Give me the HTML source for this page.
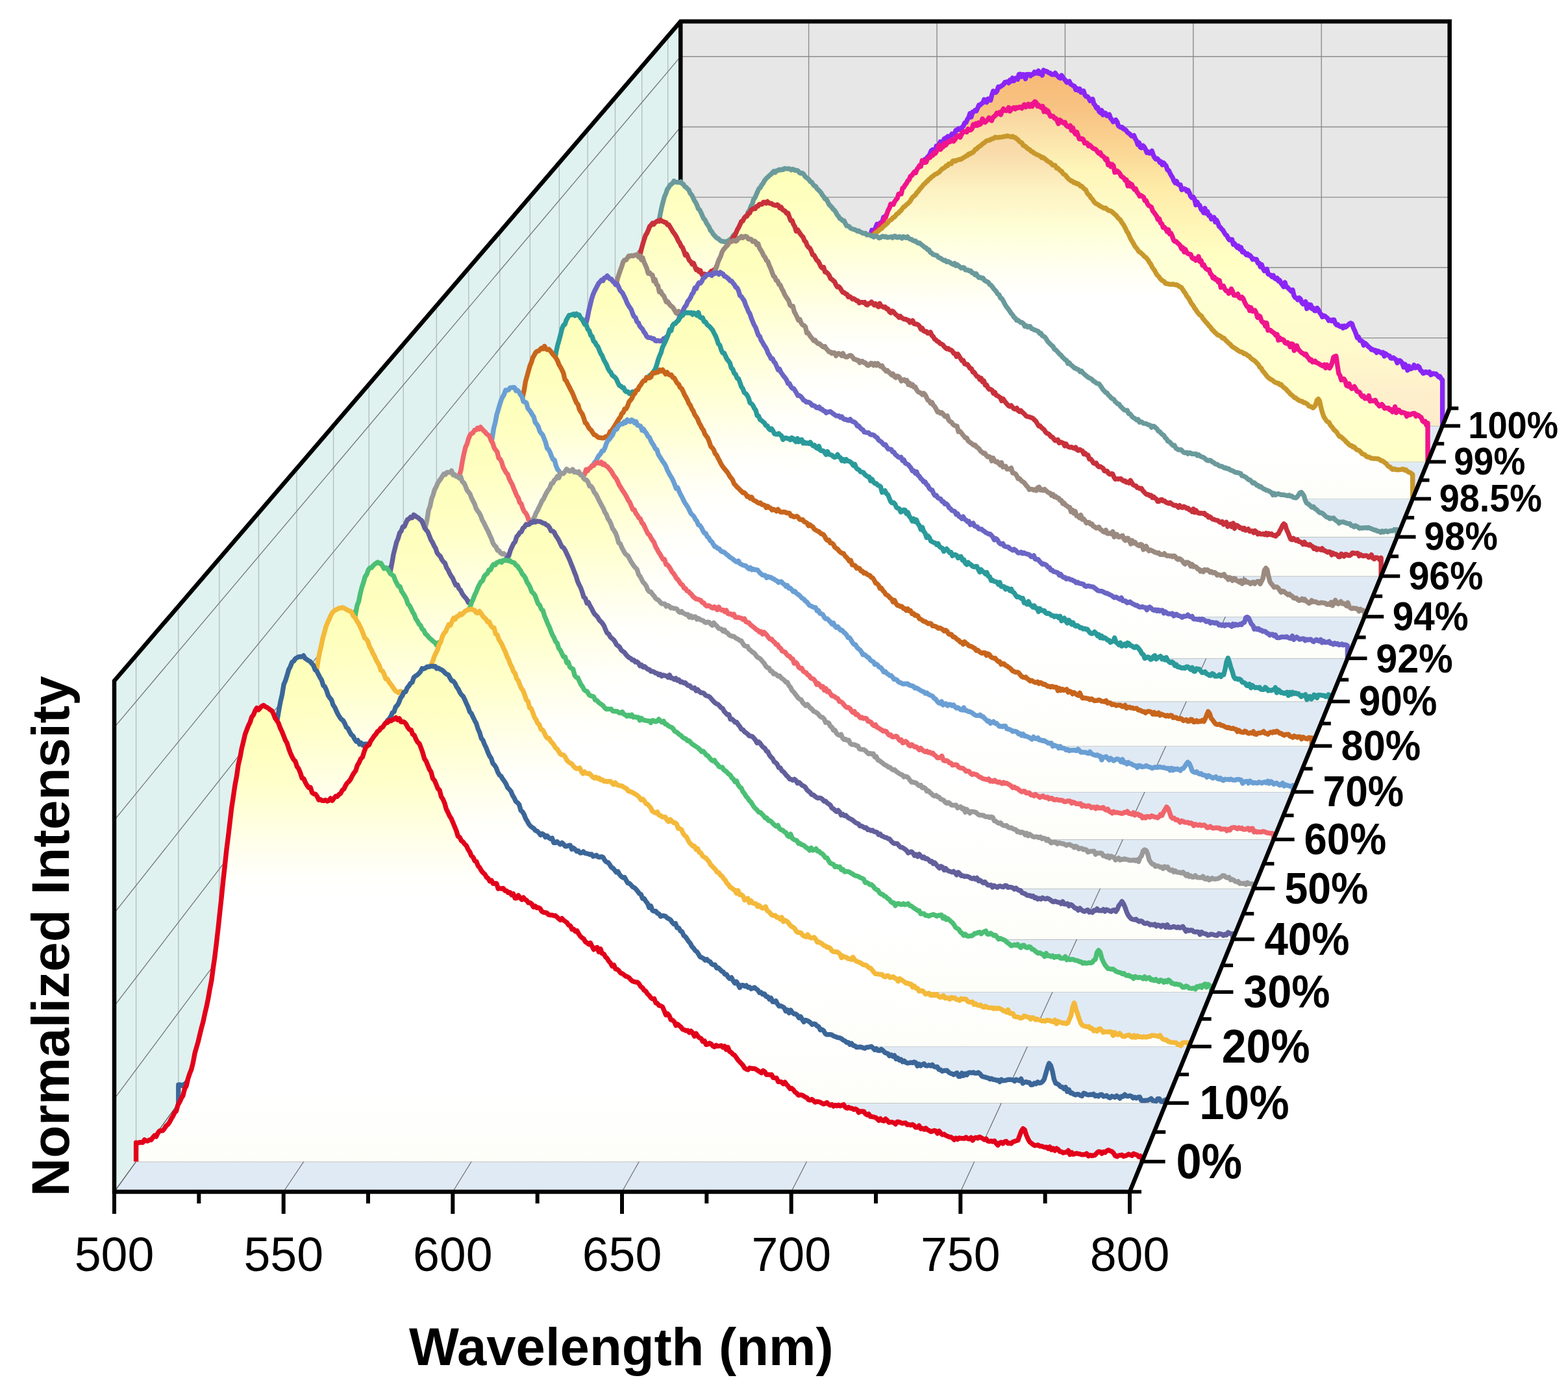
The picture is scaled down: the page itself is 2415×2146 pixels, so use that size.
<!DOCTYPE html>
<html><head><meta charset="utf-8"><title>Normalized Intensity vs Wavelength</title><style>html,body{margin:0;padding:0;background:#fff;}svg{display:block;}</style></head><body>
<svg xmlns="http://www.w3.org/2000/svg" width="2415" height="2146" viewBox="0 0 2415 2146">
<defs><linearGradient id="g0" x1="0" y1="0" x2="0" y2="1"><stop offset="0" stop-color="#fcfdb4"/><stop offset="0.03" stop-color="#fdffbb"/><stop offset="0.1" stop-color="#feffc0"/><stop offset="0.17" stop-color="#ffffcb"/><stop offset="0.24" stop-color="#ffffdb"/><stop offset="0.3" stop-color="#fffeea"/><stop offset="0.37" stop-color="#fffffa"/><stop offset="0.42" stop-color="#ffffff"/><stop offset="0.85" stop-color="#ffffff"/><stop offset="1" stop-color="#fdfef8"/></linearGradient><linearGradient id="g1" x1="0" y1="0" x2="0" y2="1"><stop offset="0" stop-color="#fcfdb4"/><stop offset="0.03" stop-color="#fdffbb"/><stop offset="0.1" stop-color="#feffc0"/><stop offset="0.17" stop-color="#ffffcb"/><stop offset="0.24" stop-color="#ffffdb"/><stop offset="0.3" stop-color="#fffeea"/><stop offset="0.37" stop-color="#fffffa"/><stop offset="0.42" stop-color="#ffffff"/><stop offset="0.85" stop-color="#ffffff"/><stop offset="1" stop-color="#fdfef8"/></linearGradient><linearGradient id="g2" x1="0" y1="0" x2="0" y2="1"><stop offset="0" stop-color="#fcfdb4"/><stop offset="0.03" stop-color="#fdffbb"/><stop offset="0.1" stop-color="#feffc0"/><stop offset="0.17" stop-color="#ffffcb"/><stop offset="0.24" stop-color="#ffffdb"/><stop offset="0.3" stop-color="#fffeea"/><stop offset="0.37" stop-color="#fffffa"/><stop offset="0.42" stop-color="#ffffff"/><stop offset="0.85" stop-color="#ffffff"/><stop offset="1" stop-color="#fdfef8"/></linearGradient><linearGradient id="g3" x1="0" y1="0" x2="0" y2="1"><stop offset="0" stop-color="#fcfdb4"/><stop offset="0.03" stop-color="#fdffbb"/><stop offset="0.1" stop-color="#feffc0"/><stop offset="0.17" stop-color="#ffffcb"/><stop offset="0.24" stop-color="#ffffdb"/><stop offset="0.3" stop-color="#fffeea"/><stop offset="0.37" stop-color="#fffffa"/><stop offset="0.42" stop-color="#ffffff"/><stop offset="0.85" stop-color="#ffffff"/><stop offset="1" stop-color="#fdfef8"/></linearGradient><linearGradient id="g4" x1="0" y1="0" x2="0" y2="1"><stop offset="0" stop-color="#fcfdb4"/><stop offset="0.03" stop-color="#fdffbb"/><stop offset="0.1" stop-color="#feffc0"/><stop offset="0.17" stop-color="#ffffcb"/><stop offset="0.24" stop-color="#ffffdb"/><stop offset="0.3" stop-color="#fffeea"/><stop offset="0.37" stop-color="#fffffa"/><stop offset="0.42" stop-color="#ffffff"/><stop offset="0.85" stop-color="#ffffff"/><stop offset="1" stop-color="#fdfef8"/></linearGradient><linearGradient id="g5" x1="0" y1="0" x2="0" y2="1"><stop offset="0" stop-color="#fcfdb4"/><stop offset="0.03" stop-color="#fdffbb"/><stop offset="0.1" stop-color="#feffc0"/><stop offset="0.17" stop-color="#ffffcb"/><stop offset="0.24" stop-color="#ffffdb"/><stop offset="0.3" stop-color="#fffeea"/><stop offset="0.37" stop-color="#fffffa"/><stop offset="0.42" stop-color="#ffffff"/><stop offset="0.85" stop-color="#ffffff"/><stop offset="1" stop-color="#fdfef8"/></linearGradient><linearGradient id="g6" x1="0" y1="0" x2="0" y2="1"><stop offset="0" stop-color="#fcfdb4"/><stop offset="0.03" stop-color="#fdffbb"/><stop offset="0.1" stop-color="#feffc0"/><stop offset="0.17" stop-color="#ffffcb"/><stop offset="0.24" stop-color="#ffffdb"/><stop offset="0.3" stop-color="#fffeea"/><stop offset="0.37" stop-color="#fffffa"/><stop offset="0.42" stop-color="#ffffff"/><stop offset="0.85" stop-color="#ffffff"/><stop offset="1" stop-color="#fdfef8"/></linearGradient><linearGradient id="g7" x1="0" y1="0" x2="0" y2="1"><stop offset="0" stop-color="#fcfdb4"/><stop offset="0.03" stop-color="#fdffbb"/><stop offset="0.1" stop-color="#feffc0"/><stop offset="0.17" stop-color="#ffffcb"/><stop offset="0.24" stop-color="#ffffdb"/><stop offset="0.3" stop-color="#fffeea"/><stop offset="0.37" stop-color="#fffffa"/><stop offset="0.42" stop-color="#ffffff"/><stop offset="0.85" stop-color="#ffffff"/><stop offset="1" stop-color="#fdfef8"/></linearGradient><linearGradient id="g8" x1="0" y1="0" x2="0" y2="1"><stop offset="0" stop-color="#fcfdb4"/><stop offset="0.03" stop-color="#fdffbb"/><stop offset="0.1" stop-color="#feffc0"/><stop offset="0.17" stop-color="#ffffcb"/><stop offset="0.24" stop-color="#ffffdb"/><stop offset="0.3" stop-color="#fffeea"/><stop offset="0.37" stop-color="#fffffa"/><stop offset="0.42" stop-color="#ffffff"/><stop offset="0.85" stop-color="#ffffff"/><stop offset="1" stop-color="#fdfef8"/></linearGradient><linearGradient id="g9" x1="0" y1="0" x2="0" y2="1"><stop offset="0" stop-color="#fcfdb4"/><stop offset="0.03" stop-color="#fdffbb"/><stop offset="0.1" stop-color="#feffc0"/><stop offset="0.17" stop-color="#ffffcb"/><stop offset="0.24" stop-color="#ffffdb"/><stop offset="0.3" stop-color="#fffeea"/><stop offset="0.37" stop-color="#fffffa"/><stop offset="0.42" stop-color="#ffffff"/><stop offset="0.85" stop-color="#ffffff"/><stop offset="1" stop-color="#fdfef8"/></linearGradient><linearGradient id="g10" x1="0" y1="0" x2="0" y2="1"><stop offset="0" stop-color="#fcfdb4"/><stop offset="0.03" stop-color="#fdffbb"/><stop offset="0.1" stop-color="#feffc0"/><stop offset="0.17" stop-color="#ffffcb"/><stop offset="0.24" stop-color="#ffffdb"/><stop offset="0.3" stop-color="#fffeea"/><stop offset="0.37" stop-color="#fffffa"/><stop offset="0.42" stop-color="#ffffff"/><stop offset="0.85" stop-color="#ffffff"/><stop offset="1" stop-color="#fdfef8"/></linearGradient><linearGradient id="g11" x1="0" y1="0" x2="0" y2="1"><stop offset="0" stop-color="#fcfdb4"/><stop offset="0.03" stop-color="#fdffbb"/><stop offset="0.1" stop-color="#feffc0"/><stop offset="0.17" stop-color="#ffffcb"/><stop offset="0.24" stop-color="#ffffdb"/><stop offset="0.3" stop-color="#fffeea"/><stop offset="0.37" stop-color="#fffffa"/><stop offset="0.42" stop-color="#ffffff"/><stop offset="0.85" stop-color="#ffffff"/><stop offset="1" stop-color="#fdfef8"/></linearGradient><linearGradient id="g12" x1="0" y1="0" x2="0" y2="1"><stop offset="0" stop-color="#fcfdb4"/><stop offset="0.03" stop-color="#fdffbb"/><stop offset="0.1" stop-color="#feffc0"/><stop offset="0.17" stop-color="#ffffcb"/><stop offset="0.24" stop-color="#ffffdb"/><stop offset="0.3" stop-color="#fffeea"/><stop offset="0.37" stop-color="#fffffa"/><stop offset="0.42" stop-color="#ffffff"/><stop offset="0.85" stop-color="#ffffff"/><stop offset="1" stop-color="#fdfef8"/></linearGradient><linearGradient id="g13" x1="0" y1="0" x2="0" y2="1"><stop offset="0" stop-color="#fcfdb4"/><stop offset="0.03" stop-color="#fdffbb"/><stop offset="0.1" stop-color="#feffc0"/><stop offset="0.17" stop-color="#ffffcb"/><stop offset="0.24" stop-color="#ffffdb"/><stop offset="0.3" stop-color="#fffeea"/><stop offset="0.37" stop-color="#fffffa"/><stop offset="0.42" stop-color="#ffffff"/><stop offset="0.85" stop-color="#ffffff"/><stop offset="1" stop-color="#fdfef8"/></linearGradient><linearGradient id="g14" x1="0" y1="0" x2="0" y2="1"><stop offset="0" stop-color="#f8d7a5"/><stop offset="0.05" stop-color="#f9dcab"/><stop offset="0.15" stop-color="#fdf2c2"/><stop offset="0.26" stop-color="#feffd7"/><stop offset="0.36" stop-color="#fffff0"/><stop offset="0.44" stop-color="#ffffff"/><stop offset="0.85" stop-color="#ffffff"/><stop offset="1" stop-color="#fdfef8"/></linearGradient><linearGradient id="g15" x1="0" y1="0" x2="0" y2="1"><stop offset="0" stop-color="#f8d096"/><stop offset="0.05" stop-color="#f9d9a3"/><stop offset="0.19" stop-color="#fef6b9"/><stop offset="0.4" stop-color="#fdffd6"/><stop offset="0.7" stop-color="#ffffcd"/><stop offset="1" stop-color="#ffffc8"/></linearGradient><linearGradient id="g16" x1="0" y1="0" x2="0" y2="1"><stop offset="0" stop-color="#f7b974"/><stop offset="0.1" stop-color="#f8c282"/><stop offset="0.19" stop-color="#fad08e"/><stop offset="0.33" stop-color="#feeba8"/><stop offset="0.53" stop-color="#ffffc4"/><stop offset="0.64" stop-color="#ffffcb"/><stop offset="0.78" stop-color="#fffacb"/><stop offset="0.9" stop-color="#fef0cc"/><stop offset="1" stop-color="#feebca"/></linearGradient></defs>
<rect width="2415" height="2146" fill="#ffffff"/>
<polygon points="1048.20,629.02 1048.20,33.01 2232.65,33.01 2232.65,629.02" fill="#e6e7e6"/>
<line x1="1245.61" y1="629.02" x2="1245.61" y2="33.01" stroke="#8c8c8c" stroke-width="1.4"/>
<line x1="1443.02" y1="629.02" x2="1443.02" y2="33.01" stroke="#8c8c8c" stroke-width="1.4"/>
<line x1="1640.42" y1="629.02" x2="1640.42" y2="33.01" stroke="#8c8c8c" stroke-width="1.4"/>
<line x1="1837.83" y1="629.02" x2="1837.83" y2="33.01" stroke="#8c8c8c" stroke-width="1.4"/>
<line x1="2035.24" y1="629.02" x2="2035.24" y2="33.01" stroke="#8c8c8c" stroke-width="1.4"/>
<line x1="1048.20" y1="520.65" x2="2232.65" y2="520.65" stroke="#8c8c8c" stroke-width="1.4"/>
<line x1="1048.20" y1="412.29" x2="2232.65" y2="412.29" stroke="#8c8c8c" stroke-width="1.4"/>
<line x1="1048.20" y1="303.92" x2="2232.65" y2="303.92" stroke="#8c8c8c" stroke-width="1.4"/>
<line x1="1048.20" y1="195.56" x2="2232.65" y2="195.56" stroke="#8c8c8c" stroke-width="1.4"/>
<line x1="1048.20" y1="87.19" x2="2232.65" y2="87.19" stroke="#8c8c8c" stroke-width="1.4"/>
<polygon points="176.00,1836.00 176.00,1049.00 1048.20,33.01 1048.20,629.02" fill="#dff2f0"/>
<line x1="209.56" y1="1789.56" x2="209.56" y2="1009.91" stroke="#b4bcbc" stroke-width="1.3"/>
<line x1="274.83" y1="1699.24" x2="274.83" y2="933.88" stroke="#b4bcbc" stroke-width="1.3"/>
<line x1="337.75" y1="1612.17" x2="337.75" y2="860.59" stroke="#b4bcbc" stroke-width="1.3"/>
<line x1="398.44" y1="1528.18" x2="398.44" y2="789.89" stroke="#b4bcbc" stroke-width="1.3"/>
<line x1="457.02" y1="1447.11" x2="457.02" y2="721.65" stroke="#b4bcbc" stroke-width="1.3"/>
<line x1="513.61" y1="1368.81" x2="513.61" y2="655.74" stroke="#b4bcbc" stroke-width="1.3"/>
<line x1="568.29" y1="1293.14" x2="568.29" y2="592.04" stroke="#b4bcbc" stroke-width="1.3"/>
<line x1="621.17" y1="1219.96" x2="621.17" y2="530.44" stroke="#b4bcbc" stroke-width="1.3"/>
<line x1="672.32" y1="1149.17" x2="672.32" y2="470.85" stroke="#b4bcbc" stroke-width="1.3"/>
<line x1="721.85" y1="1080.64" x2="721.85" y2="413.16" stroke="#b4bcbc" stroke-width="1.3"/>
<line x1="769.81" y1="1014.26" x2="769.81" y2="357.29" stroke="#b4bcbc" stroke-width="1.3"/>
<line x1="816.29" y1="949.94" x2="816.29" y2="303.15" stroke="#b4bcbc" stroke-width="1.3"/>
<line x1="861.35" y1="887.59" x2="861.35" y2="250.66" stroke="#b4bcbc" stroke-width="1.3"/>
<line x1="905.06" y1="827.11" x2="905.06" y2="199.75" stroke="#b4bcbc" stroke-width="1.3"/>
<line x1="947.47" y1="768.42" x2="947.47" y2="150.35" stroke="#b4bcbc" stroke-width="1.3"/>
<line x1="988.64" y1="711.44" x2="988.64" y2="102.39" stroke="#b4bcbc" stroke-width="1.3"/>
<line x1="1028.63" y1="656.10" x2="1028.63" y2="55.80" stroke="#b4bcbc" stroke-width="1.3"/>
<line x1="176.00" y1="1692.91" x2="1048.20" y2="520.65" stroke="#6e6e6e" stroke-width="1.2"/>
<line x1="176.00" y1="1549.82" x2="1048.20" y2="412.29" stroke="#6e6e6e" stroke-width="1.2"/>
<line x1="176.00" y1="1406.73" x2="1048.20" y2="303.92" stroke="#6e6e6e" stroke-width="1.2"/>
<line x1="176.00" y1="1263.64" x2="1048.20" y2="195.56" stroke="#6e6e6e" stroke-width="1.2"/>
<line x1="176.00" y1="1120.55" x2="1048.20" y2="87.19" stroke="#6e6e6e" stroke-width="1.2"/>
<polygon points="176.00,1836.00 1740.00,1836.00 2232.65,629.02 1048.20,629.02" fill="#e0eaf4"/>
<line x1="209.56" y1="1789.56" x2="1758.95" y2="1789.56" stroke="#b0b0b0" stroke-width="1.3"/>
<line x1="274.83" y1="1699.24" x2="1795.82" y2="1699.24" stroke="#b0b0b0" stroke-width="1.3"/>
<line x1="337.75" y1="1612.17" x2="1831.36" y2="1612.17" stroke="#b0b0b0" stroke-width="1.3"/>
<line x1="398.44" y1="1528.18" x2="1865.64" y2="1528.18" stroke="#b0b0b0" stroke-width="1.3"/>
<line x1="457.02" y1="1447.11" x2="1898.73" y2="1447.11" stroke="#b0b0b0" stroke-width="1.3"/>
<line x1="513.61" y1="1368.81" x2="1930.69" y2="1368.81" stroke="#b0b0b0" stroke-width="1.3"/>
<line x1="568.29" y1="1293.14" x2="1961.58" y2="1293.14" stroke="#b0b0b0" stroke-width="1.3"/>
<line x1="621.17" y1="1219.96" x2="1991.44" y2="1219.96" stroke="#b0b0b0" stroke-width="1.3"/>
<line x1="672.32" y1="1149.17" x2="2020.34" y2="1149.17" stroke="#b0b0b0" stroke-width="1.3"/>
<line x1="721.85" y1="1080.64" x2="2048.31" y2="1080.64" stroke="#b0b0b0" stroke-width="1.3"/>
<line x1="769.81" y1="1014.26" x2="2075.40" y2="1014.26" stroke="#b0b0b0" stroke-width="1.3"/>
<line x1="816.29" y1="949.94" x2="2101.66" y2="949.94" stroke="#b0b0b0" stroke-width="1.3"/>
<line x1="861.35" y1="887.59" x2="2127.11" y2="887.59" stroke="#b0b0b0" stroke-width="1.3"/>
<line x1="905.06" y1="827.11" x2="2151.79" y2="827.11" stroke="#b0b0b0" stroke-width="1.3"/>
<line x1="947.47" y1="768.42" x2="2175.75" y2="768.42" stroke="#b0b0b0" stroke-width="1.3"/>
<line x1="988.64" y1="711.44" x2="2199.01" y2="711.44" stroke="#b0b0b0" stroke-width="1.3"/>
<line x1="1028.63" y1="656.10" x2="2221.59" y2="656.10" stroke="#b0b0b0" stroke-width="1.3"/>
<line x1="436.67" y1="1836.00" x2="1245.61" y2="629.02" stroke="#6e6e6e" stroke-width="1.2"/>
<line x1="697.33" y1="1836.00" x2="1443.02" y2="629.02" stroke="#6e6e6e" stroke-width="1.2"/>
<line x1="958.00" y1="1836.00" x2="1640.42" y2="629.02" stroke="#6e6e6e" stroke-width="1.2"/>
<line x1="1218.67" y1="1836.00" x2="1837.83" y2="629.02" stroke="#6e6e6e" stroke-width="1.2"/>
<line x1="1479.33" y1="1836.00" x2="2035.24" y2="629.02" stroke="#6e6e6e" stroke-width="1.2"/>
<line x1="176.00" y1="1836.00" x2="1048.20" y2="629.02" stroke="#5a5a5a" stroke-width="1.3"/>
<line x1="1048.20" y1="629.02" x2="1048.20" y2="33.01" stroke="#000" stroke-width="6.5"/>
<path d="M2221.6,656.1L1028.6,656.1L1028.6,606.8 1030.6,606.0 1032.6,607.1 1034.6,608.3 1036.6,606.9 1038.6,607.7 1040.6,604.8 1042.6,601.3 1044.5,604.9 1046.5,604.6 1048.5,601.4 1050.5,601.0 1052.5,600.9 1054.5,602.6 1056.5,599.8 1058.5,597.4 1060.4,601.3 1062.4,598.5 1064.4,601.0 1066.4,598.9 1068.4,599.3 1070.4,594.8 1072.4,596.4 1074.4,592.0 1076.4,591.5 1078.3,591.4 1080.3,595.9 1082.3,590.5 1084.3,588.5 1086.3,587.2 1088.3,590.0 1090.3,586.7 1092.3,586.9 1094.2,585.6 1096.2,580.3 1098.2,583.6 1100.2,580.9 1102.2,577.8 1104.2,580.1 1106.2,578.0 1108.2,576.5 1110.2,575.5 1112.1,577.4 1114.1,573.3 1116.1,569.3 1118.1,574.8 1120.1,568.2 1122.1,568.8 1124.1,569.4 1126.1,562.1 1128.0,563.8 1130.0,567.1 1132.0,563.0 1134.0,560.6 1136.0,561.1 1138.0,557.9 1140.0,558.3 1142.0,555.4 1144.0,552.3 1145.9,555.9 1147.9,552.5 1149.9,552.7 1151.9,550.0 1153.9,551.7 1155.9,548.9 1157.9,546.6 1159.9,542.7 1161.8,540.7 1163.8,544.9 1165.8,542.3 1167.8,537.5 1169.8,542.0 1171.8,537.0 1173.8,534.7 1175.8,530.0 1177.8,529.8 1179.7,530.6 1181.7,529.1 1183.7,527.2 1185.7,521.5 1187.7,524.4 1189.7,522.5 1191.7,519.3 1193.7,518.7 1195.6,517.2 1197.6,517.6 1199.6,513.4 1201.6,512.6 1203.6,507.2 1205.6,506.6 1207.6,506.4 1209.6,503.0 1211.6,503.5 1213.5,498.5 1215.5,499.1 1217.5,495.9 1219.5,498.3 1221.5,492.7 1223.5,495.5 1225.5,494.3 1227.5,488.4 1229.4,487.9 1231.4,483.5 1233.4,476.7 1235.4,481.8 1237.4,479.3 1239.4,475.4 1241.4,472.7 1243.4,472.2 1245.4,470.2 1247.3,466.1 1249.3,464.4 1251.3,465.9 1253.3,461.6 1255.3,459.2 1257.3,459.5 1259.3,454.4 1261.3,454.8 1263.2,448.4 1265.2,448.0 1267.2,446.0 1269.2,445.4 1271.2,442.1 1273.2,444.1 1275.2,439.9 1277.2,434.2 1279.2,437.7 1281.1,428.6 1283.1,432.3 1285.1,424.3 1287.1,425.8 1289.1,419.8 1291.1,419.0 1293.1,420.6 1295.1,411.9 1297.0,409.2 1299.0,410.4 1301.0,408.6 1303.0,406.0 1305.0,405.6 1307.0,398.6 1309.0,400.0 1311.0,396.6 1313.0,395.9 1314.9,393.2 1316.9,392.4 1318.9,384.2 1320.9,385.1 1322.9,380.1 1324.9,379.9 1326.9,379.2 1328.9,376.0 1330.8,374.1 1332.8,370.4 1334.8,368.9 1336.8,366.3 1338.8,366.4 1340.8,362.6 1342.8,354.6 1344.8,357.5 1346.8,355.9 1348.7,350.3 1350.7,345.4 1352.7,349.6 1354.7,344.3 1356.7,342.8 1358.7,342.9 1360.7,334.8 1362.7,334.0 1364.7,331.4 1366.6,330.8 1368.6,325.6 1370.6,325.4 1372.6,322.0 1374.6,321.7 1376.6,319.4 1378.6,311.0 1380.6,312.6 1382.5,308.1 1384.5,306.2 1386.5,304.3 1388.5,301.6 1390.5,296.0 1392.5,295.1 1394.5,291.6 1396.5,288.1 1398.5,282.3 1400.4,280.3 1402.4,277.9 1404.4,277.0 1406.4,275.9 1408.4,267.7 1410.4,264.9 1412.4,264.7 1414.4,260.4 1416.3,257.3 1418.3,254.6 1420.3,251.9 1422.3,252.5 1424.3,245.5 1426.3,249.4 1428.3,242.1 1430.3,240.4 1432.3,237.1 1434.2,232.3 1436.2,230.7 1438.2,234.3 1440.2,233.1 1442.2,225.0 1444.2,226.8 1446.2,222.3 1448.2,218.3 1450.1,222.0 1452.1,221.2 1454.1,214.0 1456.1,212.8 1458.1,212.0 1460.1,209.9 1462.1,210.6 1464.1,210.7 1466.1,206.3 1468.0,206.9 1470.0,207.1 1472.0,200.8 1474.0,200.7 1476.0,198.1 1478.0,199.7 1480.0,197.2 1482.0,196.1 1483.9,193.8 1485.9,189.1 1487.9,188.9 1489.9,183.9 1491.9,181.4 1493.9,174.9 1495.9,180.2 1497.9,172.5 1499.9,172.3 1501.8,169.8 1503.8,170.8 1505.8,166.5 1507.8,161.7 1509.8,161.7 1511.8,159.5 1513.8,158.5 1515.8,153.4 1517.7,154.3 1519.7,157.5 1521.7,152.2 1523.7,153.3 1525.7,154.4 1527.7,146.4 1529.7,140.3 1531.7,141.4 1533.7,142.5 1535.6,140.2 1537.6,133.7 1539.6,134.3 1541.6,132.9 1543.6,131.7 1545.6,130.0 1547.6,126.9 1549.6,126.3 1551.5,126.0 1553.5,127.8 1555.5,123.3 1557.5,125.1 1559.5,120.1 1561.5,124.6 1563.5,121.2 1565.5,120.0 1567.5,122.2 1569.4,114.4 1571.4,114.3 1573.4,118.1 1575.4,114.7 1577.4,115.1 1579.4,121.5 1581.4,114.6 1583.4,115.0 1585.3,114.4 1587.3,116.8 1589.3,114.7 1591.3,114.3 1593.3,110.9 1595.3,112.5 1597.3,113.0 1599.3,109.1 1601.3,113.6 1603.2,112.9 1605.2,116.0 1607.2,108.1 1609.2,109.4 1611.2,109.7 1613.2,110.5 1615.2,112.2 1617.2,112.5 1619.1,114.3 1621.1,114.8 1623.1,115.0 1625.1,112.4 1627.1,115.3 1629.1,117.4 1631.1,119.4 1633.1,120.4 1635.1,116.1 1637.0,119.6 1639.0,121.8 1641.0,123.9 1643.0,127.0 1645.0,126.0 1647.0,125.3 1649.0,129.7 1651.0,130.7 1652.9,132.2 1654.9,132.8 1656.9,138.2 1658.9,136.5 1660.9,139.3 1662.9,136.8 1664.9,142.2 1666.9,140.7 1668.9,140.1 1670.8,146.1 1672.8,148.6 1674.8,148.6 1676.8,151.0 1678.8,155.3 1680.8,154.0 1682.8,152.6 1684.8,160.0 1686.7,162.2 1688.7,166.5 1690.7,165.7 1692.7,171.6 1694.7,173.5 1696.7,170.0 1698.7,176.9 1700.7,173.9 1702.7,174.2 1704.6,178.3 1706.6,178.6 1708.6,176.4 1710.6,182.4 1712.6,184.5 1714.6,187.7 1716.6,186.2 1718.6,184.7 1720.6,187.7 1722.5,193.9 1724.5,195.4 1726.5,196.2 1728.5,196.0 1730.5,198.7 1732.5,199.4 1734.5,200.9 1736.5,204.0 1738.4,205.3 1740.4,206.7 1742.4,209.3 1744.4,209.9 1746.4,208.7 1748.4,213.6 1750.4,216.8 1752.4,222.7 1754.4,219.8 1756.3,227.0 1758.3,227.7 1760.3,224.3 1762.3,226.4 1764.3,230.0 1766.3,235.2 1768.3,233.8 1770.3,236.1 1772.2,234.7 1774.2,232.5 1776.2,238.8 1778.2,242.7 1780.2,245.2 1782.2,244.3 1784.2,246.2 1786.2,250.2 1788.2,249.1 1790.1,254.0 1792.1,250.9 1794.1,253.3 1796.1,255.7 1798.1,261.9 1800.1,262.5 1802.1,266.9 1804.1,270.6 1806.0,273.5 1808.0,278.6 1810.0,281.7 1812.0,279.1 1814.0,283.6 1816.0,284.7 1818.0,284.6 1820.0,292.4 1822.0,291.5 1823.9,290.6 1825.9,291.4 1827.9,294.6 1829.9,293.2 1831.9,297.1 1833.9,302.7 1835.9,304.7 1837.9,303.6 1839.8,307.3 1841.8,315.7 1843.8,311.1 1845.8,315.5 1847.8,316.3 1849.8,322.4 1851.8,324.2 1853.8,327.8 1855.8,320.9 1857.7,328.5 1859.7,325.8 1861.7,332.2 1863.7,331.7 1865.7,337.4 1867.7,336.1 1869.7,334.8 1871.7,341.9 1873.6,338.8 1875.6,343.0 1877.6,348.7 1879.6,350.2 1881.6,352.9 1883.6,354.7 1885.6,358.4 1887.6,361.6 1889.6,362.9 1891.5,366.9 1893.5,369.7 1895.5,369.0 1897.5,369.0 1899.5,376.6 1901.5,375.1 1903.5,378.6 1905.5,381.3 1907.4,379.0 1909.4,384.0 1911.4,381.2 1913.4,388.1 1915.4,387.0 1917.4,390.0 1919.4,392.6 1921.4,390.9 1923.4,393.8 1925.3,393.3 1927.3,396.1 1929.3,399.7 1931.3,398.8 1933.3,399.9 1935.3,399.4 1937.3,405.4 1939.3,405.2 1941.2,411.0 1943.2,407.6 1945.2,413.6 1947.2,417.3 1949.2,415.3 1951.2,414.5 1953.2,422.3 1955.2,423.0 1957.2,423.9 1959.1,426.4 1961.1,424.4 1963.1,428.6 1965.1,429.9 1967.1,428.4 1969.1,433.0 1971.1,431.8 1973.1,436.6 1975.0,438.7 1977.0,441.9 1979.0,435.1 1981.0,442.0 1983.0,442.5 1985.0,445.1 1987.0,446.7 1989.0,448.9 1991.0,446.7 1992.9,455.5 1994.9,458.6 1996.9,459.3 1998.9,461.9 2000.9,458.9 2002.9,460.4 2004.9,466.0 2006.9,468.5 2008.8,467.5 2010.8,464.7 2012.8,475.5 2014.8,468.9 2016.8,473.6 2018.8,469.7 2020.8,475.6 2022.8,474.8 2024.8,478.8 2026.7,478.8 2028.7,474.7 2030.7,477.5 2032.7,481.7 2034.7,484.3 2036.7,488.2 2038.7,486.3 2040.7,487.0 2042.6,488.7 2044.6,490.2 2046.6,494.0 2048.6,493.1 2050.6,494.4 2052.6,492.7 2054.6,492.6 2056.6,498.3 2058.6,500.8 2060.5,500.1 2062.5,502.2 2064.5,503.2 2066.5,502.4 2068.5,505.3 2070.5,502.2 2072.5,504.0 2074.5,502.2 2076.4,500.6 2078.4,498.6 2080.4,497.8 2082.4,498.8 2084.4,505.1 2086.4,509.2 2088.4,514.2 2090.4,520.3 2092.4,519.2 2094.3,524.5 2096.3,524.8 2098.3,525.9 2100.3,531.9 2102.3,528.7 2104.3,530.3 2106.3,532.6 2108.3,534.7 2110.3,536.0 2112.2,538.7 2114.2,538.3 2116.2,540.0 2118.2,539.5 2120.2,543.3 2122.2,540.7 2124.2,541.6 2126.2,542.9 2128.1,544.3 2130.1,542.8 2132.1,548.8 2134.1,544.9 2136.1,546.5 2138.1,547.5 2140.1,548.4 2142.1,551.9 2144.1,552.1 2146.0,551.1 2148.0,552.5 2150.0,554.1 2152.0,559.1 2154.0,555.5 2156.0,555.4 2158.0,557.1 2160.0,560.3 2161.9,565.7 2163.9,561.2 2165.9,564.5 2167.9,570.5 2169.9,564.0 2171.9,568.4 2173.9,567.9 2175.9,566.5 2177.9,562.4 2179.8,566.8 2181.8,566.2 2183.8,563.9 2185.8,565.4 2187.8,570.5 2189.8,571.9 2191.8,575.2 2193.8,574.7 2195.7,572.8 2197.7,573.4 2199.7,574.6 2201.7,573.0 2203.7,577.5 2205.7,576.4 2207.7,575.2 2209.7,576.2 2211.7,575.9 2213.6,578.2 2215.6,580.7 2217.6,579.8 2219.6,583.5 2221.6,585.3Z" fill="url(#g16)" stroke="#8a25f5" stroke-width="7.4" stroke-linejoin="round" stroke-dasharray="0 1192.96 100000"/>
<path d="M2199.0,711.4L988.6,711.4L988.6,660.6 990.7,661.9 992.7,660.8 994.7,665.2 996.7,661.6 998.7,661.7 1000.7,661.7 1002.8,664.4 1004.8,659.3 1006.8,655.7 1008.8,656.3 1010.8,657.8 1012.9,655.8 1014.9,653.3 1016.9,660.7 1018.9,653.8 1020.9,651.5 1022.9,650.4 1025.0,647.3 1027.0,647.8 1029.0,648.9 1031.0,648.1 1033.0,646.1 1035.0,648.4 1037.1,646.4 1039.1,643.3 1041.1,640.0 1043.1,644.0 1045.1,642.9 1047.1,641.4 1049.2,637.8 1051.2,640.0 1053.2,635.6 1055.2,640.3 1057.2,637.5 1059.2,636.6 1061.3,633.3 1063.3,631.6 1065.3,636.6 1067.3,634.1 1069.3,630.2 1071.4,631.4 1073.4,632.3 1075.4,625.3 1077.4,625.4 1079.4,624.3 1081.4,625.4 1083.5,620.8 1085.5,622.6 1087.5,618.3 1089.5,621.8 1091.5,620.4 1093.5,616.7 1095.6,617.6 1097.6,613.1 1099.6,612.8 1101.6,614.3 1103.6,610.7 1105.6,610.4 1107.7,606.1 1109.7,608.4 1111.7,606.6 1113.7,601.4 1115.7,597.6 1117.7,596.7 1119.8,599.8 1121.8,598.0 1123.8,593.5 1125.8,595.9 1127.8,596.4 1129.9,592.4 1131.9,590.1 1133.9,591.6 1135.9,591.9 1137.9,589.9 1139.9,583.4 1142.0,585.1 1144.0,582.1 1146.0,579.7 1148.0,577.1 1150.0,577.7 1152.0,574.1 1154.1,575.6 1156.1,572.7 1158.1,572.5 1160.1,565.8 1162.1,566.7 1164.1,566.6 1166.2,564.0 1168.2,561.9 1170.2,557.9 1172.2,561.5 1174.2,558.3 1176.2,554.9 1178.3,546.3 1180.3,548.1 1182.3,548.7 1184.3,544.9 1186.3,539.8 1188.4,543.2 1190.4,541.5 1192.4,535.9 1194.4,535.6 1196.4,533.2 1198.4,533.9 1200.5,526.2 1202.5,524.7 1204.5,525.3 1206.5,522.9 1208.5,527.2 1210.5,518.9 1212.6,518.7 1214.6,515.1 1216.6,512.4 1218.6,512.6 1220.6,513.6 1222.6,506.6 1224.7,507.0 1226.7,503.8 1228.7,502.2 1230.7,499.4 1232.7,501.7 1234.8,491.2 1236.8,491.2 1238.8,486.9 1240.8,482.6 1242.8,484.9 1244.8,486.8 1246.9,482.4 1248.9,480.9 1250.9,476.9 1252.9,473.3 1254.9,475.9 1256.9,468.1 1259.0,470.2 1261.0,463.7 1263.0,462.3 1265.0,460.5 1267.0,457.6 1269.0,456.3 1271.1,454.2 1273.1,454.3 1275.1,448.1 1277.1,441.4 1279.1,438.7 1281.1,437.8 1283.2,436.9 1285.2,437.7 1287.2,430.4 1289.2,431.4 1291.2,429.1 1293.3,427.2 1295.3,423.8 1297.3,422.6 1299.3,419.4 1301.3,419.3 1303.3,415.2 1305.4,406.6 1307.4,409.6 1309.4,407.5 1311.4,403.2 1313.4,400.4 1315.4,402.1 1317.5,397.5 1319.5,392.4 1321.5,391.5 1323.5,389.3 1325.5,383.5 1327.5,386.2 1329.6,382.0 1331.6,380.9 1333.6,373.7 1335.6,379.2 1337.6,373.7 1339.6,370.9 1341.7,365.6 1343.7,363.1 1345.7,358.5 1347.7,362.6 1349.7,354.3 1351.8,353.6 1353.8,351.2 1355.8,345.0 1357.8,344.9 1359.8,344.0 1361.8,336.4 1363.9,335.3 1365.9,329.7 1367.9,323.8 1369.9,320.5 1371.9,314.2 1373.9,315.1 1376.0,315.0 1378.0,310.2 1380.0,307.7 1382.0,305.5 1384.0,298.8 1386.0,298.5 1388.1,298.8 1390.1,289.8 1392.1,288.8 1394.1,284.9 1396.1,282.7 1398.1,278.6 1400.2,277.1 1402.2,271.5 1404.2,270.5 1406.2,267.7 1408.2,264.8 1410.3,266.3 1412.3,260.7 1414.3,258.3 1416.3,254.9 1418.3,256.3 1420.3,247.3 1422.4,249.0 1424.4,250.3 1426.4,249.8 1428.4,244.9 1430.4,242.8 1432.4,242.7 1434.5,239.3 1436.5,239.4 1438.5,235.0 1440.5,236.4 1442.5,233.1 1444.5,229.1 1446.6,223.6 1448.6,230.2 1450.6,227.2 1452.6,226.3 1454.6,220.8 1456.6,223.6 1458.7,220.4 1460.7,217.8 1462.7,218.6 1464.7,217.3 1466.7,215.0 1468.8,217.6 1470.8,215.0 1472.8,211.6 1474.8,209.2 1476.8,208.9 1478.8,211.5 1480.9,207.3 1482.9,203.2 1484.9,202.6 1486.9,202.8 1488.9,203.5 1490.9,198.7 1493.0,200.3 1495.0,200.4 1497.0,198.3 1499.0,191.9 1501.0,193.7 1503.0,190.5 1505.1,193.3 1507.1,189.2 1509.1,191.9 1511.1,190.1 1513.1,183.1 1515.2,186.3 1517.2,188.4 1519.2,186.5 1521.2,184.5 1523.2,181.3 1525.2,184.1 1527.3,185.8 1529.3,181.2 1531.3,179.3 1533.3,177.9 1535.3,174.0 1537.3,175.3 1539.4,173.2 1541.4,176.7 1543.4,171.3 1545.4,167.7 1547.4,170.0 1549.4,170.5 1551.5,170.1 1553.5,165.6 1555.5,171.3 1557.5,168.8 1559.5,166.9 1561.5,165.7 1563.6,167.8 1565.6,165.6 1567.6,166.4 1569.6,164.9 1571.6,165.0 1573.7,166.8 1575.7,163.7 1577.7,161.1 1579.7,164.9 1581.7,162.8 1583.7,160.3 1585.8,164.1 1587.8,161.0 1589.8,163.9 1591.8,159.0 1593.8,156.6 1595.8,157.7 1597.9,163.6 1599.9,162.2 1601.9,164.6 1603.9,165.8 1605.9,163.7 1607.9,171.9 1610.0,168.0 1612.0,172.3 1614.0,170.7 1616.0,175.4 1618.0,179.2 1620.0,178.7 1622.1,179.2 1624.1,182.3 1626.1,182.5 1628.1,185.9 1630.1,190.7 1632.2,184.7 1634.2,186.1 1636.2,188.4 1638.2,189.7 1640.2,188.5 1642.2,193.2 1644.3,195.0 1646.3,195.2 1648.3,193.5 1650.3,201.1 1652.3,196.9 1654.3,203.2 1656.4,206.5 1658.4,203.3 1660.4,208.9 1662.4,214.1 1664.4,214.2 1666.4,213.5 1668.5,214.8 1670.5,220.4 1672.5,219.9 1674.5,220.5 1676.5,224.8 1678.5,223.6 1680.6,225.6 1682.6,227.9 1684.6,229.2 1686.6,229.4 1688.6,231.3 1690.7,234.6 1692.7,236.4 1694.7,235.2 1696.7,239.7 1698.7,240.6 1700.7,242.3 1702.8,246.2 1704.8,244.6 1706.8,254.0 1708.8,252.2 1710.8,256.6 1712.8,253.2 1714.9,255.3 1716.9,265.5 1718.9,265.1 1720.9,263.4 1722.9,265.3 1724.9,267.6 1727.0,271.7 1729.0,272.7 1731.0,274.2 1733.0,277.9 1735.0,277.1 1737.1,286.5 1739.1,281.4 1741.1,287.0 1743.1,284.1 1745.1,288.6 1747.1,291.9 1749.2,290.9 1751.2,296.0 1753.2,298.2 1755.2,302.1 1757.2,301.0 1759.2,302.3 1761.3,303.8 1763.3,309.1 1765.3,309.0 1767.3,314.0 1769.3,316.8 1771.3,317.8 1773.4,319.1 1775.4,325.0 1777.4,327.4 1779.4,330.2 1781.4,332.7 1783.4,338.3 1785.5,337.1 1787.5,343.7 1789.5,344.7 1791.5,350.5 1793.5,350.3 1795.6,352.7 1797.6,357.0 1799.6,353.9 1801.6,360.3 1803.6,359.6 1805.6,364.2 1807.7,370.4 1809.7,372.0 1811.7,372.0 1813.7,374.5 1815.7,376.0 1817.7,378.3 1819.8,383.4 1821.8,381.5 1823.8,388.1 1825.8,384.2 1827.8,388.9 1829.8,390.9 1831.9,391.5 1833.9,391.9 1835.9,397.1 1837.9,398.8 1839.9,398.1 1841.9,401.2 1844.0,399.7 1846.0,395.1 1848.0,403.1 1850.0,401.4 1852.0,408.8 1854.1,407.8 1856.1,412.2 1858.1,414.4 1860.1,415.6 1862.1,415.3 1864.1,421.2 1866.2,423.6 1868.2,428.3 1870.2,426.8 1872.2,430.7 1874.2,430.2 1876.2,434.3 1878.3,432.1 1880.3,442.8 1882.3,441.0 1884.3,440.4 1886.3,445.2 1888.3,448.0 1890.4,448.3 1892.4,452.1 1894.4,449.6 1896.4,445.0 1898.4,448.8 1900.4,454.8 1902.5,455.1 1904.5,455.0 1906.5,452.9 1908.5,458.4 1910.5,459.6 1912.6,457.7 1914.6,459.7 1916.6,464.7 1918.6,468.7 1920.6,472.1 1922.6,472.5 1924.7,478.5 1926.7,473.9 1928.7,479.5 1930.7,479.1 1932.7,478.0 1934.7,481.7 1936.8,489.1 1938.8,486.4 1940.8,487.7 1942.8,494.1 1944.8,496.6 1946.8,496.8 1948.9,502.4 1950.9,497.6 1952.9,508.9 1954.9,508.3 1956.9,508.7 1959.0,510.9 1961.0,512.1 1963.0,513.8 1965.0,516.7 1967.0,515.1 1969.0,524.1 1971.1,520.4 1973.1,523.3 1975.1,522.6 1977.1,523.8 1979.1,528.0 1981.1,529.1 1983.2,527.6 1985.2,530.4 1987.2,534.5 1989.2,529.6 1991.2,530.2 1993.2,540.1 1995.3,536.9 1997.3,532.7 1999.3,537.7 2001.3,540.0 2003.3,542.0 2005.3,544.0 2007.4,544.5 2009.4,546.7 2011.4,545.3 2013.4,549.6 2015.4,551.5 2017.5,555.0 2019.5,554.1 2021.5,557.8 2023.5,557.6 2025.5,556.1 2027.5,558.8 2029.6,559.4 2031.6,560.5 2033.6,561.9 2035.6,562.9 2037.6,563.9 2039.6,562.0 2041.7,566.9 2043.7,562.0 2045.7,565.5 2047.7,567.1 2049.7,564.1 2051.7,559.1 2053.8,550.4 2055.8,549.1 2057.8,548.6 2059.8,562.2 2061.8,575.2 2063.8,578.4 2065.9,585.4 2067.9,583.7 2069.9,583.6 2071.9,587.0 2073.9,594.0 2076.0,595.0 2078.0,591.2 2080.0,596.5 2082.0,598.8 2084.0,597.6 2086.0,595.5 2088.1,599.2 2090.1,602.9 2092.1,603.5 2094.1,604.2 2096.1,608.5 2098.1,611.0 2100.2,610.0 2102.2,613.9 2104.2,613.2 2106.2,614.0 2108.2,609.7 2110.2,617.9 2112.3,617.0 2114.3,617.8 2116.3,617.1 2118.3,616.5 2120.3,621.0 2122.3,622.7 2124.4,625.6 2126.4,625.1 2128.4,622.9 2130.4,625.3 2132.4,629.0 2134.5,628.7 2136.5,628.8 2138.5,628.5 2140.5,631.6 2142.5,630.9 2144.5,634.6 2146.6,633.0 2148.6,626.6 2150.6,635.8 2152.6,632.0 2154.6,631.6 2156.6,634.0 2158.7,636.0 2160.7,635.3 2162.7,636.0 2164.7,636.8 2166.7,641.4 2168.7,637.6 2170.8,639.4 2172.8,638.8 2174.8,637.3 2176.8,636.8 2178.8,636.9 2180.8,641.1 2182.9,639.1 2184.9,640.0 2186.9,641.8 2188.9,643.0 2190.9,648.3 2193.0,650.0 2195.0,649.0 2197.0,655.0 2199.0,651.9Z" fill="url(#g15)" stroke="#f0148c" stroke-width="7.4" stroke-linejoin="round" stroke-dasharray="0 1210.36 100000"/>
<path d="M2175.7,768.4L947.5,768.4L947.5,719.1 949.5,718.8 951.6,719.3 953.6,718.4 955.7,717.4 957.7,716.3 959.8,715.6 961.8,715.5 963.8,714.9 965.9,714.6 967.9,713.2 970.0,712.8 972.0,711.6 974.1,710.2 976.1,710.5 978.2,710.5 980.2,709.4 982.3,709.0 984.3,708.0 986.4,705.8 988.4,705.6 990.5,705.8 992.5,703.7 994.6,702.5 996.6,702.6 998.6,701.9 1000.7,700.8 1002.7,699.5 1004.8,698.4 1006.8,697.2 1008.9,696.2 1010.9,695.3 1013.0,694.2 1015.0,693.6 1017.1,693.9 1019.1,692.1 1021.2,690.8 1023.2,690.2 1025.3,688.4 1027.3,688.1 1029.4,687.3 1031.4,684.9 1033.4,684.2 1035.5,683.4 1037.5,681.9 1039.6,680.6 1041.6,679.9 1043.7,680.3 1045.7,678.1 1047.8,676.8 1049.8,675.9 1051.9,674.0 1053.9,672.2 1056.0,671.9 1058.0,671.0 1060.1,667.9 1062.1,668.0 1064.2,667.1 1066.2,665.0 1068.2,663.5 1070.3,662.8 1072.3,660.6 1074.4,659.9 1076.4,658.7 1078.5,656.7 1080.5,654.9 1082.6,654.3 1084.6,652.3 1086.7,651.0 1088.7,647.9 1090.8,648.4 1092.8,645.6 1094.9,644.9 1096.9,643.4 1099.0,641.3 1101.0,639.6 1103.1,637.8 1105.1,636.7 1107.1,635.6 1109.2,633.9 1111.2,631.7 1113.3,629.9 1115.3,627.8 1117.4,626.6 1119.4,624.5 1121.5,622.5 1123.5,621.5 1125.6,620.6 1127.6,618.7 1129.7,617.0 1131.7,613.5 1133.8,613.0 1135.8,610.0 1137.9,608.5 1139.9,605.9 1141.9,604.4 1144.0,603.1 1146.0,601.2 1148.1,599.1 1150.1,597.1 1152.2,595.5 1154.2,593.2 1156.3,590.3 1158.3,590.1 1160.4,587.0 1162.4,585.6 1164.5,582.9 1166.5,580.4 1168.6,578.8 1170.6,576.3 1172.7,575.4 1174.7,571.8 1176.7,570.6 1178.8,567.7 1180.8,565.8 1182.9,565.1 1184.9,561.9 1187.0,559.1 1189.0,556.1 1191.1,554.6 1193.1,552.3 1195.2,551.0 1197.2,547.1 1199.3,544.5 1201.3,543.2 1203.4,541.0 1205.4,539.5 1207.5,535.7 1209.5,532.3 1211.5,531.0 1213.6,528.3 1215.6,526.3 1217.7,524.8 1219.7,521.0 1221.8,520.0 1223.8,517.0 1225.9,514.3 1227.9,511.5 1230.0,509.3 1232.0,506.8 1234.1,504.9 1236.1,502.7 1238.2,499.4 1240.2,497.3 1242.3,495.1 1244.3,492.6 1246.3,489.6 1248.4,487.8 1250.4,485.0 1252.5,482.6 1254.5,479.0 1256.6,476.3 1258.6,472.8 1260.7,472.2 1262.7,469.1 1264.8,465.6 1266.8,463.6 1268.9,461.1 1270.9,457.3 1273.0,455.9 1275.0,453.7 1277.1,451.2 1279.1,447.6 1281.2,445.0 1283.2,443.3 1285.2,440.4 1287.3,436.9 1289.3,434.3 1291.4,432.3 1293.4,428.9 1295.5,426.3 1297.5,425.0 1299.6,421.5 1301.6,418.5 1303.7,416.4 1305.7,414.6 1307.8,410.9 1309.8,407.7 1311.9,404.6 1313.9,404.0 1316.0,398.7 1318.0,398.2 1320.0,394.3 1322.1,391.6 1324.1,389.1 1326.2,386.9 1328.2,385.0 1330.3,381.4 1332.3,379.6 1334.4,378.0 1336.4,372.4 1338.5,371.0 1340.5,367.8 1342.6,366.8 1344.6,363.1 1346.7,360.7 1348.7,358.5 1350.8,357.3 1352.8,356.0 1354.8,353.5 1356.9,352.9 1358.9,350.9 1361.0,348.2 1363.0,347.2 1365.1,345.1 1367.1,343.4 1369.2,340.5 1371.2,339.1 1373.3,338.0 1375.3,335.3 1377.4,334.5 1379.4,332.2 1381.5,329.4 1383.5,328.6 1385.6,326.0 1387.6,324.5 1389.6,321.7 1391.7,318.8 1393.7,318.1 1395.8,315.5 1397.8,314.1 1399.9,312.1 1401.9,309.9 1404.0,306.1 1406.0,303.3 1408.1,301.9 1410.1,300.1 1412.2,296.8 1414.2,294.9 1416.3,291.7 1418.3,289.5 1420.4,287.1 1422.4,284.4 1424.5,282.8 1426.5,280.4 1428.5,279.0 1430.6,276.3 1432.6,275.1 1434.7,272.7 1436.7,271.6 1438.8,269.6 1440.8,268.1 1442.9,267.8 1444.9,266.1 1447.0,264.8 1449.0,262.3 1451.1,260.2 1453.1,259.1 1455.2,258.1 1457.2,255.5 1459.3,255.6 1461.3,252.4 1463.3,252.2 1465.4,252.2 1467.4,248.0 1469.5,247.7 1471.5,248.3 1473.6,246.9 1475.6,246.4 1477.7,245.5 1479.7,245.6 1481.8,244.3 1483.8,242.8 1485.9,241.9 1487.9,240.2 1490.0,239.7 1492.0,237.1 1494.1,237.4 1496.1,235.4 1498.1,235.1 1500.2,233.1 1502.2,230.0 1504.3,229.6 1506.3,227.0 1508.4,225.6 1510.4,224.4 1512.5,222.4 1514.5,220.9 1516.6,219.5 1518.6,217.5 1520.7,216.5 1522.7,216.2 1524.8,215.6 1526.8,214.2 1528.9,213.9 1530.9,212.7 1532.9,211.3 1535.0,211.9 1537.0,211.9 1539.1,211.5 1541.1,211.4 1543.2,211.1 1545.2,210.7 1547.3,210.1 1549.3,210.0 1551.4,209.2 1553.4,209.9 1555.5,210.1 1557.5,211.0 1559.6,210.0 1561.6,211.5 1563.7,211.9 1565.7,213.8 1567.7,215.0 1569.8,217.8 1571.8,219.2 1573.9,220.1 1575.9,224.2 1578.0,224.7 1580.0,226.1 1582.1,228.4 1584.1,229.7 1586.2,230.8 1588.2,233.2 1590.3,233.8 1592.3,235.7 1594.4,236.8 1596.4,237.9 1598.5,238.8 1600.5,239.8 1602.6,240.8 1604.6,243.1 1606.6,242.4 1608.7,244.2 1610.7,245.7 1612.8,247.7 1614.8,249.0 1616.9,250.0 1618.9,251.5 1621.0,254.2 1623.0,254.4 1625.1,254.7 1627.1,259.0 1629.2,259.0 1631.2,261.1 1633.3,263.1 1635.3,264.1 1637.4,267.6 1639.4,268.8 1641.4,270.2 1643.5,273.3 1645.5,275.4 1647.6,276.9 1649.6,278.8 1651.7,279.0 1653.7,281.4 1655.8,281.2 1657.8,283.2 1659.9,282.8 1661.9,284.1 1664.0,286.7 1666.0,286.7 1668.1,289.1 1670.1,291.0 1672.2,292.4 1674.2,296.8 1676.2,299.8 1678.3,301.3 1680.3,305.0 1682.4,306.8 1684.4,309.9 1686.5,312.6 1688.5,314.0 1690.6,314.7 1692.6,316.2 1694.7,317.8 1696.7,318.8 1698.8,319.8 1700.8,320.9 1702.9,320.4 1704.9,322.4 1707.0,324.0 1709.0,324.7 1711.0,325.2 1713.1,326.6 1715.1,328.4 1717.2,330.4 1719.2,331.8 1721.3,334.8 1723.3,337.0 1725.4,338.4 1727.4,342.2 1729.5,345.0 1731.5,348.1 1733.6,352.2 1735.6,356.6 1737.7,359.4 1739.7,364.2 1741.8,368.7 1743.8,371.8 1745.9,375.4 1747.9,379.3 1749.9,381.7 1752.0,384.3 1754.0,387.6 1756.1,388.6 1758.1,390.5 1760.2,392.3 1762.2,394.8 1764.3,396.1 1766.3,398.2 1768.4,400.8 1770.4,404.6 1772.5,406.9 1774.5,411.5 1776.6,414.5 1778.6,417.1 1780.7,421.4 1782.7,424.3 1784.7,426.0 1786.8,429.2 1788.8,431.2 1790.9,432.7 1792.9,433.6 1795.0,436.7 1797.0,436.8 1799.1,437.5 1801.1,437.9 1803.2,438.0 1805.2,438.2 1807.3,437.7 1809.3,438.7 1811.4,438.6 1813.4,439.1 1815.5,440.9 1817.5,441.9 1819.5,442.9 1821.6,446.0 1823.6,449.3 1825.7,452.0 1827.7,455.7 1829.8,458.4 1831.8,461.4 1833.9,465.7 1835.9,468.7 1838.0,471.1 1840.0,475.0 1842.1,477.5 1844.1,480.9 1846.2,483.3 1848.2,485.6 1850.3,486.4 1852.3,490.2 1854.3,492.6 1856.4,495.1 1858.4,497.4 1860.5,499.6 1862.5,502.5 1864.6,504.1 1866.6,507.6 1868.7,509.2 1870.7,511.8 1872.8,513.3 1874.8,515.8 1876.9,516.3 1878.9,517.4 1881.0,518.6 1883.0,521.1 1885.1,520.9 1887.1,523.4 1889.1,525.4 1891.2,527.3 1893.2,529.3 1895.3,530.9 1897.3,533.6 1899.4,535.1 1901.4,535.9 1903.5,537.4 1905.5,539.0 1907.6,540.3 1909.6,541.6 1911.7,542.2 1913.7,542.6 1915.8,545.0 1917.8,544.7 1919.9,546.2 1921.9,548.2 1924.0,548.7 1926.0,551.3 1928.0,553.0 1930.1,554.3 1932.1,555.6 1934.2,557.5 1936.2,559.9 1938.3,561.9 1940.3,565.8 1942.4,567.0 1944.4,570.9 1946.5,573.2 1948.5,575.7 1950.6,578.6 1952.6,581.0 1954.7,582.8 1956.7,584.1 1958.8,585.2 1960.8,586.5 1962.8,588.5 1964.9,589.3 1966.9,590.2 1969.0,590.3 1971.0,592.8 1973.1,592.3 1975.1,594.9 1977.2,596.9 1979.2,598.3 1981.3,600.1 1983.3,602.7 1985.4,604.5 1987.4,607.1 1989.5,608.5 1991.5,610.2 1993.6,612.6 1995.6,613.0 1997.6,614.9 1999.7,616.0 2001.7,617.5 2003.8,618.0 2005.8,618.3 2007.9,620.4 2009.9,620.3 2012.0,621.6 2014.0,622.9 2016.1,625.7 2018.1,626.0 2020.2,627.0 2022.2,628.4 2024.3,626.5 2026.3,623.7 2028.4,616.5 2030.4,614.7 2032.4,617.6 2034.5,627.6 2036.5,634.9 2038.6,641.4 2040.6,644.5 2042.7,647.9 2044.7,649.8 2046.8,650.5 2048.8,654.6 2050.9,657.1 2052.9,659.5 2055.0,662.6 2057.0,664.0 2059.1,666.2 2061.1,669.8 2063.2,672.5 2065.2,672.8 2067.3,674.7 2069.3,676.6 2071.3,678.1 2073.4,681.0 2075.4,682.3 2077.5,684.7 2079.5,686.3 2081.6,686.5 2083.6,688.8 2085.7,688.5 2087.7,691.1 2089.8,692.9 2091.8,693.5 2093.9,694.4 2095.9,696.6 2098.0,699.1 2100.0,699.7 2102.1,700.6 2104.1,702.9 2106.1,704.0 2108.2,703.9 2110.2,705.0 2112.3,706.1 2114.3,706.1 2116.4,706.6 2118.4,706.4 2120.5,706.8 2122.5,706.8 2124.6,707.7 2126.6,709.8 2128.7,709.8 2130.7,710.9 2132.8,712.7 2134.8,714.1 2136.9,716.8 2138.9,718.8 2140.9,719.3 2143.0,721.7 2145.0,723.3 2147.1,722.2 2149.1,723.5 2151.2,723.3 2153.2,723.8 2155.3,723.6 2157.3,723.4 2159.4,722.9 2161.4,722.6 2163.5,724.6 2165.5,723.8 2167.6,726.1 2169.6,727.4 2171.7,727.9 2173.7,729.5 2175.7,731.0Z" fill="url(#g14)" stroke="#c8982c" stroke-width="7.4" stroke-linejoin="round" stroke-dasharray="0 1228.28 100000"/>
<path d="M2151.8,827.1L905.1,827.1L905.1,793.2 907.1,795.1 909.2,793.4 911.3,792.1 913.4,789.4 915.4,788.9 917.5,785.2 919.6,783.8 921.7,779.0 923.8,777.1 925.8,773.0 927.9,767.0 930.0,764.0 932.1,759.6 934.1,752.9 936.2,749.4 938.3,745.1 940.4,738.1 942.5,733.9 944.5,725.8 946.6,719.3 948.7,714.2 950.8,707.3 952.8,699.3 954.9,691.9 957.0,684.9 959.1,675.5 961.2,669.2 963.2,659.0 965.3,649.8 967.4,640.2 969.5,629.8 971.5,620.9 973.6,608.8 975.7,598.5 977.8,587.5 979.9,576.4 981.9,564.1 984.0,550.3 986.1,538.6 988.2,524.5 990.3,510.1 992.3,496.2 994.4,481.6 996.5,468.7 998.6,454.6 1000.6,437.9 1002.7,423.4 1004.8,407.6 1006.9,393.5 1009.0,377.9 1011.0,364.0 1013.1,350.9 1015.2,338.8 1017.3,328.0 1019.3,318.5 1021.4,310.3 1023.5,302.7 1025.6,298.2 1027.7,291.6 1029.7,289.3 1031.8,285.3 1033.9,283.9 1036.0,282.2 1038.0,279.0 1040.1,280.3 1042.2,280.9 1044.3,280.7 1046.4,281.0 1048.4,279.9 1050.5,282.9 1052.6,283.9 1054.7,287.5 1056.7,288.5 1058.8,290.8 1060.9,292.6 1063.0,297.8 1065.1,300.0 1067.1,303.8 1069.2,308.6 1071.3,311.6 1073.4,315.7 1075.4,321.5 1077.5,323.1 1079.6,327.3 1081.7,332.2 1083.8,337.0 1085.8,338.5 1087.9,343.4 1090.0,346.5 1092.1,349.7 1094.1,354.7 1096.2,356.7 1098.3,360.5 1100.4,362.9 1102.5,365.1 1104.5,367.0 1106.6,367.8 1108.7,370.0 1110.8,371.3 1112.8,372.1 1114.9,371.9 1117.0,372.9 1119.1,372.1 1121.2,370.9 1123.2,370.1 1125.3,368.2 1127.4,366.8 1129.5,362.6 1131.5,361.0 1133.6,359.4 1135.7,357.4 1137.8,352.8 1139.9,351.4 1141.9,348.6 1144.0,344.8 1146.1,341.0 1148.2,335.9 1150.2,332.8 1152.3,326.4 1154.4,324.1 1156.5,317.9 1158.6,314.6 1160.6,307.4 1162.7,304.6 1164.8,300.0 1166.9,295.0 1168.9,290.7 1171.0,289.0 1173.1,285.0 1175.2,282.7 1177.3,278.5 1179.3,276.0 1181.4,273.8 1183.5,272.0 1185.6,269.8 1187.7,268.4 1189.7,265.9 1191.8,263.8 1193.9,265.7 1196.0,263.2 1198.0,262.7 1200.1,261.3 1202.2,262.0 1204.3,260.9 1206.4,261.3 1208.4,259.5 1210.5,259.9 1212.6,260.1 1214.7,259.7 1216.7,260.5 1218.8,261.9 1220.9,260.6 1223.0,261.5 1225.1,262.6 1227.1,262.4 1229.2,263.2 1231.3,266.2 1233.4,267.1 1235.4,266.4 1237.5,267.9 1239.6,271.3 1241.7,273.4 1243.8,274.8 1245.8,276.6 1247.9,279.7 1250.0,280.5 1252.1,283.9 1254.1,286.2 1256.2,286.8 1258.3,290.6 1260.4,292.5 1262.5,294.5 1264.5,296.9 1266.6,300.6 1268.7,303.0 1270.8,306.5 1272.8,307.1 1274.9,310.9 1277.0,315.3 1279.1,317.2 1281.2,319.4 1283.2,322.4 1285.3,324.0 1287.4,327.0 1289.5,331.2 1291.5,333.3 1293.6,336.8 1295.7,337.7 1297.8,340.0 1299.9,339.9 1301.9,344.1 1304.0,347.8 1306.1,348.3 1308.2,349.2 1310.2,351.7 1312.3,352.6 1314.4,353.3 1316.5,353.6 1318.6,354.9 1320.6,356.2 1322.7,355.5 1324.8,357.3 1326.9,358.0 1328.9,359.4 1331.0,359.7 1333.1,359.2 1335.2,362.0 1337.3,361.5 1339.3,361.6 1341.4,363.3 1343.5,363.4 1345.6,365.1 1347.6,363.4 1349.7,363.9 1351.8,364.9 1353.9,366.7 1356.0,366.2 1358.0,364.5 1360.1,363.9 1362.2,365.1 1364.3,364.3 1366.3,365.9 1368.4,365.5 1370.5,365.2 1372.6,364.8 1374.7,366.4 1376.7,364.1 1378.8,363.7 1380.9,365.7 1383.0,365.9 1385.1,364.4 1387.1,365.4 1389.2,367.0 1391.3,364.5 1393.4,365.4 1395.4,366.4 1397.5,364.7 1399.6,367.0 1401.7,368.5 1403.8,368.6 1405.8,370.4 1407.9,371.2 1410.0,371.3 1412.1,373.3 1414.1,374.5 1416.2,374.1 1418.3,376.2 1420.4,377.7 1422.5,379.5 1424.5,381.2 1426.6,382.0 1428.7,384.8 1430.8,384.8 1432.8,388.8 1434.9,389.7 1437.0,392.1 1439.1,392.6 1441.2,393.2 1443.2,393.7 1445.3,396.6 1447.4,397.2 1449.5,398.5 1451.5,399.9 1453.6,401.2 1455.7,401.0 1457.8,403.4 1459.9,402.7 1461.9,403.6 1464.0,405.1 1466.1,406.3 1468.2,407.5 1470.2,405.7 1472.3,409.4 1474.4,407.8 1476.5,409.6 1478.6,411.4 1480.6,413.0 1482.7,412.0 1484.8,412.4 1486.9,415.6 1488.9,416.1 1491.0,415.9 1493.1,417.6 1495.2,417.2 1497.3,420.4 1499.3,420.6 1501.4,423.3 1503.5,421.6 1505.6,425.2 1507.6,427.7 1509.7,427.2 1511.8,428.5 1513.9,428.2 1516.0,431.6 1518.0,432.9 1520.1,434.0 1522.2,434.9 1524.3,438.2 1526.3,439.3 1528.4,441.9 1530.5,444.9 1532.6,447.0 1534.7,449.6 1536.7,453.0 1538.8,454.0 1540.9,459.1 1543.0,460.0 1545.0,463.3 1547.1,467.4 1549.2,471.3 1551.3,474.1 1553.4,476.7 1555.4,479.6 1557.5,482.9 1559.6,485.0 1561.7,488.7 1563.7,490.1 1565.8,493.5 1567.9,493.1 1570.0,495.1 1572.1,496.9 1574.1,496.8 1576.2,498.5 1578.3,502.7 1580.4,501.5 1582.5,503.9 1584.5,502.9 1586.6,502.8 1588.7,506.4 1590.8,506.9 1592.8,508.2 1594.9,508.7 1597.0,509.6 1599.1,510.4 1601.2,513.7 1603.2,513.2 1605.3,517.2 1607.4,518.2 1609.5,519.6 1611.5,522.2 1613.6,526.0 1615.7,528.1 1617.8,530.3 1619.9,532.3 1621.9,533.7 1624.0,538.1 1626.1,539.0 1628.2,541.2 1630.2,543.6 1632.3,545.9 1634.4,547.3 1636.5,550.3 1638.6,552.1 1640.6,554.3 1642.7,555.1 1644.8,560.0 1646.9,558.9 1648.9,561.7 1651.0,563.2 1653.1,565.2 1655.2,567.3 1657.3,567.4 1659.3,569.0 1661.4,569.5 1663.5,572.6 1665.6,571.6 1667.6,574.1 1669.7,576.1 1671.8,578.0 1673.9,579.6 1676.0,581.4 1678.0,582.4 1680.1,583.3 1682.2,584.9 1684.3,587.5 1686.3,588.0 1688.4,590.1 1690.5,590.9 1692.6,591.2 1694.7,594.2 1696.7,597.0 1698.8,600.3 1700.9,602.4 1703.0,604.9 1705.0,605.2 1707.1,608.7 1709.2,610.2 1711.3,612.9 1713.4,614.3 1715.4,615.1 1717.5,618.7 1719.6,620.2 1721.7,622.4 1723.7,622.7 1725.8,626.1 1727.9,628.0 1730.0,630.1 1732.1,631.9 1734.1,632.2 1736.2,632.3 1738.3,637.3 1740.4,637.5 1742.4,640.0 1744.5,642.9 1746.6,643.8 1748.7,645.3 1750.8,647.1 1752.8,646.1 1754.9,650.5 1757.0,649.6 1759.1,650.5 1761.1,652.2 1763.2,652.4 1765.3,652.6 1767.4,654.0 1769.5,654.6 1771.5,655.2 1773.6,658.4 1775.7,656.4 1777.8,656.8 1779.9,659.1 1781.9,660.5 1784.0,664.2 1786.1,664.8 1788.2,667.4 1790.2,669.4 1792.3,670.3 1794.4,674.1 1796.5,675.8 1798.6,679.6 1800.6,680.2 1802.7,682.1 1804.8,684.7 1806.9,686.6 1808.9,686.1 1811.0,690.4 1813.1,691.8 1815.2,693.0 1817.3,692.6 1819.3,692.9 1821.4,695.4 1823.5,697.1 1825.6,697.6 1827.6,696.9 1829.7,699.1 1831.8,697.5 1833.9,697.9 1836.0,699.4 1838.0,699.2 1840.1,699.5 1842.2,699.2 1844.3,701.9 1846.3,700.6 1848.4,702.6 1850.5,703.8 1852.6,704.1 1854.7,705.4 1856.7,707.3 1858.8,709.1 1860.9,709.8 1863.0,708.9 1865.0,709.6 1867.1,711.8 1869.2,712.3 1871.3,714.6 1873.4,715.1 1875.4,715.6 1877.5,717.6 1879.6,718.4 1881.7,718.3 1883.7,719.5 1885.8,721.0 1887.9,720.7 1890.0,722.1 1892.1,721.9 1894.1,723.6 1896.2,724.7 1898.3,725.2 1900.4,726.3 1902.4,727.5 1904.5,728.1 1906.6,728.0 1908.7,729.0 1910.8,729.4 1912.8,733.0 1914.9,733.1 1917.0,734.4 1919.1,735.3 1921.1,737.3 1923.2,739.0 1925.3,739.4 1927.4,741.5 1929.5,744.2 1931.5,743.5 1933.6,745.1 1935.7,747.7 1937.8,747.7 1939.8,750.1 1941.9,749.6 1944.0,751.8 1946.1,753.3 1948.2,753.9 1950.2,755.3 1952.3,755.5 1954.4,756.5 1956.5,757.7 1958.5,759.1 1960.6,762.6 1962.7,760.1 1964.8,762.4 1966.9,761.0 1968.9,760.5 1971.0,761.5 1973.1,762.2 1975.2,762.1 1977.3,762.3 1979.3,762.8 1981.4,763.2 1983.5,763.9 1985.6,762.7 1987.6,764.4 1989.7,764.3 1991.8,766.1 1993.9,766.6 1996.0,767.0 1998.0,765.4 2000.1,762.3 2002.2,759.2 2004.3,758.3 2006.3,760.7 2008.4,764.1 2010.5,771.3 2012.6,775.2 2014.7,776.1 2016.7,777.9 2018.8,779.7 2020.9,781.7 2023.0,780.6 2025.0,783.5 2027.1,784.6 2029.2,786.5 2031.3,788.8 2033.4,790.1 2035.4,790.0 2037.5,791.4 2039.6,793.3 2041.7,795.4 2043.7,796.9 2045.8,797.1 2047.9,799.1 2050.0,798.1 2052.1,798.8 2054.1,798.1 2056.2,800.5 2058.3,802.4 2060.4,803.3 2062.4,806.1 2064.5,804.2 2066.6,804.4 2068.7,804.0 2070.8,804.9 2072.8,805.5 2074.9,806.4 2077.0,806.7 2079.1,806.8 2081.1,809.7 2083.2,810.0 2085.3,811.6 2087.4,809.8 2089.5,810.9 2091.5,811.9 2093.6,814.0 2095.7,813.1 2097.8,813.6 2099.8,813.2 2101.9,813.3 2104.0,812.7 2106.1,813.5 2108.2,812.7 2110.2,813.7 2112.3,814.8 2114.4,815.4 2116.5,816.6 2118.5,816.4 2120.6,818.0 2122.7,818.1 2124.8,819.0 2126.9,820.2 2128.9,818.2 2131.0,819.7 2133.1,818.1 2135.2,818.0 2137.2,819.5 2139.3,818.5 2141.4,817.8 2143.5,817.7 2145.6,817.7 2147.6,815.7 2149.7,816.3 2151.8,815.7Z" fill="url(#g13)" stroke="#6a9a9b" stroke-width="7.4" stroke-linejoin="round" stroke-dasharray="0 1246.74 100000"/>
<path d="M2127.1,887.6L861.4,887.6L861.4,856.9 863.5,855.7 865.6,856.8 867.7,855.2 869.8,853.6 871.9,853.3 874.0,852.8 876.1,852.3 878.2,848.7 880.3,846.4 882.4,845.0 884.6,843.1 886.7,838.4 888.8,832.5 890.9,833.2 893.0,828.6 895.1,824.7 897.2,824.9 899.3,816.6 901.4,813.2 903.5,805.3 905.7,802.5 907.8,797.8 909.9,791.3 912.0,784.7 914.1,779.4 916.2,772.0 918.3,766.9 920.4,757.9 922.5,748.8 924.6,739.0 926.7,732.4 928.9,724.3 931.0,713.8 933.1,704.5 935.2,693.6 937.3,684.2 939.4,675.2 941.5,663.5 943.6,652.1 945.7,640.0 947.8,627.9 950.0,616.7 952.1,605.6 954.2,590.3 956.3,578.7 958.4,561.9 960.5,548.0 962.6,536.3 964.7,518.7 966.8,504.2 968.9,491.1 971.0,474.7 973.2,460.5 975.3,451.4 977.4,435.1 979.5,423.4 981.6,411.6 983.7,399.9 985.8,392.4 987.9,383.4 990.0,375.9 992.1,369.1 994.3,362.3 996.4,359.3 998.5,354.6 1000.6,348.8 1002.7,346.9 1004.8,344.0 1006.9,345.6 1009.0,342.7 1011.1,341.5 1013.2,340.2 1015.4,340.9 1017.5,338.9 1019.6,340.8 1021.7,341.4 1023.8,342.5 1025.9,342.9 1028.0,346.4 1030.1,346.3 1032.2,349.9 1034.3,353.4 1036.4,356.9 1038.6,359.8 1040.7,362.8 1042.8,366.7 1044.9,371.4 1047.0,374.4 1049.1,379.3 1051.2,381.3 1053.3,386.7 1055.4,393.1 1057.5,391.5 1059.7,396.5 1061.8,401.4 1063.9,403.0 1066.0,406.9 1068.1,405.3 1070.2,410.3 1072.3,415.7 1074.4,414.9 1076.5,418.3 1078.6,416.6 1080.7,422.3 1082.9,424.9 1085.0,422.1 1087.1,422.9 1089.2,422.9 1091.3,425.0 1093.4,420.5 1095.5,417.7 1097.6,421.5 1099.7,415.4 1101.8,416.0 1104.0,409.5 1106.1,409.6 1108.2,407.7 1110.3,402.6 1112.4,399.9 1114.5,397.7 1116.6,391.8 1118.7,389.2 1120.8,386.6 1122.9,376.4 1125.0,375.2 1127.2,371.0 1129.3,365.1 1131.4,363.5 1133.5,359.1 1135.6,353.9 1137.7,350.3 1139.8,345.9 1141.9,341.1 1144.0,340.4 1146.1,336.1 1148.3,333.3 1150.4,333.2 1152.5,328.9 1154.6,328.4 1156.7,323.5 1158.8,322.4 1160.9,321.3 1163.0,321.6 1165.1,318.0 1167.2,317.9 1169.4,314.6 1171.5,314.7 1173.6,314.8 1175.7,311.5 1177.8,311.4 1179.9,313.0 1182.0,310.5 1184.1,312.8 1186.2,313.3 1188.3,313.4 1190.4,315.4 1192.6,315.9 1194.7,316.6 1196.8,315.3 1198.9,316.5 1201.0,320.4 1203.1,319.1 1205.2,323.0 1207.3,324.2 1209.4,325.5 1211.5,328.7 1213.7,328.3 1215.8,334.5 1217.9,339.8 1220.0,339.7 1222.1,345.7 1224.2,349.0 1226.3,356.3 1228.4,353.8 1230.5,357.2 1232.6,360.3 1234.7,363.1 1236.9,365.2 1239.0,370.9 1241.1,372.6 1243.2,378.3 1245.3,381.1 1247.4,382.3 1249.5,386.6 1251.6,392.4 1253.7,393.1 1255.8,397.0 1258.0,401.0 1260.1,402.2 1262.2,406.3 1264.3,410.9 1266.4,413.0 1268.5,411.6 1270.6,419.0 1272.7,419.2 1274.8,421.2 1276.9,423.8 1279.1,429.0 1281.2,430.3 1283.3,432.3 1285.4,434.0 1287.5,438.7 1289.6,442.0 1291.7,441.4 1293.8,443.6 1295.9,446.9 1298.0,450.3 1300.1,450.6 1302.3,452.7 1304.4,453.1 1306.5,457.4 1308.6,456.7 1310.7,458.2 1312.8,460.8 1314.9,460.0 1317.0,461.4 1319.1,463.2 1321.2,463.1 1323.4,466.7 1325.5,465.6 1327.6,465.6 1329.7,466.3 1331.8,465.6 1333.9,469.2 1336.0,469.9 1338.1,467.5 1340.2,467.3 1342.3,465.1 1344.4,467.5 1346.6,470.0 1348.7,468.0 1350.8,470.9 1352.9,472.6 1355.0,467.5 1357.1,471.8 1359.2,472.2 1361.3,473.5 1363.4,472.8 1365.5,476.0 1367.7,475.8 1369.8,480.1 1371.9,481.8 1374.0,479.0 1376.1,480.2 1378.2,483.0 1380.3,484.9 1382.4,486.4 1384.5,489.0 1386.6,487.1 1388.7,489.5 1390.9,490.8 1393.0,491.8 1395.1,491.6 1397.2,493.1 1399.3,493.5 1401.4,496.9 1403.5,495.3 1405.6,493.8 1407.7,498.7 1409.8,499.3 1412.0,499.1 1414.1,500.4 1416.2,502.4 1418.3,507.1 1420.4,505.6 1422.5,509.7 1424.6,510.8 1426.7,510.5 1428.8,513.4 1430.9,513.4 1433.1,511.7 1435.2,516.8 1437.3,518.5 1439.4,522.4 1441.5,523.7 1443.6,525.8 1445.7,526.7 1447.8,529.1 1449.9,530.0 1452.0,531.0 1454.1,533.8 1456.3,536.0 1458.4,537.6 1460.5,536.7 1462.6,538.9 1464.7,539.2 1466.8,540.9 1468.9,544.5 1471.0,544.7 1473.1,549.3 1475.2,545.5 1477.4,548.8 1479.5,552.5 1481.6,555.7 1483.7,555.3 1485.8,560.6 1487.9,561.2 1490.0,561.2 1492.1,564.5 1494.2,567.7 1496.3,568.0 1498.4,573.3 1500.6,573.7 1502.7,577.2 1504.8,579.9 1506.9,580.3 1509.0,584.6 1511.1,582.6 1513.2,588.3 1515.3,586.7 1517.4,593.3 1519.5,592.9 1521.7,597.6 1523.8,599.9 1525.9,599.8 1528.0,601.1 1530.1,605.9 1532.2,604.3 1534.3,609.1 1536.4,609.6 1538.5,611.1 1540.6,612.5 1542.7,617.6 1544.9,614.3 1547.0,617.4 1549.1,620.3 1551.2,622.7 1553.3,625.1 1555.4,626.1 1557.5,624.7 1559.6,627.4 1561.7,629.9 1563.8,630.3 1566.0,628.6 1568.1,632.5 1570.2,634.1 1572.3,632.4 1574.4,634.9 1576.5,636.6 1578.6,638.7 1580.7,641.2 1582.8,641.8 1584.9,642.1 1587.1,643.0 1589.2,643.6 1591.3,644.9 1593.4,647.1 1595.5,648.9 1597.6,652.5 1599.7,656.2 1601.8,655.9 1603.9,658.6 1606.0,660.3 1608.1,661.9 1610.3,665.5 1612.4,667.5 1614.5,668.2 1616.6,669.9 1618.7,673.0 1620.8,673.2 1622.9,676.0 1625.0,678.8 1627.1,678.7 1629.2,677.4 1631.4,682.4 1633.5,681.0 1635.6,681.8 1637.7,682.7 1639.8,687.0 1641.9,683.8 1644.0,687.3 1646.1,688.6 1648.2,689.2 1650.3,688.6 1652.4,689.9 1654.6,690.8 1656.7,689.2 1658.8,692.8 1660.9,694.1 1663.0,692.5 1665.1,693.8 1667.2,694.7 1669.3,699.5 1671.4,698.1 1673.5,700.9 1675.7,701.0 1677.8,707.3 1679.9,707.1 1682.0,709.7 1684.1,713.5 1686.2,714.1 1688.3,713.2 1690.4,717.3 1692.5,719.3 1694.6,718.6 1696.7,720.0 1698.9,721.4 1701.0,725.5 1703.1,725.8 1705.2,725.6 1707.3,729.3 1709.4,730.8 1711.5,729.7 1713.6,729.9 1715.7,735.0 1717.8,738.2 1720.0,737.6 1722.1,738.0 1724.2,737.7 1726.3,737.5 1728.4,739.5 1730.5,741.1 1732.6,740.7 1734.7,743.1 1736.8,742.5 1738.9,744.1 1741.1,740.1 1743.2,743.6 1745.3,746.9 1747.4,748.1 1749.5,748.4 1751.6,751.4 1753.7,751.4 1755.8,752.9 1757.9,752.2 1760.0,755.7 1762.1,757.9 1764.3,760.4 1766.4,761.8 1768.5,761.8 1770.6,763.5 1772.7,762.9 1774.8,766.7 1776.9,765.4 1779.0,767.6 1781.1,768.9 1783.2,772.6 1785.4,772.3 1787.5,770.0 1789.6,769.6 1791.7,771.9 1793.8,771.7 1795.9,774.0 1798.0,774.6 1800.1,775.7 1802.2,774.2 1804.3,776.0 1806.4,777.7 1808.6,778.8 1810.7,778.3 1812.8,779.5 1814.9,781.8 1817.0,778.7 1819.1,781.3 1821.2,782.1 1823.3,780.3 1825.4,781.3 1827.5,783.2 1829.7,782.7 1831.8,785.5 1833.9,785.4 1836.0,788.4 1838.1,784.1 1840.2,789.4 1842.3,786.5 1844.4,789.5 1846.5,790.7 1848.6,790.5 1850.7,790.7 1852.9,791.2 1855.0,790.5 1857.1,793.6 1859.2,793.8 1861.3,797.0 1863.4,796.1 1865.5,797.9 1867.6,799.8 1869.7,800.2 1871.8,801.0 1874.0,801.5 1876.1,802.0 1878.2,804.1 1880.3,805.1 1882.4,803.6 1884.5,807.8 1886.6,806.8 1888.7,804.3 1890.8,811.1 1892.9,808.8 1895.1,807.4 1897.2,811.5 1899.3,806.0 1901.4,814.2 1903.5,809.1 1905.6,809.6 1907.7,811.1 1909.8,813.4 1911.9,813.2 1914.0,815.5 1916.1,813.6 1918.3,816.9 1920.4,816.2 1922.5,814.9 1924.6,818.5 1926.7,818.1 1928.8,817.9 1930.9,820.7 1933.0,817.7 1935.1,819.5 1937.2,822.8 1939.4,821.2 1941.5,822.7 1943.6,822.9 1945.7,822.2 1947.8,823.7 1949.9,821.5 1952.0,824.1 1954.1,821.9 1956.2,823.6 1958.3,822.4 1960.4,824.7 1962.6,824.8 1964.7,826.0 1966.8,823.5 1968.9,822.3 1971.0,818.1 1973.1,814.3 1975.2,809.7 1977.3,806.9 1979.4,808.4 1981.5,815.7 1983.7,820.4 1985.8,825.7 1987.9,830.6 1990.0,831.5 1992.1,829.3 1994.2,831.5 1996.3,832.9 1998.4,831.5 2000.5,834.4 2002.6,834.8 2004.8,835.7 2006.9,838.5 2009.0,835.1 2011.1,838.8 2013.2,838.7 2015.3,839.9 2017.4,838.7 2019.5,840.9 2021.6,841.8 2023.7,845.3 2025.8,843.9 2028.0,846.9 2030.1,845.2 2032.2,845.9 2034.3,847.2 2036.4,844.9 2038.5,847.8 2040.6,848.3 2042.7,849.7 2044.8,850.9 2046.9,849.9 2049.1,850.5 2051.2,854.8 2053.3,852.2 2055.4,853.8 2057.5,853.8 2059.6,855.0 2061.7,857.8 2063.8,857.8 2065.9,853.3 2068.0,855.1 2070.1,857.0 2072.3,853.8 2074.4,854.1 2076.5,855.7 2078.6,855.8 2080.7,854.5 2082.8,851.7 2084.9,852.2 2087.0,852.7 2089.1,852.3 2091.2,852.2 2093.4,856.5 2095.5,854.4 2097.6,855.6 2099.7,856.6 2101.8,856.0 2103.9,855.9 2106.0,856.5 2108.1,858.7 2110.2,857.8 2112.3,854.7 2114.4,859.7 2116.6,861.2 2118.7,859.0 2120.8,859.1 2122.9,859.7 2125.0,862.4 2127.1,859.5Z" fill="url(#g12)" stroke="#c8313b" stroke-width="7.4" stroke-linejoin="round" stroke-dasharray="0 1265.76 100000"/>
<path d="M2101.7,949.9L816.3,949.9L816.3,920.4 818.4,920.9 820.6,919.6 822.7,918.1 824.9,915.9 827.0,915.1 829.1,915.1 831.3,912.1 833.4,912.1 835.6,908.9 837.7,911.0 839.9,909.1 842.0,902.6 844.1,903.9 846.3,899.2 848.4,895.8 850.6,893.2 852.7,889.6 854.9,882.6 857.0,885.5 859.1,875.1 861.3,868.1 863.4,867.2 865.6,862.1 867.7,855.3 869.8,847.5 872.0,846.7 874.1,838.0 876.3,831.7 878.4,823.2 880.6,816.4 882.7,807.6 884.8,801.3 887.0,791.8 889.1,784.0 891.3,774.5 893.4,763.8 895.6,753.5 897.7,744.6 899.8,728.6 902.0,720.1 904.1,710.4 906.3,693.7 908.4,684.3 910.6,669.0 912.7,656.6 914.8,642.6 917.0,628.9 919.1,616.2 921.3,601.0 923.4,583.3 925.5,576.7 927.7,558.6 929.8,544.1 932.0,533.1 934.1,520.4 936.3,501.3 938.4,493.4 940.5,477.1 942.7,468.5 944.8,458.6 947.0,447.9 949.1,438.2 951.3,428.7 953.4,422.4 955.5,416.1 957.7,410.3 959.8,403.4 962.0,400.4 964.1,400.6 966.2,397.6 968.4,394.2 970.5,394.7 972.7,393.6 974.8,394.4 977.0,393.3 979.1,392.7 981.2,392.6 983.4,395.8 985.5,394.0 987.7,400.1 989.8,397.1 992.0,404.1 994.1,408.3 996.2,413.5 998.4,421.2 1000.5,420.1 1002.7,423.0 1004.8,423.5 1007.0,432.9 1009.1,430.7 1011.2,438.2 1013.4,440.2 1015.5,449.8 1017.7,448.8 1019.8,453.4 1021.9,455.2 1024.1,459.7 1026.2,465.2 1028.4,464.6 1030.5,467.9 1032.7,470.7 1034.8,472.3 1036.9,474.3 1039.1,478.1 1041.2,482.1 1043.4,483.4 1045.5,479.6 1047.7,481.5 1049.8,483.1 1051.9,484.2 1054.1,483.3 1056.2,483.0 1058.4,483.0 1060.5,482.7 1062.7,476.3 1064.8,478.1 1066.9,477.7 1069.1,476.6 1071.2,473.0 1073.4,467.6 1075.5,464.4 1077.6,462.7 1079.8,458.6 1081.9,455.4 1084.1,452.9 1086.2,444.5 1088.4,441.9 1090.5,433.9 1092.6,435.2 1094.8,429.6 1096.9,423.2 1099.1,420.5 1101.2,417.6 1103.4,411.8 1105.5,404.9 1107.6,399.4 1109.8,395.3 1111.9,388.8 1114.1,384.7 1116.2,382.3 1118.4,379.8 1120.5,377.8 1122.6,374.4 1124.8,372.1 1126.9,372.2 1129.1,370.4 1131.2,370.7 1133.3,371.8 1135.5,370.3 1137.6,366.5 1139.8,366.5 1141.9,364.1 1144.1,366.4 1146.2,364.8 1148.3,364.0 1150.5,364.9 1152.6,368.2 1154.8,368.2 1156.9,368.7 1159.1,372.1 1161.2,371.1 1163.3,372.1 1165.5,377.0 1167.6,375.3 1169.8,382.3 1171.9,385.4 1174.1,389.2 1176.2,394.0 1178.3,396.2 1180.5,401.3 1182.6,402.8 1184.8,409.0 1186.9,413.4 1189.0,418.9 1191.2,425.1 1193.3,426.7 1195.5,432.0 1197.6,432.7 1199.8,438.3 1201.9,439.2 1204.0,444.7 1206.2,448.3 1208.3,453.3 1210.5,457.1 1212.6,460.2 1214.8,463.5 1216.9,470.1 1219.0,471.7 1221.2,471.6 1223.3,480.1 1225.5,484.0 1227.6,488.3 1229.7,493.2 1231.9,492.1 1234.0,497.6 1236.2,500.7 1238.3,501.4 1240.5,503.6 1242.6,512.9 1244.7,512.7 1246.9,516.4 1249.0,519.5 1251.2,521.8 1253.3,524.9 1255.5,524.0 1257.6,527.4 1259.7,529.4 1261.9,529.3 1264.0,531.2 1266.2,533.3 1268.3,534.8 1270.5,533.6 1272.6,537.1 1274.7,539.4 1276.9,542.0 1279.0,542.1 1281.2,544.4 1283.3,543.1 1285.4,543.6 1287.6,548.2 1289.7,545.1 1291.9,544.4 1294.0,545.7 1296.2,548.0 1298.3,544.5 1300.4,548.4 1302.6,549.8 1304.7,550.0 1306.9,548.6 1309.0,547.5 1311.2,547.8 1313.3,550.3 1315.4,553.6 1317.6,553.6 1319.7,555.1 1321.9,554.9 1324.0,558.8 1326.2,556.5 1328.3,556.5 1330.4,558.8 1332.6,558.6 1334.7,561.7 1336.9,563.2 1339.0,562.2 1341.1,559.4 1343.3,559.9 1345.4,562.8 1347.6,560.0 1349.7,562.9 1351.9,560.0 1354.0,562.2 1356.1,564.5 1358.3,563.3 1360.4,567.3 1362.6,569.1 1364.7,571.9 1366.9,570.8 1369.0,573.3 1371.1,575.3 1373.3,577.6 1375.4,575.8 1377.6,580.3 1379.7,581.9 1381.9,579.3 1384.0,579.8 1386.1,582.5 1388.3,587.0 1390.4,586.0 1392.6,584.9 1394.7,587.2 1396.8,585.8 1399.0,592.5 1401.1,590.4 1403.3,594.2 1405.4,592.4 1407.6,596.4 1409.7,596.0 1411.8,600.6 1414.0,603.5 1416.1,604.6 1418.3,605.4 1420.4,607.9 1422.6,605.9 1424.7,607.7 1426.8,611.8 1429.0,616.5 1431.1,617.4 1433.3,621.1 1435.4,619.9 1437.6,624.4 1439.7,626.4 1441.8,630.1 1444.0,634.8 1446.1,634.3 1448.3,636.6 1450.4,635.5 1452.5,637.6 1454.7,641.0 1456.8,642.1 1459.0,640.7 1461.1,647.2 1463.3,649.3 1465.4,650.3 1467.5,653.5 1469.7,655.3 1471.8,656.0 1474.0,656.3 1476.1,664.9 1478.3,664.2 1480.4,666.6 1482.5,669.3 1484.7,672.0 1486.8,674.6 1489.0,674.6 1491.1,679.3 1493.2,680.8 1495.4,682.4 1497.5,683.9 1499.7,685.9 1501.8,685.4 1504.0,688.6 1506.1,689.8 1508.2,691.8 1510.4,695.1 1512.5,696.5 1514.7,698.6 1516.8,698.1 1519.0,701.5 1521.1,703.8 1523.2,703.2 1525.4,704.4 1527.5,710.1 1529.7,705.6 1531.8,710.0 1534.0,711.7 1536.1,711.0 1538.2,714.0 1540.4,716.4 1542.5,712.6 1544.7,719.5 1546.8,718.8 1548.9,718.3 1551.1,722.8 1553.2,722.4 1555.4,723.0 1557.5,721.0 1559.7,728.6 1561.8,729.0 1563.9,729.9 1566.1,733.1 1568.2,737.6 1570.4,737.2 1572.5,740.1 1574.7,741.9 1576.8,743.0 1578.9,745.5 1581.1,748.6 1583.2,750.5 1585.4,754.3 1587.5,753.6 1589.7,753.6 1591.8,755.0 1593.9,754.1 1596.1,755.7 1598.2,751.4 1600.4,750.3 1602.5,755.0 1604.6,753.9 1606.8,755.6 1608.9,753.7 1611.1,756.0 1613.2,757.7 1615.4,759.3 1617.5,759.9 1619.6,763.2 1621.8,761.6 1623.9,765.5 1626.1,764.8 1628.2,767.1 1630.4,767.1 1632.5,770.7 1634.6,770.6 1636.8,775.8 1638.9,774.9 1641.1,778.2 1643.2,779.2 1645.4,781.2 1647.5,781.4 1649.6,788.4 1651.8,785.9 1653.9,790.8 1656.1,787.7 1658.2,794.9 1660.3,794.8 1662.5,797.6 1664.6,793.4 1666.8,800.1 1668.9,799.3 1671.1,802.0 1673.2,805.8 1675.3,804.8 1677.5,804.6 1679.6,807.6 1681.8,807.1 1683.9,810.8 1686.1,811.6 1688.2,813.6 1690.3,813.5 1692.5,811.8 1694.6,815.5 1696.8,816.7 1698.9,818.9 1701.0,819.8 1703.2,816.6 1705.3,821.8 1707.5,822.1 1709.6,821.2 1711.8,822.5 1713.9,818.9 1716.0,827.2 1718.2,823.1 1720.3,823.2 1722.5,827.2 1724.6,827.2 1726.8,826.1 1728.9,825.0 1731.0,830.4 1733.2,832.6 1735.3,829.2 1737.5,829.3 1739.6,833.6 1741.8,838.0 1743.9,832.6 1746.0,836.6 1748.2,835.3 1750.3,838.3 1752.5,839.9 1754.6,840.9 1756.7,838.5 1758.9,839.4 1761.0,846.6 1763.2,845.3 1765.3,841.4 1767.5,846.1 1769.6,848.7 1771.7,847.2 1773.9,848.2 1776.0,849.1 1778.2,850.6 1780.3,851.1 1782.5,852.1 1784.6,851.5 1786.7,854.3 1788.9,854.1 1791.0,854.6 1793.2,852.7 1795.3,855.0 1797.5,856.5 1799.6,855.9 1801.7,856.8 1803.9,856.2 1806.0,857.8 1808.2,856.2 1810.3,857.6 1812.4,860.8 1814.6,862.1 1816.7,860.6 1818.9,862.1 1821.0,864.0 1823.2,867.4 1825.3,869.0 1827.4,866.2 1829.6,866.5 1831.7,867.5 1833.9,872.3 1836.0,869.3 1838.2,873.1 1840.3,872.5 1842.4,873.5 1844.6,876.5 1846.7,876.9 1848.9,880.2 1851.0,878.8 1853.2,880.9 1855.3,877.5 1857.4,878.7 1859.6,877.7 1861.7,879.3 1863.9,881.7 1866.0,880.6 1868.1,882.7 1870.3,881.7 1872.4,883.0 1874.6,886.1 1876.7,885.2 1878.9,885.8 1881.0,887.1 1883.1,885.6 1885.3,884.7 1887.4,888.8 1889.6,889.2 1891.7,892.9 1893.9,889.7 1896.0,890.8 1898.1,894.5 1900.3,891.0 1902.4,891.4 1904.6,894.8 1906.7,895.1 1908.9,897.0 1911.0,894.7 1913.1,899.2 1915.3,897.5 1917.4,893.7 1919.6,897.1 1921.7,896.5 1923.8,897.6 1926.0,899.4 1928.1,897.5 1930.3,896.7 1932.4,899.3 1934.6,897.0 1936.7,895.6 1938.8,895.8 1941.0,899.5 1943.1,895.4 1945.3,890.6 1947.4,878.5 1949.6,875.2 1951.7,877.6 1953.8,888.0 1956.0,896.3 1958.1,899.3 1960.3,901.8 1962.4,904.8 1964.5,904.1 1966.7,904.2 1968.8,906.0 1971.0,909.4 1973.1,912.5 1975.3,910.5 1977.4,911.1 1979.5,913.1 1981.7,914.7 1983.8,916.4 1986.0,915.1 1988.1,917.6 1990.3,918.4 1992.4,921.3 1994.5,921.7 1996.7,921.2 1998.8,924.1 2001.0,925.3 2003.1,924.4 2005.3,922.4 2007.4,924.8 2009.5,923.2 2011.7,926.4 2013.8,927.2 2016.0,929.4 2018.1,928.3 2020.2,925.0 2022.4,927.2 2024.5,926.8 2026.7,927.1 2028.8,928.6 2031.0,929.2 2033.1,928.9 2035.2,928.2 2037.4,928.8 2039.5,928.9 2041.7,929.6 2043.8,931.3 2046.0,930.3 2048.1,931.4 2050.2,927.8 2052.4,933.0 2054.5,929.3 2056.7,924.5 2058.8,929.1 2061.0,930.4 2063.1,928.6 2065.2,926.7 2067.4,930.0 2069.5,929.5 2071.7,931.4 2073.8,933.4 2075.9,928.3 2078.1,934.8 2080.2,936.9 2082.4,937.6 2084.5,936.8 2086.7,937.3 2088.8,937.1 2090.9,938.6 2093.1,941.7 2095.2,938.5 2097.4,940.2 2099.5,940.3 2101.7,942.5Z" fill="url(#g11)" stroke="#9a8a80" stroke-width="7.4" stroke-linejoin="round" stroke-dasharray="0 1285.37 100000"/>
<path d="M2075.4,1014.3L769.8,1014.3L769.8,984.4 772.0,984.4 774.2,983.2 776.3,984.3 778.5,981.8 780.7,980.8 782.9,981.1 785.0,979.2 787.2,977.9 789.4,974.0 791.6,976.1 793.7,971.4 795.9,970.5 798.1,966.4 800.3,962.1 802.5,960.7 804.6,956.5 806.8,954.0 809.0,946.8 811.2,943.9 813.3,939.2 815.5,937.4 817.7,932.1 819.9,924.2 822.0,920.1 824.2,914.2 826.4,907.3 828.6,902.6 830.7,893.2 832.9,886.8 835.1,878.6 837.3,871.9 839.4,862.1 841.6,854.7 843.8,843.5 846.0,833.6 848.1,823.8 850.3,813.7 852.5,802.7 854.7,795.2 856.9,779.2 859.0,768.3 861.2,755.1 863.4,742.5 865.6,730.4 867.7,715.6 869.9,700.0 872.1,684.8 874.3,672.6 876.4,658.2 878.6,640.6 880.8,628.6 883.0,610.4 885.1,598.2 887.3,585.1 889.5,568.9 891.7,554.6 893.8,545.4 896.0,529.4 898.2,519.9 900.4,506.7 902.5,498.5 904.7,490.1 906.9,478.5 909.1,469.5 911.3,460.4 913.4,453.8 915.6,448.8 917.8,444.5 920.0,440.3 922.1,436.3 924.3,434.0 926.5,431.2 928.7,432.3 930.8,428.1 933.0,427.9 935.2,424.9 937.4,427.5 939.5,429.9 941.7,429.9 943.9,433.7 946.1,434.9 948.2,438.7 950.4,437.4 952.6,441.5 954.8,446.9 956.9,449.2 959.1,451.9 961.3,456.5 963.5,460.8 965.7,466.4 967.8,470.3 970.0,473.7 972.2,476.8 974.4,483.1 976.5,487.6 978.7,489.0 980.9,495.5 983.1,497.1 985.2,501.9 987.4,504.8 989.6,507.1 991.8,511.4 993.9,513.9 996.1,518.3 998.3,520.0 1000.5,520.1 1002.6,520.5 1004.8,521.8 1007.0,521.7 1009.2,524.8 1011.3,525.3 1013.5,524.5 1015.7,525.5 1017.9,525.0 1020.1,525.3 1022.2,521.6 1024.4,522.5 1026.6,518.6 1028.8,518.7 1030.9,513.0 1033.1,512.7 1035.3,507.3 1037.5,506.8 1039.6,501.8 1041.8,496.1 1044.0,494.6 1046.2,489.5 1048.3,486.0 1050.5,484.0 1052.7,476.8 1054.9,472.5 1057.0,470.2 1059.2,464.2 1061.4,461.9 1063.6,458.3 1065.7,453.4 1067.9,450.6 1070.1,443.6 1072.3,444.8 1074.5,438.9 1076.6,435.5 1078.8,436.2 1081.0,433.3 1083.2,428.2 1085.3,427.4 1087.5,424.7 1089.7,422.4 1091.9,423.1 1094.0,423.1 1096.2,424.5 1098.4,420.6 1100.6,421.7 1102.7,420.2 1104.9,420.4 1107.1,422.6 1109.3,419.4 1111.4,420.9 1113.6,422.1 1115.8,425.7 1118.0,426.2 1120.1,428.0 1122.3,429.7 1124.5,432.6 1126.7,433.0 1128.8,435.8 1131.0,438.4 1133.2,442.4 1135.4,443.5 1137.6,448.3 1139.7,455.5 1141.9,456.9 1144.1,460.4 1146.3,463.5 1148.4,469.7 1150.6,474.5 1152.8,480.0 1155.0,483.5 1157.1,490.0 1159.3,495.4 1161.5,500.6 1163.7,504.1 1165.8,510.3 1168.0,516.4 1170.2,518.3 1172.4,524.4 1174.5,527.5 1176.7,531.7 1178.9,534.8 1181.1,538.9 1183.2,544.6 1185.4,547.8 1187.6,552.6 1189.8,552.5 1192.0,557.3 1194.1,559.4 1196.3,564.7 1198.5,569.9 1200.7,568.7 1202.8,573.6 1205.0,576.6 1207.2,579.8 1209.4,582.2 1211.5,585.4 1213.7,591.0 1215.9,590.8 1218.1,595.6 1220.2,598.3 1222.4,598.4 1224.6,601.8 1226.8,605.6 1228.9,609.6 1231.1,609.2 1233.3,610.7 1235.5,613.3 1237.6,616.4 1239.8,617.5 1242.0,619.6 1244.2,619.4 1246.4,620.1 1248.5,621.2 1250.7,624.6 1252.9,624.7 1255.1,625.5 1257.2,627.9 1259.4,628.5 1261.6,626.9 1263.8,630.2 1265.9,630.3 1268.1,632.8 1270.3,633.1 1272.5,636.1 1274.6,634.9 1276.8,634.3 1279.0,634.0 1281.2,635.9 1283.3,637.3 1285.5,638.9 1287.7,640.5 1289.9,640.8 1292.0,640.7 1294.2,643.1 1296.4,641.8 1298.6,644.7 1300.8,646.3 1302.9,646.0 1305.1,647.4 1307.3,647.9 1309.5,645.8 1311.6,648.6 1313.8,649.6 1316.0,650.3 1318.2,652.1 1320.3,656.2 1322.5,656.0 1324.7,659.0 1326.9,661.2 1329.0,662.1 1331.2,665.7 1333.4,666.1 1335.6,666.4 1337.7,666.6 1339.9,669.0 1342.1,669.9 1344.3,669.8 1346.4,670.7 1348.6,673.0 1350.8,674.0 1353.0,677.7 1355.2,679.4 1357.3,680.6 1359.5,683.2 1361.7,685.5 1363.9,684.9 1366.0,689.0 1368.2,691.9 1370.4,692.0 1372.6,692.3 1374.7,696.2 1376.9,696.6 1379.1,700.3 1381.3,702.0 1383.4,703.9 1385.6,705.0 1387.8,704.3 1390.0,709.7 1392.1,708.3 1394.3,713.5 1396.5,714.7 1398.7,715.6 1400.8,718.2 1403.0,720.9 1405.2,725.5 1407.4,725.2 1409.6,729.0 1411.7,726.8 1413.9,732.2 1416.1,733.8 1418.3,737.5 1420.4,739.0 1422.6,742.4 1424.8,742.2 1427.0,746.3 1429.1,748.0 1431.3,752.2 1433.5,754.6 1435.7,755.0 1437.8,760.2 1440.0,763.5 1442.2,763.0 1444.4,766.9 1446.5,768.1 1448.7,768.5 1450.9,772.6 1453.1,772.6 1455.2,776.4 1457.4,775.9 1459.6,778.1 1461.8,782.2 1464.0,783.8 1466.1,786.4 1468.3,787.0 1470.5,787.7 1472.7,792.4 1474.8,791.3 1477.0,795.5 1479.2,796.6 1481.4,799.2 1483.5,796.0 1485.7,800.0 1487.9,801.2 1490.1,803.7 1492.2,803.1 1494.4,808.3 1496.6,807.1 1498.8,805.9 1500.9,810.3 1503.1,811.2 1505.3,811.7 1507.5,814.8 1509.6,815.0 1511.8,815.2 1514.0,817.4 1516.2,818.5 1518.4,820.6 1520.5,821.2 1522.7,822.8 1524.9,822.6 1527.1,824.9 1529.2,827.5 1531.4,831.7 1533.6,829.5 1535.8,831.0 1537.9,834.7 1540.1,837.6 1542.3,838.2 1544.5,837.3 1546.6,841.2 1548.8,842.0 1551.0,842.5 1553.2,842.6 1555.3,845.2 1557.5,846.3 1559.7,847.8 1561.9,846.1 1564.0,847.5 1566.2,849.6 1568.4,851.8 1570.6,851.7 1572.8,850.6 1574.9,852.8 1577.1,851.5 1579.3,852.8 1581.5,853.5 1583.6,853.9 1585.8,854.9 1588.0,857.5 1590.2,857.9 1592.3,855.9 1594.5,861.4 1596.7,861.9 1598.9,861.6 1601.0,864.6 1603.2,866.9 1605.4,869.2 1607.6,868.6 1609.7,869.6 1611.9,870.8 1614.1,874.0 1616.3,874.3 1618.4,878.3 1620.6,878.3 1622.8,880.7 1625.0,881.0 1627.2,881.6 1629.3,882.5 1631.5,886.1 1633.7,884.6 1635.9,887.8 1638.0,889.5 1640.2,889.5 1642.4,892.0 1644.6,891.1 1646.7,891.7 1648.9,893.1 1651.1,893.1 1653.3,894.9 1655.4,895.3 1657.6,897.9 1659.8,896.9 1662.0,898.7 1664.1,899.0 1666.3,899.4 1668.5,899.8 1670.7,902.8 1672.8,903.5 1675.0,902.8 1677.2,902.7 1679.4,903.6 1681.5,903.8 1683.7,904.1 1685.9,905.9 1688.1,907.4 1690.3,909.5 1692.4,910.2 1694.6,910.6 1696.8,910.6 1699.0,911.6 1701.1,912.9 1703.3,914.0 1705.5,914.0 1707.7,915.5 1709.8,916.4 1712.0,917.3 1714.2,919.2 1716.4,920.7 1718.5,919.7 1720.7,920.7 1722.9,922.3 1725.1,923.4 1727.2,921.0 1729.4,925.5 1731.6,925.7 1733.8,926.0 1735.9,928.7 1738.1,928.1 1740.3,927.0 1742.5,929.0 1744.7,930.3 1746.8,931.2 1749.0,932.6 1751.2,932.4 1753.4,934.4 1755.5,935.3 1757.7,935.2 1759.9,934.7 1762.1,935.8 1764.2,935.9 1766.4,939.5 1768.6,936.1 1770.8,935.1 1772.9,936.7 1775.1,939.1 1777.3,940.2 1779.5,939.2 1781.6,941.2 1783.8,939.5 1786.0,941.5 1788.2,940.1 1790.3,940.1 1792.5,944.6 1794.7,942.4 1796.9,944.2 1799.1,945.7 1801.2,945.5 1803.4,945.8 1805.6,945.1 1807.8,948.9 1809.9,946.6 1812.1,946.1 1814.3,948.3 1816.5,948.7 1818.6,949.7 1820.8,951.2 1823.0,949.3 1825.2,949.5 1827.3,949.2 1829.5,947.2 1831.7,949.6 1833.9,950.3 1836.0,949.4 1838.2,953.5 1840.4,953.8 1842.6,953.6 1844.7,954.6 1846.9,953.6 1849.1,955.5 1851.3,953.6 1853.5,954.4 1855.6,955.8 1857.8,957.7 1860.0,957.0 1862.2,957.2 1864.3,960.0 1866.5,958.8 1868.7,959.0 1870.9,960.1 1873.0,959.1 1875.2,960.1 1877.4,963.0 1879.6,962.3 1881.7,963.8 1883.9,962.3 1886.1,964.2 1888.3,962.2 1890.4,962.9 1892.6,962.2 1894.8,963.5 1897.0,965.1 1899.1,961.3 1901.3,963.6 1903.5,961.8 1905.7,963.0 1907.9,962.7 1910.0,961.3 1912.2,962.5 1914.4,959.3 1916.6,959.0 1918.7,951.6 1920.9,950.4 1923.1,952.0 1925.3,956.8 1927.4,961.5 1929.6,963.3 1931.8,969.3 1934.0,968.0 1936.1,969.7 1938.3,968.3 1940.5,971.0 1942.7,970.8 1944.8,972.8 1947.0,972.4 1949.2,973.0 1951.4,975.6 1953.5,975.9 1955.7,978.5 1957.9,977.2 1960.1,977.3 1962.3,979.6 1964.4,978.1 1966.6,982.4 1968.8,982.6 1971.0,982.3 1973.1,981.5 1975.3,981.1 1977.5,981.4 1979.7,981.5 1981.8,980.7 1984.0,982.2 1986.2,983.3 1988.4,983.5 1990.5,979.7 1992.7,985.3 1994.9,983.0 1997.1,981.4 1999.2,983.0 2001.4,985.1 2003.6,984.5 2005.8,983.9 2007.9,983.9 2010.1,986.8 2012.3,985.1 2014.5,985.9 2016.7,985.1 2018.8,984.9 2021.0,987.2 2023.2,988.7 2025.4,986.7 2027.5,985.3 2029.7,986.9 2031.9,987.7 2034.1,985.4 2036.2,989.8 2038.4,987.7 2040.6,989.7 2042.8,989.3 2044.9,989.5 2047.1,988.1 2049.3,991.3 2051.5,991.2 2053.6,992.8 2055.8,990.7 2058.0,992.2 2060.2,991.5 2062.3,993.7 2064.5,993.2 2066.7,992.0 2068.9,993.8 2071.1,993.1 2073.2,993.5 2075.4,994.7Z" fill="url(#g10)" stroke="#6b65c5" stroke-width="7.4" stroke-linejoin="round" stroke-dasharray="0 1305.59 100000"/>
<path d="M2048.3,1080.6L721.8,1080.6L721.8,1053.3 724.1,1048.5 726.3,1049.6 728.5,1047.6 730.7,1052.3 732.9,1050.7 735.1,1050.4 737.3,1046.8 739.5,1041.7 741.7,1040.8 744.0,1039.8 746.2,1037.3 748.4,1033.6 750.6,1032.7 752.8,1028.4 755.0,1025.6 757.2,1026.2 759.4,1019.1 761.6,1011.7 763.9,1010.5 766.1,1005.3 768.3,1001.2 770.5,995.7 772.7,987.2 774.9,983.8 777.1,978.9 779.3,976.2 781.5,964.7 783.7,960.0 786.0,952.1 788.2,939.4 790.4,931.2 792.6,927.3 794.8,913.1 797.0,904.3 799.2,896.5 801.4,883.3 803.6,876.8 805.9,864.7 808.1,853.3 810.3,840.4 812.5,824.1 814.7,814.9 816.9,801.0 819.1,786.6 821.3,770.1 823.5,756.3 825.8,739.1 828.0,726.6 830.2,712.2 832.4,695.1 834.6,678.5 836.8,664.6 839.0,647.0 841.2,629.0 843.4,618.5 845.7,603.0 847.9,586.9 850.1,577.5 852.3,565.6 854.5,554.6 856.7,541.4 858.9,531.5 861.1,524.0 863.3,515.8 865.5,506.5 867.8,501.1 870.0,500.0 872.2,493.1 874.4,489.4 876.6,485.6 878.8,485.3 881.0,484.8 883.2,483.8 885.4,486.1 887.7,483.4 889.9,485.5 892.1,485.2 894.3,490.1 896.5,491.8 898.7,496.2 900.9,500.1 903.1,500.9 905.3,507.2 907.6,509.6 909.8,516.6 912.0,518.3 914.2,525.5 916.4,527.3 918.6,531.5 920.8,533.9 923.0,539.3 925.2,544.7 927.4,547.7 929.7,553.7 931.9,557.7 934.1,561.6 936.3,567.2 938.5,571.3 940.7,573.6 942.9,578.1 945.1,579.7 947.3,581.4 949.6,584.7 951.8,589.8 954.0,594.2 956.2,594.6 958.4,597.2 960.6,597.3 962.8,602.1 965.0,603.6 967.2,603.4 969.5,606.6 971.7,606.7 973.9,603.5 976.1,603.6 978.3,604.5 980.5,604.0 982.7,604.6 984.9,599.9 987.1,598.5 989.4,595.7 991.6,594.3 993.8,590.4 996.0,587.7 998.2,583.7 1000.4,578.5 1002.6,577.1 1004.8,577.2 1007.0,572.0 1009.2,568.7 1011.5,562.3 1013.7,554.2 1015.9,548.2 1018.1,543.4 1020.3,535.2 1022.5,530.8 1024.7,526.1 1026.9,521.0 1029.1,515.6 1031.4,507.7 1033.6,509.4 1035.8,501.7 1038.0,498.7 1040.2,498.6 1042.4,495.6 1044.6,494.0 1046.8,490.4 1049.0,486.8 1051.3,486.0 1053.5,482.7 1055.7,481.2 1057.9,482.0 1060.1,481.6 1062.3,482.2 1064.5,481.5 1066.7,484.5 1068.9,482.1 1071.1,483.1 1073.4,485.9 1075.6,481.4 1077.8,488.4 1080.0,489.7 1082.2,489.4 1084.4,495.5 1086.6,495.8 1088.8,499.8 1091.0,501.7 1093.3,503.5 1095.5,506.2 1097.7,508.7 1099.9,513.5 1102.1,517.3 1104.3,523.1 1106.5,529.8 1108.7,531.7 1110.9,539.3 1113.2,543.8 1115.4,543.9 1117.6,549.0 1119.8,553.5 1122.0,556.0 1124.2,559.3 1126.4,567.1 1128.6,568.7 1130.8,574.9 1133.1,576.9 1135.3,582.7 1137.5,583.5 1139.7,589.4 1141.9,596.0 1144.1,598.7 1146.3,604.7 1148.5,606.2 1150.7,608.9 1152.9,613.1 1155.2,620.8 1157.4,621.9 1159.6,624.4 1161.8,629.1 1164.0,631.8 1166.2,640.4 1168.4,640.9 1170.6,646.5 1172.8,647.8 1175.1,649.8 1177.3,651.4 1179.5,655.5 1181.7,655.8 1183.9,660.0 1186.1,662.2 1188.3,660.5 1190.5,663.5 1192.7,668.3 1195.0,668.8 1197.2,669.0 1199.4,667.7 1201.6,670.0 1203.8,671.6 1206.0,677.3 1208.2,675.0 1210.4,674.6 1212.6,675.4 1214.9,675.9 1217.1,677.5 1219.3,674.4 1221.5,675.3 1223.7,678.6 1225.9,680.6 1228.1,675.5 1230.3,680.7 1232.5,678.0 1234.7,677.2 1237.0,682.9 1239.2,681.3 1241.4,683.1 1243.6,682.2 1245.8,683.4 1248.0,681.3 1250.2,684.7 1252.4,686.9 1254.6,685.9 1256.9,689.6 1259.1,690.9 1261.3,687.3 1263.5,693.9 1265.7,694.4 1267.9,694.4 1270.1,697.4 1272.3,700.3 1274.5,695.5 1276.8,699.9 1279.0,700.5 1281.2,701.3 1283.4,703.4 1285.6,704.6 1287.8,703.3 1290.0,700.2 1292.2,704.1 1294.4,705.0 1296.6,709.8 1298.9,707.8 1301.1,710.6 1303.3,707.7 1305.5,710.2 1307.7,710.5 1309.9,711.7 1312.1,713.9 1314.3,717.1 1316.5,715.2 1318.8,720.9 1321.0,722.9 1323.2,723.8 1325.4,726.9 1327.6,727.3 1329.8,727.9 1332.0,731.0 1334.2,732.7 1336.4,734.5 1338.7,734.4 1340.9,740.8 1343.1,738.3 1345.3,742.4 1347.5,744.8 1349.7,744.6 1351.9,747.6 1354.1,748.2 1356.3,749.8 1358.6,758.5 1360.8,756.9 1363.0,755.8 1365.2,760.4 1367.4,762.0 1369.6,767.1 1371.8,772.7 1374.0,774.9 1376.2,774.3 1378.4,776.4 1380.7,781.8 1382.9,783.0 1385.1,783.8 1387.3,788.9 1389.5,787.7 1391.7,785.4 1393.9,785.7 1396.1,791.4 1398.3,789.5 1400.6,795.6 1402.8,798.1 1405.0,802.8 1407.2,799.1 1409.4,803.7 1411.6,801.0 1413.8,806.9 1416.0,809.6 1418.2,815.7 1420.5,812.4 1422.7,818.7 1424.9,821.4 1427.1,828.2 1429.3,825.6 1431.5,828.3 1433.7,833.7 1435.9,834.6 1438.1,835.9 1440.3,836.3 1442.6,839.2 1444.8,837.4 1447.0,842.0 1449.2,843.7 1451.4,844.6 1453.6,849.5 1455.8,847.5 1458.0,845.5 1460.2,848.2 1462.5,851.5 1464.7,850.7 1466.9,856.4 1469.1,854.6 1471.3,854.5 1473.5,855.6 1475.7,859.6 1477.9,857.9 1480.1,857.5 1482.4,863.1 1484.6,862.3 1486.8,867.8 1489.0,869.8 1491.2,866.4 1493.4,868.8 1495.6,869.8 1497.8,872.5 1500.0,873.3 1502.3,872.7 1504.5,872.4 1506.7,877.3 1508.9,881.3 1511.1,877.5 1513.3,880.2 1515.5,881.6 1517.7,884.2 1519.9,881.9 1522.1,887.7 1524.4,888.5 1526.6,894.5 1528.8,893.8 1531.0,895.6 1533.2,896.0 1535.4,896.8 1537.6,900.3 1539.8,897.1 1542.0,903.6 1544.3,903.7 1546.5,903.8 1548.7,907.8 1550.9,905.7 1553.1,906.9 1555.3,909.9 1557.5,907.3 1559.7,912.0 1561.9,913.1 1564.2,916.8 1566.4,919.7 1568.6,919.3 1570.8,920.3 1573.0,922.1 1575.2,921.5 1577.4,928.8 1579.6,928.1 1581.8,930.9 1584.0,926.6 1586.3,931.6 1588.5,932.9 1590.7,935.4 1592.9,933.2 1595.1,936.9 1597.3,937.0 1599.5,942.4 1601.7,937.7 1603.9,940.3 1606.2,941.0 1608.4,940.8 1610.6,944.4 1612.8,945.3 1615.0,944.6 1617.2,946.0 1619.4,948.1 1621.6,948.4 1623.8,950.2 1626.1,948.9 1628.3,949.3 1630.5,951.8 1632.7,949.3 1634.9,956.4 1637.1,954.8 1639.3,952.2 1641.5,956.9 1643.7,959.9 1646.0,955.3 1648.2,957.7 1650.4,961.8 1652.6,959.1 1654.8,963.2 1657.0,964.7 1659.2,963.5 1661.4,965.1 1663.6,967.2 1665.8,966.9 1668.1,969.1 1670.3,968.2 1672.5,969.5 1674.7,969.2 1676.9,972.5 1679.1,975.2 1681.3,976.3 1683.5,975.5 1685.7,973.4 1688.0,975.7 1690.2,979.5 1692.4,977.7 1694.6,982.6 1696.8,979.7 1699.0,983.3 1701.2,982.3 1703.4,983.6 1705.6,986.2 1707.9,986.1 1710.1,989.6 1712.3,988.6 1714.5,987.3 1716.7,982.6 1718.9,989.4 1721.1,991.0 1723.3,993.5 1725.5,990.1 1727.7,995.4 1730.0,994.0 1732.2,992.1 1734.4,995.1 1736.6,990.3 1738.8,991.3 1741.0,994.6 1743.2,994.9 1745.4,996.8 1747.6,997.8 1749.9,995.7 1752.1,997.1 1754.3,999.9 1756.5,1002.7 1758.7,1007.1 1760.9,1008.2 1763.1,1014.1 1765.3,1013.4 1767.5,1011.9 1769.8,1012.7 1772.0,1015.9 1774.2,1015.2 1776.4,1011.3 1778.6,1009.9 1780.8,1015.4 1783.0,1013.2 1785.2,1012.2 1787.4,1010.9 1789.7,1015.4 1791.9,1013.7 1794.1,1016.5 1796.3,1012.8 1798.5,1017.5 1800.7,1019.6 1802.9,1021.1 1805.1,1019.6 1807.3,1021.3 1809.5,1025.4 1811.8,1023.9 1814.0,1027.5 1816.2,1027.1 1818.4,1028.7 1820.6,1029.3 1822.8,1028.6 1825.0,1029.5 1827.2,1027.2 1829.4,1027.1 1831.7,1029.4 1833.9,1031.4 1836.1,1028.3 1838.3,1034.0 1840.5,1034.3 1842.7,1030.0 1844.9,1030.8 1847.1,1030.8 1849.3,1033.7 1851.6,1036.4 1853.8,1035.9 1856.0,1034.8 1858.2,1038.0 1860.4,1038.7 1862.6,1040.6 1864.8,1040.7 1867.0,1037.5 1869.2,1038.6 1871.4,1041.8 1873.7,1041.9 1875.9,1041.2 1878.1,1039.4 1880.3,1042.4 1882.5,1039.5 1884.7,1039.6 1886.9,1031.1 1889.1,1019.5 1891.3,1013.8 1893.6,1020.4 1895.8,1028.5 1898.0,1034.6 1900.2,1042.6 1902.4,1045.7 1904.6,1045.2 1906.8,1046.7 1909.0,1046.0 1911.2,1047.6 1913.5,1051.2 1915.7,1051.5 1917.9,1052.5 1920.1,1056.1 1922.3,1056.5 1924.5,1054.0 1926.7,1059.7 1928.9,1055.9 1931.1,1058.1 1933.4,1059.6 1935.6,1059.0 1937.8,1059.7 1940.0,1058.8 1942.2,1062.1 1944.4,1062.2 1946.6,1062.4 1948.8,1058.8 1951.0,1060.6 1953.2,1064.1 1955.5,1063.2 1957.7,1063.9 1959.9,1062.8 1962.1,1062.7 1964.3,1059.2 1966.5,1067.2 1968.7,1062.6 1970.9,1064.4 1973.1,1067.2 1975.4,1067.0 1977.6,1068.3 1979.8,1067.8 1982.0,1066.5 1984.2,1071.5 1986.4,1066.5 1988.6,1069.8 1990.8,1066.5 1993.0,1068.7 1995.3,1067.4 1997.5,1069.0 1999.7,1068.5 2001.9,1070.9 2004.1,1073.3 2006.3,1071.2 2008.5,1071.9 2010.7,1070.0 2012.9,1077.9 2015.1,1074.9 2017.4,1072.8 2019.6,1077.0 2021.8,1074.9 2024.0,1070.4 2026.2,1071.3 2028.4,1075.2 2030.6,1070.6 2032.8,1070.7 2035.0,1071.1 2037.3,1071.5 2039.5,1071.5 2041.7,1073.3 2043.9,1072.5 2046.1,1070.0 2048.3,1071.0Z" fill="url(#g9)" stroke="#2a9a9a" stroke-width="7.4" stroke-linejoin="round" stroke-dasharray="0 1326.46 100000"/>
<path d="M2020.3,1149.2L672.3,1149.2L672.3,1117.0 674.6,1119.5 676.8,1121.7 679.1,1118.7 681.3,1117.2 683.6,1116.2 685.8,1115.4 688.1,1115.2 690.3,1110.8 692.5,1111.6 694.8,1107.8 697.0,1106.7 699.3,1105.2 701.5,1099.0 703.8,1100.6 706.0,1095.1 708.3,1089.7 710.5,1086.6 712.8,1080.9 715.0,1077.3 717.3,1072.8 719.5,1064.4 721.8,1061.9 724.0,1056.0 726.2,1051.0 728.5,1044.2 730.7,1035.7 733.0,1028.7 735.2,1022.0 737.5,1015.1 739.7,1005.2 742.0,999.6 744.2,988.9 746.5,979.4 748.7,970.4 751.0,958.9 753.2,949.2 755.5,938.2 757.7,923.4 759.9,912.6 762.2,899.4 764.4,887.7 766.7,873.0 768.9,859.1 771.2,844.1 773.4,827.7 775.7,815.5 777.9,799.2 780.2,783.6 782.4,771.7 784.7,752.7 786.9,734.5 789.2,717.3 791.4,702.5 793.6,684.3 795.9,668.3 798.1,655.1 800.4,638.0 802.6,623.6 804.9,612.1 807.1,601.8 809.4,587.8 811.6,580.1 813.9,571.8 816.1,563.8 818.4,558.3 820.6,551.0 822.9,547.1 825.1,543.0 827.3,541.1 829.6,540.7 831.8,538.4 834.1,536.2 836.3,537.4 838.6,533.3 840.8,537.6 843.1,538.9 845.3,538.0 847.6,540.3 849.8,543.4 852.1,546.4 854.3,548.8 856.6,552.0 858.8,556.1 861.0,561.9 863.3,565.6 865.5,569.9 867.8,574.9 870.0,584.6 872.3,586.9 874.5,591.7 876.8,596.0 879.0,600.5 881.3,604.6 883.5,609.9 885.8,615.8 888.0,620.6 890.3,623.3 892.5,631.2 894.7,634.9 897.0,638.0 899.2,644.2 901.5,651.6 903.7,652.8 906.0,657.6 908.2,660.9 910.5,662.7 912.7,666.2 915.0,669.6 917.2,670.2 919.5,672.3 921.7,673.9 924.0,674.3 926.2,674.5 928.4,675.0 930.7,674.4 932.9,672.6 935.2,672.1 937.4,670.4 939.7,664.7 941.9,663.6 944.2,660.1 946.4,656.7 948.7,652.8 950.9,649.1 953.2,645.3 955.4,642.8 957.7,637.1 959.9,635.6 962.1,629.9 964.4,630.0 966.6,625.3 968.9,619.0 971.1,616.6 973.4,613.3 975.6,608.1 977.9,606.1 980.1,601.1 982.4,600.6 984.6,595.5 986.9,593.0 989.1,589.1 991.4,586.4 993.6,586.4 995.8,581.4 998.1,582.2 1000.3,582.2 1002.6,580.9 1004.8,574.4 1007.1,575.0 1009.3,574.4 1011.6,573.6 1013.8,573.3 1016.1,569.9 1018.3,571.7 1020.6,569.7 1022.8,572.8 1025.1,576.3 1027.3,573.5 1029.5,576.3 1031.8,577.8 1034.0,577.4 1036.3,581.7 1038.5,582.4 1040.8,586.5 1043.0,590.3 1045.3,592.0 1047.5,596.9 1049.8,598.5 1052.0,602.8 1054.3,608.2 1056.5,611.8 1058.8,616.2 1061.0,621.6 1063.2,624.4 1065.5,629.9 1067.7,633.0 1070.0,639.0 1072.2,641.8 1074.5,645.6 1076.7,651.3 1079.0,655.2 1081.2,659.8 1083.5,662.7 1085.7,668.9 1088.0,672.0 1090.2,675.0 1092.5,680.9 1094.7,687.7 1096.9,689.8 1099.2,692.9 1101.4,698.7 1103.7,701.1 1105.9,705.7 1108.2,709.8 1110.4,714.3 1112.7,718.1 1114.9,721.1 1117.2,723.9 1119.4,726.5 1121.7,729.7 1123.9,733.8 1126.2,736.6 1128.4,739.5 1130.6,745.3 1132.9,747.4 1135.1,750.3 1137.4,752.2 1139.6,754.6 1141.9,756.6 1144.1,759.2 1146.4,759.0 1148.6,761.1 1150.9,765.1 1153.1,764.6 1155.4,767.7 1157.6,765.8 1159.9,770.0 1162.1,771.4 1164.4,772.3 1166.6,774.0 1168.8,775.2 1171.1,774.5 1173.3,777.3 1175.6,777.7 1177.8,778.5 1180.1,782.1 1182.3,779.8 1184.6,782.0 1186.8,782.6 1189.1,785.7 1191.3,784.4 1193.6,785.7 1195.8,787.5 1198.1,784.7 1200.3,787.4 1202.5,788.9 1204.8,789.0 1207.0,788.6 1209.3,789.0 1211.5,790.3 1213.8,790.3 1216.0,790.7 1218.3,794.9 1220.5,794.8 1222.8,796.3 1225.0,795.9 1227.3,795.2 1229.5,797.2 1231.8,800.4 1234.0,800.7 1236.2,800.4 1238.5,803.7 1240.7,804.7 1243.0,805.8 1245.2,810.0 1247.5,808.4 1249.7,810.5 1252.0,811.8 1254.2,815.3 1256.5,816.6 1258.7,818.0 1261.0,818.8 1263.2,820.9 1265.5,822.8 1267.7,822.9 1269.9,825.7 1272.2,830.4 1274.4,832.6 1276.7,831.9 1278.9,836.6 1281.2,836.7 1283.4,838.4 1285.7,843.0 1287.9,844.6 1290.2,846.0 1292.4,849.0 1294.7,851.0 1296.9,852.3 1299.2,852.7 1301.4,856.5 1303.6,858.4 1305.9,861.1 1308.1,864.5 1310.4,863.4 1312.6,870.4 1314.9,870.6 1317.1,871.2 1319.4,875.5 1321.6,874.9 1323.9,875.7 1326.1,879.8 1328.4,880.0 1330.6,883.0 1332.9,882.4 1335.1,884.4 1337.3,885.9 1339.6,886.3 1341.8,889.3 1344.1,890.3 1346.3,893.5 1348.6,898.3 1350.8,899.1 1353.1,901.5 1355.3,906.6 1357.6,905.9 1359.8,910.0 1362.1,912.1 1364.3,915.9 1366.6,916.9 1368.8,918.7 1371.0,921.4 1373.3,922.8 1375.5,927.3 1377.8,924.9 1380.0,929.7 1382.3,932.7 1384.5,932.9 1386.8,934.4 1389.0,934.2 1391.3,937.5 1393.5,937.5 1395.8,940.4 1398.0,937.8 1400.3,941.1 1402.5,940.7 1404.7,945.6 1407.0,944.9 1409.2,948.2 1411.5,947.7 1413.7,949.0 1416.0,953.2 1418.2,954.0 1420.5,955.5 1422.7,957.2 1425.0,957.6 1427.2,959.1 1429.5,960.9 1431.7,960.2 1434.0,960.8 1436.2,964.2 1438.4,964.4 1440.7,964.8 1442.9,966.2 1445.2,968.0 1447.4,967.3 1449.7,968.4 1451.9,969.9 1454.2,972.2 1456.4,970.8 1458.7,972.5 1460.9,976.5 1463.2,977.5 1465.4,977.3 1467.7,981.2 1469.9,981.1 1472.1,983.0 1474.4,985.3 1476.6,986.2 1478.9,989.2 1481.1,989.4 1483.4,992.6 1485.6,988.7 1487.9,991.0 1490.1,992.6 1492.4,995.1 1494.6,995.4 1496.9,996.3 1499.1,997.7 1501.4,998.9 1503.6,1002.2 1505.8,1001.5 1508.1,1003.7 1510.3,1005.5 1512.6,1006.4 1514.8,1005.4 1517.1,1005.7 1519.3,1009.7 1521.6,1007.0 1523.8,1008.4 1526.1,1011.9 1528.3,1013.2 1530.6,1014.0 1532.8,1014.0 1535.1,1017.0 1537.3,1019.3 1539.5,1018.9 1541.8,1023.4 1544.0,1022.2 1546.3,1022.4 1548.5,1025.0 1550.8,1025.9 1553.0,1027.8 1555.3,1029.0 1557.5,1031.2 1559.8,1033.8 1562.0,1034.5 1564.3,1035.7 1566.5,1035.4 1568.8,1036.3 1571.0,1039.1 1573.2,1041.9 1575.5,1043.1 1577.7,1043.8 1580.0,1043.1 1582.2,1045.6 1584.5,1047.3 1586.7,1049.2 1589.0,1048.2 1591.2,1049.8 1593.5,1051.1 1595.7,1051.6 1598.0,1050.3 1600.2,1053.1 1602.5,1051.4 1604.7,1052.5 1606.9,1054.5 1609.2,1054.0 1611.4,1055.8 1613.7,1057.3 1615.9,1057.1 1618.2,1058.5 1620.4,1057.3 1622.7,1058.5 1624.9,1058.4 1627.2,1058.6 1629.4,1064.1 1631.7,1060.4 1633.9,1063.5 1636.2,1061.6 1638.4,1063.5 1640.6,1062.9 1642.9,1061.9 1645.1,1066.4 1647.4,1064.8 1649.6,1065.9 1651.9,1069.0 1654.1,1066.8 1656.4,1068.5 1658.6,1070.2 1660.9,1071.4 1663.1,1067.5 1665.4,1072.9 1667.6,1075.6 1669.9,1075.3 1672.1,1075.4 1674.3,1076.1 1676.6,1076.3 1678.8,1078.0 1681.1,1076.5 1683.3,1078.1 1685.6,1079.6 1687.8,1079.3 1690.1,1079.2 1692.3,1078.1 1694.6,1079.0 1696.8,1080.5 1699.1,1080.6 1701.3,1081.0 1703.6,1079.3 1705.8,1083.3 1708.0,1082.6 1710.3,1083.0 1712.5,1085.7 1714.8,1085.0 1717.0,1085.6 1719.3,1087.0 1721.5,1086.3 1723.8,1086.2 1726.0,1086.5 1728.3,1088.6 1730.5,1088.5 1732.8,1086.3 1735.0,1090.9 1737.3,1089.7 1739.5,1089.3 1741.7,1090.6 1744.0,1090.4 1746.2,1091.5 1748.5,1091.4 1750.7,1091.3 1753.0,1093.9 1755.2,1094.0 1757.5,1095.0 1759.7,1096.2 1762.0,1096.3 1764.2,1098.3 1766.5,1096.5 1768.7,1095.8 1771.0,1096.2 1773.2,1097.1 1775.5,1100.2 1777.7,1097.5 1779.9,1100.6 1782.2,1100.1 1784.4,1098.1 1786.7,1102.1 1788.9,1100.1 1791.2,1101.1 1793.4,1102.0 1795.7,1103.3 1797.9,1102.0 1800.2,1103.5 1802.4,1102.0 1804.7,1102.1 1806.9,1105.7 1809.2,1105.1 1811.4,1105.3 1813.6,1107.0 1815.9,1107.5 1818.1,1106.7 1820.4,1107.8 1822.6,1110.2 1824.9,1109.5 1827.1,1108.7 1829.4,1111.2 1831.6,1111.1 1833.9,1108.2 1836.1,1108.6 1838.4,1112.4 1840.6,1112.1 1842.9,1110.1 1845.1,1112.1 1847.3,1111.0 1849.6,1111.3 1851.8,1109.5 1854.1,1111.5 1856.3,1107.3 1858.6,1101.4 1860.8,1096.1 1863.1,1099.4 1865.3,1106.5 1867.6,1109.0 1869.8,1112.3 1872.1,1115.2 1874.3,1116.3 1876.6,1116.0 1878.8,1115.7 1881.0,1117.6 1883.3,1117.7 1885.5,1119.0 1887.8,1120.1 1890.0,1121.3 1892.3,1120.5 1894.5,1121.9 1896.8,1122.5 1899.0,1121.8 1901.3,1123.1 1903.5,1123.4 1905.8,1127.1 1908.0,1125.1 1910.3,1127.2 1912.5,1128.0 1914.7,1128.5 1917.0,1126.3 1919.2,1127.1 1921.5,1129.3 1923.7,1130.0 1926.0,1128.8 1928.2,1129.5 1930.5,1127.0 1932.7,1130.9 1935.0,1131.4 1937.2,1129.5 1939.5,1129.2 1941.7,1129.1 1944.0,1128.3 1946.2,1126.7 1948.4,1129.7 1950.7,1129.9 1952.9,1131.3 1955.2,1128.8 1957.4,1127.9 1959.7,1129.0 1961.9,1127.0 1964.2,1128.2 1966.4,1126.2 1968.7,1127.7 1970.9,1129.7 1973.2,1129.7 1975.4,1131.6 1977.7,1132.9 1979.9,1131.4 1982.1,1131.6 1984.4,1131.1 1986.6,1134.2 1988.9,1134.8 1991.1,1136.2 1993.4,1133.8 1995.6,1134.8 1997.9,1136.1 2000.1,1134.8 2002.4,1135.2 2004.6,1138.5 2006.9,1135.6 2009.1,1136.8 2011.4,1138.0 2013.6,1138.5 2015.8,1136.2 2018.1,1136.8 2020.3,1136.6Z" fill="url(#g8)" stroke="#c8651c" stroke-width="7.4" stroke-linejoin="round" stroke-dasharray="0 1348.01 100000"/>
<path d="M1991.4,1220.0L621.2,1220.0L621.2,1191.8 623.5,1191.0 625.7,1188.7 628.0,1190.8 630.3,1189.5 632.6,1190.0 634.9,1184.4 637.2,1184.1 639.4,1183.3 641.7,1181.9 644.0,1180.7 646.3,1178.5 648.6,1174.7 650.9,1173.6 653.1,1168.2 655.4,1167.1 657.7,1164.0 660.0,1157.5 662.3,1155.2 664.6,1150.0 666.8,1146.6 669.1,1144.0 671.4,1135.2 673.7,1132.1 676.0,1123.2 678.3,1120.4 680.5,1114.3 682.8,1104.7 685.1,1097.4 687.4,1090.2 689.7,1083.9 692.0,1073.0 694.2,1067.2 696.5,1056.8 698.8,1047.6 701.1,1037.1 703.4,1025.1 705.7,1016.0 708.0,1003.1 710.2,990.9 712.5,981.5 714.8,967.8 717.1,953.3 719.4,939.5 721.7,923.8 723.9,911.6 726.2,892.8 728.5,876.8 730.8,861.7 733.1,846.7 735.4,828.3 737.6,812.2 739.9,794.0 742.2,778.1 744.5,760.6 746.8,745.8 749.1,727.7 751.3,717.1 753.6,700.8 755.9,685.0 758.2,674.4 760.5,659.4 762.8,650.8 765.0,639.2 767.3,631.7 769.6,623.5 771.9,616.3 774.2,611.4 776.5,607.5 778.7,601.0 781.0,601.2 783.3,600.8 785.6,597.4 787.9,597.1 790.2,596.8 792.5,597.0 794.7,601.9 797.0,601.3 799.3,603.7 801.6,608.1 803.9,611.1 806.2,618.7 808.4,619.4 810.7,620.5 813.0,629.1 815.3,631.7 817.6,635.0 819.9,639.1 822.1,642.2 824.4,651.0 826.7,653.4 829.0,657.0 831.3,664.4 833.6,667.6 835.8,670.0 838.1,675.7 840.4,681.6 842.7,690.6 845.0,692.6 847.3,697.0 849.5,703.0 851.8,707.8 854.1,708.7 856.4,717.6 858.7,723.0 861.0,725.6 863.2,730.1 865.5,733.4 867.8,736.1 870.1,737.5 872.4,740.3 874.7,743.7 877.0,743.6 879.2,743.7 881.5,745.3 883.8,743.4 886.1,743.5 888.4,745.1 890.7,742.4 892.9,738.9 895.2,737.7 897.5,737.7 899.8,734.1 902.1,733.4 904.4,731.4 906.6,725.8 908.9,722.9 911.2,719.1 913.5,716.3 915.8,712.4 918.1,710.0 920.3,705.4 922.6,701.5 924.9,699.3 927.2,694.7 929.5,694.5 931.8,689.6 934.0,683.0 936.3,678.7 938.6,676.6 940.9,673.1 943.2,670.7 945.5,665.1 947.7,661.4 950.0,661.4 952.3,656.4 954.6,654.4 956.9,652.6 959.2,653.1 961.5,649.7 963.7,651.2 966.0,646.7 968.3,648.0 970.6,649.6 972.9,646.9 975.2,648.0 977.4,651.6 979.7,649.6 982.0,655.4 984.3,655.7 986.6,656.5 988.9,662.9 991.1,661.0 993.4,664.8 995.7,667.6 998.0,672.1 1000.3,673.9 1002.6,679.4 1004.8,683.1 1007.1,686.5 1009.4,691.6 1011.7,692.4 1014.0,700.3 1016.3,703.8 1018.5,707.3 1020.8,710.9 1023.1,713.9 1025.4,718.0 1027.7,723.8 1030.0,728.4 1032.2,732.5 1034.5,736.0 1036.8,740.6 1039.1,746.4 1041.4,752.5 1043.7,751.4 1046.0,757.0 1048.2,761.9 1050.5,765.8 1052.8,770.7 1055.1,775.1 1057.4,778.2 1059.7,781.9 1061.9,786.3 1064.2,791.1 1066.5,793.3 1068.8,795.7 1071.1,800.3 1073.4,802.9 1075.6,808.6 1077.9,809.5 1080.2,812.6 1082.5,817.3 1084.8,821.2 1087.1,821.9 1089.3,826.7 1091.6,828.4 1093.9,832.7 1096.2,834.4 1098.5,838.3 1100.8,842.2 1103.0,842.5 1105.3,844.8 1107.6,845.3 1109.9,848.4 1112.2,850.1 1114.5,850.3 1116.7,851.8 1119.0,854.1 1121.3,855.6 1123.6,858.1 1125.9,859.4 1128.2,860.9 1130.5,862.9 1132.7,864.6 1135.0,865.8 1137.3,864.1 1139.6,868.2 1141.9,869.5 1144.2,870.6 1146.4,871.2 1148.7,871.7 1151.0,874.3 1153.3,876.3 1155.6,874.4 1157.9,877.8 1160.1,876.5 1162.4,877.8 1164.7,877.7 1167.0,878.3 1169.3,881.2 1171.6,883.6 1173.8,885.6 1176.1,886.3 1178.4,886.3 1180.7,890.0 1183.0,888.2 1185.3,889.3 1187.5,889.4 1189.8,891.5 1192.1,891.9 1194.4,894.0 1196.7,894.7 1199.0,897.5 1201.3,896.4 1203.5,895.9 1205.8,899.0 1208.1,900.2 1210.4,903.4 1212.7,902.0 1215.0,906.3 1217.2,906.0 1219.5,908.5 1221.8,911.5 1224.1,910.7 1226.4,913.8 1228.7,915.4 1230.9,916.9 1233.2,919.3 1235.5,921.7 1237.8,922.6 1240.1,925.7 1242.4,927.1 1244.6,930.0 1246.9,932.8 1249.2,933.5 1251.5,934.9 1253.8,935.8 1256.1,935.9 1258.3,941.0 1260.6,940.4 1262.9,945.1 1265.2,945.6 1267.5,947.0 1269.8,951.5 1272.0,953.4 1274.3,953.3 1276.6,955.7 1278.9,958.3 1281.2,961.3 1283.5,959.6 1285.8,964.4 1288.0,966.9 1290.3,965.3 1292.6,968.2 1294.9,971.1 1297.2,970.9 1299.5,974.1 1301.7,975.5 1304.0,978.3 1306.3,982.4 1308.6,982.4 1310.9,986.1 1313.2,990.3 1315.4,992.7 1317.7,993.2 1320.0,997.5 1322.3,999.6 1324.6,1001.3 1326.9,1004.4 1329.1,1008.7 1331.4,1008.3 1333.7,1010.1 1336.0,1012.3 1338.3,1013.4 1340.6,1017.0 1342.8,1018.5 1345.1,1019.4 1347.4,1023.7 1349.7,1023.0 1352.0,1024.9 1354.3,1027.9 1356.5,1028.4 1358.8,1031.3 1361.1,1035.2 1363.4,1034.4 1365.7,1037.1 1368.0,1038.7 1370.3,1040.7 1372.5,1040.8 1374.8,1043.4 1377.1,1046.6 1379.4,1046.5 1381.7,1047.6 1384.0,1050.7 1386.2,1051.5 1388.5,1052.5 1390.8,1053.7 1393.1,1053.5 1395.4,1053.5 1397.7,1053.3 1399.9,1055.0 1402.2,1056.0 1404.5,1056.6 1406.8,1057.2 1409.1,1060.1 1411.4,1059.6 1413.6,1060.9 1415.9,1062.4 1418.2,1063.8 1420.5,1065.0 1422.8,1065.8 1425.1,1068.2 1427.3,1067.3 1429.6,1069.4 1431.9,1070.6 1434.2,1071.7 1436.5,1072.7 1438.8,1075.9 1441.0,1076.9 1443.3,1080.3 1445.6,1082.6 1447.9,1083.7 1450.2,1080.7 1452.5,1086.1 1454.8,1084.3 1457.0,1084.0 1459.3,1087.2 1461.6,1085.2 1463.9,1085.5 1466.2,1087.2 1468.5,1085.9 1470.7,1088.7 1473.0,1090.9 1475.3,1089.9 1477.6,1091.7 1479.9,1093.4 1482.2,1094.0 1484.4,1090.2 1486.7,1094.5 1489.0,1094.6 1491.3,1096.2 1493.6,1096.1 1495.9,1097.5 1498.1,1098.7 1500.4,1100.7 1502.7,1102.1 1505.0,1102.4 1507.3,1102.3 1509.6,1101.2 1511.8,1103.7 1514.1,1103.9 1516.4,1106.8 1518.7,1108.6 1521.0,1111.3 1523.3,1110.7 1525.5,1114.4 1527.8,1113.1 1530.1,1111.6 1532.4,1114.2 1534.7,1114.1 1537.0,1116.9 1539.3,1119.1 1541.5,1118.8 1543.8,1119.6 1546.1,1118.5 1548.4,1118.4 1550.7,1122.8 1553.0,1123.2 1555.2,1123.8 1557.5,1125.0 1559.8,1127.1 1562.1,1126.3 1564.4,1126.9 1566.7,1127.8 1568.9,1130.8 1571.2,1130.3 1573.5,1133.2 1575.8,1130.8 1578.1,1134.1 1580.4,1134.0 1582.6,1135.0 1584.9,1135.9 1587.2,1137.3 1589.5,1138.9 1591.8,1135.2 1594.1,1137.7 1596.3,1138.3 1598.6,1136.7 1600.9,1140.1 1603.2,1140.0 1605.5,1141.4 1607.8,1140.6 1610.0,1142.2 1612.3,1143.3 1614.6,1144.8 1616.9,1145.0 1619.2,1144.7 1621.5,1149.6 1623.8,1148.0 1626.0,1149.1 1628.3,1149.7 1630.6,1152.5 1632.9,1149.8 1635.2,1152.5 1637.5,1152.4 1639.7,1153.3 1642.0,1155.4 1644.3,1154.4 1646.6,1156.7 1648.9,1156.0 1651.2,1155.7 1653.4,1155.7 1655.7,1156.0 1658.0,1156.6 1660.3,1154.1 1662.6,1156.6 1664.9,1159.1 1667.1,1158.7 1669.4,1159.1 1671.7,1158.9 1674.0,1159.9 1676.3,1160.7 1678.6,1158.2 1680.8,1160.9 1683.1,1162.2 1685.4,1163.0 1687.7,1163.9 1690.0,1162.9 1692.3,1164.9 1694.6,1164.8 1696.8,1170.8 1699.1,1166.9 1701.4,1166.4 1703.7,1165.6 1706.0,1168.3 1708.3,1170.8 1710.5,1168.2 1712.8,1170.0 1715.1,1171.9 1717.4,1170.8 1719.7,1169.2 1722.0,1169.5 1724.2,1170.7 1726.5,1173.6 1728.8,1169.8 1731.1,1175.1 1733.4,1174.5 1735.7,1177.1 1737.9,1174.5 1740.2,1176.4 1742.5,1176.7 1744.8,1178.4 1747.1,1179.3 1749.4,1179.6 1751.6,1182.6 1753.9,1179.3 1756.2,1179.7 1758.5,1181.5 1760.8,1181.1 1763.1,1180.9 1765.3,1179.4 1767.6,1180.9 1769.9,1181.5 1772.2,1182.3 1774.5,1183.6 1776.8,1182.6 1779.1,1181.8 1781.3,1182.4 1783.6,1182.1 1785.9,1181.4 1788.2,1182.0 1790.5,1182.5 1792.8,1182.3 1795.0,1183.3 1797.3,1183.9 1799.6,1183.7 1801.9,1186.7 1804.2,1183.3 1806.5,1186.7 1808.7,1184.3 1811.0,1185.5 1813.3,1184.3 1815.6,1185.8 1817.9,1187.1 1820.2,1184.2 1822.4,1183.9 1824.7,1181.0 1827.0,1177.3 1829.3,1174.2 1831.6,1176.0 1833.9,1181.0 1836.1,1187.7 1838.4,1189.2 1840.7,1190.1 1843.0,1188.9 1845.3,1191.3 1847.6,1192.5 1849.8,1191.5 1852.1,1193.8 1854.4,1194.2 1856.7,1194.6 1859.0,1197.3 1861.3,1194.8 1863.6,1196.0 1865.8,1197.4 1868.1,1198.9 1870.4,1197.6 1872.7,1196.5 1875.0,1199.4 1877.3,1200.2 1879.5,1198.6 1881.8,1201.4 1884.1,1202.4 1886.4,1200.4 1888.7,1200.9 1891.0,1200.6 1893.2,1201.2 1895.5,1200.3 1897.8,1201.2 1900.1,1201.9 1902.4,1201.9 1904.7,1200.8 1906.9,1200.6 1909.2,1201.0 1911.5,1201.6 1913.8,1206.9 1916.1,1204.4 1918.4,1204.0 1920.6,1203.8 1922.9,1206.5 1925.2,1203.2 1927.5,1205.0 1929.8,1206.4 1932.1,1205.6 1934.3,1206.2 1936.6,1206.6 1938.9,1204.8 1941.2,1205.6 1943.5,1206.5 1945.8,1205.3 1948.1,1204.7 1950.3,1206.0 1952.6,1203.4 1954.9,1206.9 1957.2,1203.8 1959.5,1205.4 1961.8,1208.2 1964.0,1207.2 1966.3,1206.2 1968.6,1208.2 1970.9,1209.7 1973.2,1208.4 1975.5,1206.3 1977.7,1211.0 1980.0,1208.8 1982.3,1209.9 1984.6,1210.4 1986.9,1211.2 1989.2,1211.4 1991.4,1209.8Z" fill="url(#g7)" stroke="#6a9fd4" stroke-width="7.4" stroke-linejoin="round" stroke-dasharray="0 1370.28 100000"/>
<path d="M1961.6,1293.1L568.3,1293.1L568.3,1262.9 570.6,1264.8 572.9,1261.2 575.3,1264.4 577.6,1261.2 579.9,1261.0 582.2,1258.6 584.5,1258.5 586.9,1256.1 589.2,1255.8 591.5,1252.6 593.8,1251.2 596.2,1246.4 598.5,1247.2 600.8,1241.8 603.1,1239.4 605.4,1236.2 607.8,1233.4 610.1,1228.0 612.4,1226.1 614.7,1221.3 617.1,1213.7 619.4,1211.4 621.7,1202.0 624.0,1198.3 626.3,1191.5 628.7,1185.2 631.0,1177.9 633.3,1171.5 635.6,1164.0 638.0,1155.7 640.3,1145.9 642.6,1137.0 644.9,1127.6 647.2,1119.2 649.6,1109.8 651.9,1101.2 654.2,1087.2 656.5,1075.4 658.9,1064.9 661.2,1050.8 663.5,1037.0 665.8,1024.8 668.1,1009.3 670.5,995.3 672.8,982.5 675.1,965.0 677.4,948.5 679.8,930.5 682.1,915.1 684.4,897.2 686.7,880.4 689.0,861.6 691.4,844.0 693.7,825.6 696.0,808.9 698.3,793.1 700.7,777.1 703.0,762.0 705.3,747.4 707.6,732.0 709.9,724.5 712.3,710.0 714.6,699.1 716.9,689.1 719.2,684.2 721.6,676.0 723.9,670.3 726.2,667.9 728.5,666.8 730.8,662.7 733.2,662.4 735.5,659.3 737.8,661.0 740.1,658.0 742.5,661.0 744.8,663.7 747.1,665.3 749.4,668.6 751.7,669.9 754.1,672.3 756.4,678.9 758.7,682.2 761.0,689.7 763.3,693.3 765.7,695.9 768.0,705.6 770.3,707.1 772.6,711.8 775.0,720.2 777.3,724.2 779.6,728.3 781.9,730.6 784.2,737.4 786.6,742.2 788.9,746.3 791.2,752.4 793.5,757.6 795.9,763.6 798.2,766.9 800.5,774.3 802.8,776.0 805.1,783.2 807.5,788.2 809.8,790.5 812.1,794.7 814.4,801.5 816.8,802.1 819.1,807.1 821.4,809.1 823.7,809.2 826.0,813.1 828.4,812.9 830.7,814.7 833.0,812.2 835.3,814.8 837.7,815.8 840.0,815.0 842.3,813.6 844.6,810.7 846.9,809.0 849.3,805.6 851.6,804.1 853.9,801.4 856.2,798.1 858.6,795.3 860.9,791.3 863.2,787.0 865.5,783.2 867.8,781.0 870.2,778.6 872.5,773.4 874.8,768.0 877.1,767.5 879.5,761.1 881.8,756.0 884.1,753.5 886.4,750.6 888.7,743.4 891.1,740.4 893.4,739.2 895.7,734.0 898.0,730.9 900.4,731.0 902.7,723.3 905.0,725.1 907.3,721.7 909.6,720.5 912.0,717.1 914.3,717.3 916.6,714.5 918.9,712.4 921.3,713.1 923.6,713.8 925.9,711.8 928.2,715.6 930.5,714.3 932.9,717.4 935.2,718.5 937.5,721.1 939.8,723.7 942.2,727.0 944.5,731.3 946.8,734.7 949.1,737.3 951.4,742.0 953.8,747.4 956.1,750.9 958.4,754.9 960.7,758.2 963.1,761.9 965.4,766.0 967.7,770.8 970.0,773.8 972.3,779.4 974.7,785.0 977.0,785.1 979.3,790.9 981.6,793.7 984.0,797.8 986.3,799.2 988.6,805.4 990.9,807.4 993.2,812.4 995.6,817.5 997.9,822.2 1000.2,823.9 1002.5,828.4 1004.9,832.3 1007.2,835.3 1009.5,841.6 1011.8,845.6 1014.1,850.1 1016.5,853.5 1018.8,857.7 1021.1,861.8 1023.4,861.5 1025.8,869.6 1028.1,870.1 1030.4,873.0 1032.7,876.5 1035.0,881.1 1037.4,883.4 1039.7,887.0 1042.0,891.1 1044.3,893.1 1046.7,896.8 1049.0,900.0 1051.3,901.3 1053.6,906.2 1055.9,906.7 1058.3,910.4 1060.6,911.3 1062.9,913.9 1065.2,915.8 1067.6,919.3 1069.9,920.9 1072.2,922.8 1074.5,923.1 1076.8,923.9 1079.2,924.9 1081.5,928.2 1083.8,928.6 1086.1,931.9 1088.5,933.7 1090.8,932.9 1093.1,933.6 1095.4,935.7 1097.7,936.9 1100.1,934.8 1102.4,937.4 1104.7,939.3 1107.0,935.0 1109.3,938.6 1111.7,940.0 1114.0,939.6 1116.3,942.3 1118.6,940.2 1121.0,945.2 1123.3,946.0 1125.6,945.6 1127.9,947.6 1130.2,946.1 1132.6,951.1 1134.9,951.2 1137.2,951.1 1139.5,951.8 1141.9,952.4 1144.2,954.3 1146.5,953.2 1148.8,958.0 1151.1,958.6 1153.5,959.3 1155.8,962.5 1158.1,964.1 1160.4,966.0 1162.8,967.9 1165.1,970.1 1167.4,971.0 1169.7,973.8 1172.0,972.8 1174.4,976.9 1176.7,973.9 1179.0,976.1 1181.3,978.7 1183.7,982.3 1186.0,984.7 1188.3,984.4 1190.6,987.8 1192.9,989.3 1195.3,993.1 1197.6,992.9 1199.9,997.4 1202.2,998.5 1204.6,1003.0 1206.9,1003.8 1209.2,1004.6 1211.5,1008.0 1213.8,1010.3 1216.2,1011.0 1218.5,1014.3 1220.8,1015.0 1223.1,1021.9 1225.5,1020.4 1227.8,1022.7 1230.1,1027.6 1232.4,1029.6 1234.7,1029.2 1237.1,1033.9 1239.4,1035.6 1241.7,1036.3 1244.0,1039.7 1246.4,1040.9 1248.7,1044.7 1251.0,1045.4 1253.3,1046.4 1255.6,1049.4 1258.0,1054.6 1260.3,1052.9 1262.6,1055.5 1264.9,1058.6 1267.3,1057.5 1269.6,1063.4 1271.9,1060.6 1274.2,1065.6 1276.5,1064.6 1278.9,1068.5 1281.2,1072.0 1283.5,1072.0 1285.8,1073.6 1288.2,1075.2 1290.5,1076.4 1292.8,1080.8 1295.1,1081.0 1297.4,1082.5 1299.8,1085.7 1302.1,1088.4 1304.4,1090.2 1306.7,1089.8 1309.1,1091.5 1311.4,1095.3 1313.7,1097.6 1316.0,1096.0 1318.3,1101.1 1320.7,1100.5 1323.0,1103.3 1325.3,1106.0 1327.6,1105.1 1330.0,1107.0 1332.3,1106.4 1334.6,1106.8 1336.9,1111.4 1339.2,1111.4 1341.6,1112.8 1343.9,1116.3 1346.2,1118.2 1348.5,1116.5 1350.9,1120.5 1353.2,1121.4 1355.5,1123.2 1357.8,1124.4 1360.1,1126.3 1362.5,1126.0 1364.8,1126.6 1367.1,1130.0 1369.4,1132.6 1371.8,1132.0 1374.1,1135.2 1376.4,1135.4 1378.7,1134.2 1381.0,1134.1 1383.4,1137.7 1385.7,1140.7 1388.0,1139.6 1390.3,1144.5 1392.7,1143.7 1395.0,1142.0 1397.3,1144.1 1399.6,1147.8 1401.9,1149.2 1404.3,1147.0 1406.6,1149.1 1408.9,1150.8 1411.2,1150.4 1413.6,1152.6 1415.9,1155.2 1418.2,1152.7 1420.5,1155.4 1422.8,1156.8 1425.2,1158.2 1427.5,1157.1 1429.8,1159.4 1432.1,1158.7 1434.4,1160.8 1436.8,1160.2 1439.1,1163.2 1441.4,1164.6 1443.7,1167.5 1446.1,1167.5 1448.4,1166.4 1450.7,1164.6 1453.0,1171.3 1455.3,1172.2 1457.7,1171.6 1460.0,1172.6 1462.3,1175.3 1464.6,1175.5 1467.0,1178.9 1469.3,1178.4 1471.6,1178.0 1473.9,1178.3 1476.2,1181.8 1478.6,1183.0 1480.9,1183.3 1483.2,1183.6 1485.5,1185.5 1487.9,1188.2 1490.2,1187.9 1492.5,1188.2 1494.8,1191.4 1497.1,1193.2 1499.5,1191.9 1501.8,1193.0 1504.1,1193.2 1506.4,1195.3 1508.8,1197.2 1511.1,1197.8 1513.4,1199.5 1515.7,1200.2 1518.0,1200.5 1520.4,1201.2 1522.7,1199.9 1525.0,1203.6 1527.3,1202.7 1529.7,1204.0 1532.0,1202.0 1534.3,1204.1 1536.6,1205.4 1538.9,1204.5 1541.3,1206.0 1543.6,1207.3 1545.9,1205.3 1548.2,1207.0 1550.6,1206.5 1552.9,1208.0 1555.2,1209.3 1557.5,1211.0 1559.8,1213.6 1562.2,1212.3 1564.5,1214.2 1566.8,1214.6 1569.1,1216.6 1571.5,1218.5 1573.8,1220.0 1576.1,1218.8 1578.4,1219.0 1580.7,1221.9 1583.1,1221.7 1585.4,1221.2 1587.7,1224.7 1590.0,1224.6 1592.4,1226.1 1594.7,1223.7 1597.0,1225.3 1599.3,1226.7 1601.6,1228.6 1604.0,1227.2 1606.3,1226.1 1608.6,1228.2 1610.9,1228.9 1613.3,1228.0 1615.6,1230.9 1617.9,1229.8 1620.2,1229.6 1622.5,1231.8 1624.9,1232.3 1627.2,1231.4 1629.5,1232.3 1631.8,1232.8 1634.2,1232.7 1636.5,1233.1 1638.8,1235.0 1641.1,1235.1 1643.4,1234.2 1645.8,1233.8 1648.1,1234.1 1650.4,1237.4 1652.7,1235.6 1655.1,1236.6 1657.4,1238.3 1659.7,1238.3 1662.0,1238.5 1664.3,1237.9 1666.7,1242.1 1669.0,1240.5 1671.3,1241.9 1673.6,1242.4 1676.0,1241.1 1678.3,1241.8 1680.6,1244.4 1682.9,1243.7 1685.2,1243.3 1687.6,1245.7 1689.9,1243.1 1692.2,1244.7 1694.5,1244.8 1696.9,1245.0 1699.2,1243.8 1701.5,1246.7 1703.8,1248.0 1706.1,1246.3 1708.5,1250.0 1710.8,1251.0 1713.1,1252.8 1715.4,1250.3 1717.8,1251.8 1720.1,1251.7 1722.4,1252.2 1724.7,1252.5 1727.0,1253.2 1729.4,1253.0 1731.7,1251.4 1734.0,1251.8 1736.3,1250.0 1738.7,1253.2 1741.0,1253.2 1743.3,1254.4 1745.6,1252.0 1747.9,1255.9 1750.3,1254.1 1752.6,1253.9 1754.9,1256.6 1757.2,1256.0 1759.6,1260.1 1761.9,1258.2 1764.2,1260.0 1766.5,1257.8 1768.8,1258.0 1771.2,1259.0 1773.5,1256.8 1775.8,1257.5 1778.1,1258.7 1780.4,1258.7 1782.8,1259.9 1785.1,1258.2 1787.4,1254.7 1789.7,1256.3 1792.1,1251.0 1794.4,1247.3 1796.7,1243.0 1799.0,1245.3 1801.3,1251.3 1803.7,1258.7 1806.0,1260.7 1808.3,1260.3 1810.6,1263.0 1813.0,1262.6 1815.3,1264.5 1817.6,1266.8 1819.9,1264.5 1822.2,1265.2 1824.6,1266.8 1826.9,1267.1 1829.2,1266.8 1831.5,1268.4 1833.9,1267.7 1836.2,1268.8 1838.5,1272.0 1840.8,1269.7 1843.1,1270.7 1845.5,1271.5 1847.8,1270.4 1850.1,1272.0 1852.4,1271.2 1854.8,1271.0 1857.1,1272.7 1859.4,1275.3 1861.7,1274.7 1864.0,1273.1 1866.4,1275.0 1868.7,1276.0 1871.0,1275.5 1873.3,1275.1 1875.7,1275.7 1878.0,1275.5 1880.3,1277.6 1882.6,1277.1 1884.9,1277.3 1887.3,1277.1 1889.6,1279.8 1891.9,1277.5 1894.2,1278.8 1896.6,1275.3 1898.9,1274.9 1901.2,1274.6 1903.5,1275.5 1905.8,1276.9 1908.2,1275.0 1910.5,1276.5 1912.8,1275.6 1915.1,1277.8 1917.5,1277.8 1919.8,1277.0 1922.1,1276.0 1924.4,1278.8 1926.7,1276.5 1929.1,1276.3 1931.4,1281.8 1933.7,1280.6 1936.0,1282.0 1938.4,1281.3 1940.7,1282.0 1943.0,1281.7 1945.3,1280.8 1947.6,1281.2 1950.0,1282.4 1952.3,1283.2 1954.6,1283.5 1956.9,1283.9 1959.3,1283.7 1961.6,1284.5Z" fill="url(#g6)" stroke="#f0656b" stroke-width="7.4" stroke-linejoin="round" stroke-dasharray="0 1393.29 100000"/>
<path d="M1930.7,1368.8L513.6,1368.8L513.6,1339.0 516.0,1341.2 518.3,1338.2 520.7,1336.5 523.1,1337.8 525.4,1339.1 527.8,1334.5 530.1,1335.5 532.5,1337.6 534.9,1332.4 537.2,1329.6 539.6,1327.9 541.9,1324.5 544.3,1322.8 546.7,1320.7 549.0,1320.4 551.4,1316.1 553.8,1310.9 556.1,1306.5 558.5,1304.6 560.8,1299.7 563.2,1293.7 565.6,1291.8 567.9,1286.7 570.3,1278.9 572.7,1272.4 575.0,1267.1 577.4,1262.8 579.7,1252.9 582.1,1247.3 584.5,1237.0 586.8,1229.9 589.2,1220.9 591.5,1211.5 593.9,1203.6 596.3,1192.1 598.6,1181.3 601.0,1171.6 603.4,1159.1 605.7,1149.8 608.1,1135.5 610.4,1123.3 612.8,1111.3 615.2,1096.0 617.5,1081.7 619.9,1066.2 622.2,1049.4 624.6,1031.5 627.0,1016.2 629.3,998.1 631.7,982.3 634.1,962.3 636.4,942.9 638.8,925.3 641.1,908.0 643.5,891.8 645.9,875.4 648.2,857.8 650.6,843.8 653.0,828.8 655.3,812.0 657.7,801.5 660.0,786.3 662.4,779.9 664.8,768.3 667.1,762.5 669.5,754.1 671.8,750.2 674.2,744.2 676.6,740.6 678.9,737.7 681.3,733.7 683.7,730.1 686.0,731.0 688.4,727.7 690.7,727.9 693.1,727.8 695.5,725.2 697.8,731.6 700.2,730.9 702.6,734.1 704.9,734.2 707.3,736.6 709.6,734.3 712.0,742.0 714.4,743.8 716.7,748.3 719.1,754.7 721.4,757.8 723.8,760.8 726.2,767.3 728.5,771.8 730.9,776.1 733.3,783.3 735.6,787.0 738.0,790.1 740.3,794.5 742.7,801.1 745.1,805.1 747.4,809.8 749.8,814.9 752.1,819.0 754.5,824.8 756.9,829.8 759.2,836.5 761.6,840.4 764.0,842.5 766.3,848.2 768.7,848.5 771.0,851.8 773.4,853.6 775.8,852.7 778.1,855.0 780.5,855.4 782.9,854.8 785.2,853.1 787.6,848.4 789.9,853.0 792.3,848.3 794.7,846.2 797.0,842.0 799.4,840.6 801.7,840.0 804.1,831.4 806.5,830.6 808.8,825.0 811.2,822.2 813.6,817.2 815.9,811.6 818.3,805.0 820.6,800.0 823.0,797.0 825.4,790.7 827.7,786.9 830.1,781.6 832.5,776.8 834.8,771.6 837.2,768.6 839.5,763.5 841.9,758.8 844.3,754.8 846.6,752.0 849.0,745.1 851.3,744.5 853.7,739.8 856.1,737.7 858.4,733.9 860.8,736.1 863.2,728.6 865.5,729.7 867.9,729.5 870.2,726.5 872.6,722.7 875.0,724.3 877.3,726.1 879.7,725.1 882.0,723.1 884.4,727.3 886.8,726.8 889.1,728.2 891.5,726.6 893.9,731.5 896.2,731.5 898.6,736.3 900.9,738.9 903.3,739.3 905.7,742.7 908.0,748.9 910.4,749.2 912.8,752.7 915.1,758.1 917.5,760.9 919.8,765.0 922.2,770.2 924.6,774.7 926.9,779.2 929.3,783.3 931.6,789.3 934.0,792.4 936.4,799.2 938.7,802.2 941.1,807.6 943.5,814.2 945.8,817.3 948.2,821.4 950.5,827.5 952.9,836.2 955.3,837.6 957.6,843.4 960.0,847.7 962.3,852.1 964.7,854.7 967.1,856.1 969.4,860.4 971.8,864.9 974.2,868.7 976.5,872.1 978.9,874.8 981.2,877.2 983.6,885.2 986.0,888.1 988.3,892.7 990.7,897.2 993.1,899.5 995.4,902.9 997.8,908.8 1000.1,911.5 1002.5,911.6 1004.9,915.5 1007.2,917.8 1009.6,921.5 1011.9,923.5 1014.3,924.4 1016.7,927.5 1019.0,930.0 1021.4,930.1 1023.8,930.3 1026.1,934.0 1028.5,932.4 1030.8,933.8 1033.2,936.7 1035.6,936.4 1037.9,937.4 1040.3,937.4 1042.7,938.4 1045.0,942.1 1047.4,943.4 1049.7,941.8 1052.1,944.4 1054.5,945.5 1056.8,946.9 1059.2,946.5 1061.5,950.9 1063.9,948.7 1066.3,951.7 1068.6,950.2 1071.0,950.0 1073.4,954.1 1075.7,952.6 1078.1,954.3 1080.4,955.4 1082.8,956.0 1085.2,958.4 1087.5,959.3 1089.9,958.1 1092.2,958.7 1094.6,961.4 1097.0,963.4 1099.3,959.5 1101.7,962.2 1104.1,964.4 1106.4,967.7 1108.8,968.6 1111.1,969.2 1113.5,972.4 1115.9,970.7 1118.2,974.1 1120.6,975.2 1123.0,978.3 1125.3,979.3 1127.7,980.4 1130.0,980.2 1132.4,982.3 1134.8,983.8 1137.1,984.8 1139.5,986.8 1141.8,987.2 1144.2,991.5 1146.6,994.7 1148.9,995.6 1151.3,995.8 1153.7,1000.4 1156.0,1001.7 1158.4,1004.2 1160.7,1005.4 1163.1,1007.8 1165.5,1011.5 1167.8,1013.2 1170.2,1014.3 1172.6,1016.7 1174.9,1019.6 1177.3,1022.3 1179.6,1026.3 1182.0,1028.7 1184.4,1029.2 1186.7,1033.8 1189.1,1034.2 1191.4,1038.2 1193.8,1037.8 1196.2,1039.7 1198.5,1041.9 1200.9,1041.2 1203.3,1044.6 1205.6,1046.0 1208.0,1048.0 1210.3,1051.0 1212.7,1051.0 1215.1,1056.3 1217.4,1058.5 1219.8,1063.6 1222.1,1065.8 1224.5,1068.8 1226.9,1071.9 1229.2,1075.2 1231.6,1077.1 1234.0,1078.0 1236.3,1082.5 1238.7,1084.7 1241.0,1087.1 1243.4,1085.1 1245.8,1088.0 1248.1,1090.9 1250.5,1092.3 1252.9,1095.7 1255.2,1096.6 1257.6,1097.8 1259.9,1099.7 1262.3,1102.8 1264.7,1104.8 1267.0,1105.2 1269.4,1107.7 1271.7,1113.2 1274.1,1112.8 1276.5,1113.8 1278.8,1118.9 1281.2,1120.3 1283.6,1125.0 1285.9,1124.6 1288.3,1129.4 1290.6,1131.9 1293.0,1132.8 1295.4,1131.3 1297.7,1136.9 1300.1,1139.4 1302.4,1138.8 1304.8,1140.6 1307.2,1140.2 1309.5,1145.3 1311.9,1147.1 1314.3,1146.9 1316.6,1147.3 1319.0,1148.7 1321.3,1149.1 1323.7,1153.8 1326.1,1154.3 1328.4,1154.7 1330.8,1154.9 1333.2,1156.7 1335.5,1159.2 1337.9,1161.4 1340.2,1160.4 1342.6,1161.8 1345.0,1161.0 1347.3,1166.3 1349.7,1165.6 1352.0,1170.9 1354.4,1171.7 1356.8,1173.6 1359.1,1175.2 1361.5,1177.5 1363.9,1178.8 1366.2,1179.9 1368.6,1182.1 1370.9,1182.3 1373.3,1184.8 1375.7,1186.2 1378.0,1185.8 1380.4,1188.6 1382.8,1190.2 1385.1,1191.8 1387.5,1193.1 1389.8,1193.8 1392.2,1196.9 1394.6,1195.9 1396.9,1196.7 1399.3,1198.7 1401.6,1202.2 1404.0,1205.0 1406.4,1204.9 1408.7,1205.6 1411.1,1206.2 1413.5,1208.9 1415.8,1210.5 1418.2,1209.6 1420.5,1213.8 1422.9,1213.0 1425.3,1214.7 1427.6,1218.9 1430.0,1218.3 1432.3,1220.8 1434.7,1222.7 1437.1,1225.3 1439.4,1226.3 1441.8,1225.2 1444.2,1227.7 1446.5,1228.2 1448.9,1231.3 1451.2,1231.8 1453.6,1233.1 1456.0,1236.1 1458.3,1237.6 1460.7,1236.2 1463.1,1237.8 1465.4,1240.4 1467.8,1240.5 1470.1,1240.6 1472.5,1240.2 1474.9,1244.7 1477.2,1243.7 1479.6,1242.7 1481.9,1246.2 1484.3,1245.3 1486.7,1251.3 1489.0,1246.9 1491.4,1249.6 1493.8,1252.7 1496.1,1250.1 1498.5,1250.4 1500.8,1250.9 1503.2,1251.6 1505.6,1253.9 1507.9,1255.5 1510.3,1255.8 1512.7,1256.0 1515.0,1256.2 1517.4,1258.1 1519.7,1258.2 1522.1,1258.1 1524.5,1259.7 1526.8,1258.2 1529.2,1259.4 1531.5,1264.7 1533.9,1265.2 1536.3,1267.3 1538.6,1268.3 1541.0,1267.4 1543.4,1270.6 1545.7,1271.8 1548.1,1272.0 1550.4,1271.8 1552.8,1274.4 1555.2,1275.5 1557.5,1275.0 1559.9,1276.6 1562.2,1277.7 1564.6,1278.1 1567.0,1281.6 1569.3,1281.0 1571.7,1283.0 1574.1,1281.8 1576.4,1282.9 1578.8,1286.0 1581.1,1283.7 1583.5,1287.5 1585.9,1285.2 1588.2,1287.0 1590.6,1288.8 1593.0,1289.6 1595.3,1289.0 1597.7,1289.1 1600.0,1290.5 1602.4,1289.3 1604.8,1292.3 1607.1,1291.1 1609.5,1291.8 1611.8,1294.9 1614.2,1293.0 1616.6,1296.0 1618.9,1298.7 1621.3,1297.4 1623.7,1297.9 1626.0,1297.5 1628.4,1300.1 1630.7,1298.3 1633.1,1298.8 1635.5,1299.7 1637.8,1299.6 1640.2,1301.1 1642.6,1302.4 1644.9,1301.1 1647.3,1301.0 1649.6,1302.3 1652.0,1303.4 1654.4,1305.7 1656.7,1303.6 1659.1,1304.8 1661.4,1307.8 1663.8,1306.9 1666.2,1306.9 1668.5,1308.8 1670.9,1308.5 1673.3,1309.2 1675.6,1312.8 1678.0,1311.9 1680.3,1311.4 1682.7,1311.4 1685.1,1311.3 1687.4,1316.1 1689.8,1314.4 1692.1,1314.1 1694.5,1314.2 1696.9,1314.4 1699.2,1318.5 1701.6,1318.6 1704.0,1320.2 1706.3,1318.5 1708.7,1321.8 1711.0,1319.1 1713.4,1319.9 1715.8,1321.0 1718.1,1324.8 1720.5,1323.3 1722.9,1321.8 1725.2,1325.0 1727.6,1323.8 1729.9,1324.0 1732.3,1323.0 1734.7,1324.1 1737.0,1324.3 1739.4,1325.5 1741.7,1325.1 1744.1,1325.5 1746.5,1324.6 1748.8,1326.0 1751.2,1324.5 1753.6,1327.4 1755.9,1321.3 1758.3,1318.3 1760.6,1310.8 1763.0,1308.9 1765.4,1310.2 1767.7,1315.8 1770.1,1325.0 1772.4,1328.6 1774.8,1331.1 1777.2,1331.7 1779.5,1334.8 1781.9,1333.7 1784.3,1334.4 1786.6,1335.8 1789.0,1335.7 1791.3,1338.1 1793.7,1335.0 1796.1,1336.8 1798.4,1335.7 1800.8,1340.0 1803.2,1341.1 1805.5,1340.0 1807.9,1343.3 1810.2,1341.6 1812.6,1343.6 1815.0,1344.0 1817.3,1344.0 1819.7,1345.1 1822.0,1343.5 1824.4,1345.9 1826.8,1349.0 1829.1,1346.8 1831.5,1350.4 1833.9,1349.1 1836.2,1351.3 1838.6,1351.2 1840.9,1348.8 1843.3,1351.5 1845.7,1351.9 1848.0,1352.0 1850.4,1352.0 1852.8,1350.1 1855.1,1353.8 1857.5,1354.3 1859.8,1352.5 1862.2,1355.7 1864.6,1354.5 1866.9,1352.7 1869.3,1354.0 1871.6,1354.2 1874.0,1353.8 1876.4,1353.3 1878.7,1352.1 1881.1,1350.6 1883.5,1348.8 1885.8,1349.2 1888.2,1351.5 1890.5,1352.3 1892.9,1351.3 1895.3,1355.4 1897.6,1354.7 1900.0,1355.7 1902.3,1357.7 1904.7,1358.6 1907.1,1357.8 1909.4,1361.2 1911.8,1360.9 1914.2,1361.1 1916.5,1360.6 1918.9,1362.7 1921.2,1359.7 1923.6,1361.6 1926.0,1361.6 1928.3,1361.7 1930.7,1362.2Z" fill="url(#g5)" stroke="#9a9a9a" stroke-width="7.4" stroke-linejoin="round" stroke-dasharray="0 1417.08 100000"/>
<path d="M1898.7,1447.1L457.0,1447.1L457.0,1419.5 459.4,1416.6 461.8,1417.5 464.2,1417.4 466.6,1415.4 469.0,1416.8 471.4,1414.1 473.8,1413.7 476.2,1413.6 478.6,1409.9 481.1,1411.1 483.5,1406.3 485.9,1406.1 488.3,1402.0 490.7,1398.0 493.1,1396.1 495.5,1394.3 497.9,1390.1 500.3,1386.8 502.7,1383.8 505.1,1379.4 507.5,1373.4 509.9,1367.8 512.3,1365.6 514.7,1357.9 517.1,1351.3 519.5,1345.5 521.9,1340.4 524.3,1330.8 526.7,1326.3 529.1,1316.1 531.5,1306.7 533.9,1302.9 536.3,1291.0 538.7,1281.5 541.1,1271.8 543.5,1262.8 545.9,1251.5 548.3,1241.6 550.7,1227.9 553.1,1215.0 555.5,1203.5 557.9,1190.2 560.3,1175.3 562.7,1159.6 565.2,1143.7 567.6,1127.5 570.0,1110.1 572.4,1094.2 574.8,1077.8 577.2,1054.9 579.6,1035.0 582.0,1019.7 584.4,999.8 586.8,979.8 589.2,960.6 591.6,943.1 594.0,925.1 596.4,910.4 598.8,894.4 601.2,880.0 603.6,868.1 606.0,854.2 608.4,844.6 610.8,835.2 613.2,829.3 615.6,820.9 618.0,818.1 620.4,811.5 622.8,811.3 625.2,805.6 627.6,800.3 630.0,799.3 632.4,796.6 634.8,797.7 637.2,793.1 639.6,794.7 642.0,796.5 644.4,797.7 646.8,800.2 649.3,801.9 651.7,807.1 654.1,813.5 656.5,816.6 658.9,819.5 661.3,825.5 663.7,831.8 666.1,835.4 668.5,840.7 670.9,844.6 673.3,851.7 675.7,854.9 678.1,856.9 680.5,862.1 682.9,865.4 685.3,867.4 687.7,874.5 690.1,878.0 692.5,883.2 694.9,887.5 697.3,890.8 699.7,896.6 702.1,901.5 704.5,900.9 706.9,906.8 709.3,909.1 711.7,914.2 714.1,917.8 716.5,920.4 718.9,923.3 721.3,928.2 723.7,927.0 726.1,931.0 728.5,930.2 730.9,927.4 733.4,930.3 735.8,927.6 738.2,929.1 740.6,926.5 743.0,925.4 745.4,922.8 747.8,922.0 750.2,919.4 752.6,914.8 755.0,913.9 757.4,909.4 759.8,903.6 762.2,901.0 764.6,897.0 767.0,892.5 769.4,886.0 771.8,881.4 774.2,875.4 776.6,870.3 779.0,862.1 781.4,859.4 783.8,855.7 786.2,847.6 788.6,842.4 791.0,837.2 793.4,834.7 795.8,826.7 798.2,824.2 800.6,820.5 803.0,819.2 805.4,813.6 807.8,811.8 810.2,807.8 812.6,808.3 815.0,807.8 817.5,804.8 819.9,805.2 822.3,802.8 824.7,804.3 827.1,802.9 829.5,803.2 831.9,803.4 834.3,804.7 836.7,806.0 839.1,806.3 841.5,808.6 843.9,809.7 846.3,812.6 848.7,817.9 851.1,818.2 853.5,819.8 855.9,824.9 858.3,828.4 860.7,832.4 863.1,837.5 865.5,842.4 867.9,843.7 870.3,847.5 872.7,852.6 875.1,857.7 877.5,863.0 879.9,869.3 882.3,874.9 884.7,881.5 887.1,887.3 889.5,895.2 891.9,900.8 894.3,905.2 896.7,911.9 899.1,919.8 901.5,921.6 904.0,929.3 906.4,928.2 908.8,933.6 911.2,937.4 913.6,942.5 916.0,946.3 918.4,948.4 920.8,951.2 923.2,955.5 925.6,957.7 928.0,960.5 930.4,964.3 932.8,970.2 935.2,975.5 937.6,976.6 940.0,981.2 942.4,983.4 944.8,985.3 947.2,988.5 949.6,993.2 952.0,995.0 954.4,996.9 956.8,1001.4 959.2,1003.5 961.6,1004.9 964.0,1008.2 966.4,1010.9 968.8,1013.1 971.2,1014.1 973.6,1016.7 976.0,1016.7 978.4,1019.9 980.8,1019.3 983.2,1021.2 985.6,1025.8 988.1,1024.4 990.5,1027.7 992.9,1026.8 995.3,1029.2 997.7,1031.2 1000.1,1031.5 1002.5,1034.2 1004.9,1034.2 1007.3,1035.2 1009.7,1036.8 1012.1,1037.1 1014.5,1039.7 1016.9,1038.6 1019.3,1041.6 1021.7,1040.0 1024.1,1040.9 1026.5,1041.3 1028.9,1043.6 1031.3,1039.8 1033.7,1044.6 1036.1,1044.9 1038.5,1046.8 1040.9,1044.9 1043.3,1048.2 1045.7,1047.3 1048.1,1050.8 1050.5,1050.3 1052.9,1052.2 1055.3,1051.8 1057.7,1054.5 1060.1,1056.4 1062.5,1056.1 1064.9,1059.4 1067.3,1060.4 1069.7,1059.6 1072.2,1064.2 1074.6,1062.3 1077.0,1065.1 1079.4,1067.2 1081.8,1067.1 1084.2,1068.1 1086.6,1071.1 1089.0,1072.2 1091.4,1072.7 1093.8,1074.5 1096.2,1077.4 1098.6,1080.2 1101.0,1082.6 1103.4,1084.3 1105.8,1085.0 1108.2,1087.5 1110.6,1090.3 1113.0,1091.4 1115.4,1096.0 1117.8,1098.6 1120.2,1101.1 1122.6,1100.7 1125.0,1108.1 1127.4,1107.7 1129.8,1109.9 1132.2,1112.9 1134.6,1112.5 1137.0,1116.3 1139.4,1119.1 1141.8,1123.5 1144.2,1124.0 1146.6,1127.3 1149.0,1128.9 1151.4,1130.7 1153.8,1133.5 1156.3,1134.0 1158.7,1134.6 1161.1,1137.2 1163.5,1140.0 1165.9,1144.6 1168.3,1142.8 1170.7,1144.9 1173.1,1148.6 1175.5,1151.3 1177.9,1152.5 1180.3,1157.0 1182.7,1158.0 1185.1,1163.4 1187.5,1166.4 1189.9,1168.5 1192.3,1173.5 1194.7,1174.9 1197.1,1177.4 1199.5,1182.8 1201.9,1183.0 1204.3,1187.6 1206.7,1188.9 1209.1,1191.8 1211.5,1194.9 1213.9,1197.0 1216.3,1200.2 1218.7,1200.6 1221.1,1202.1 1223.5,1200.4 1225.9,1202.4 1228.3,1206.6 1230.7,1205.3 1233.1,1207.5 1235.5,1210.0 1237.9,1210.9 1240.4,1212.8 1242.8,1216.8 1245.2,1218.9 1247.6,1220.6 1250.0,1224.1 1252.4,1224.5 1254.8,1226.3 1257.2,1228.3 1259.6,1229.6 1262.0,1229.2 1264.4,1229.6 1266.8,1231.5 1269.2,1234.5 1271.6,1234.3 1274.0,1237.0 1276.4,1238.6 1278.8,1240.1 1281.2,1244.8 1283.6,1245.9 1286.0,1248.3 1288.4,1250.3 1290.8,1248.3 1293.2,1251.0 1295.6,1255.7 1298.0,1254.3 1300.4,1256.8 1302.8,1256.1 1305.2,1258.8 1307.6,1260.6 1310.0,1261.7 1312.4,1262.9 1314.8,1264.9 1317.2,1266.8 1319.6,1268.3 1322.0,1269.0 1324.5,1272.5 1326.9,1272.4 1329.3,1273.8 1331.7,1275.4 1334.1,1275.0 1336.5,1278.4 1338.9,1278.2 1341.3,1279.7 1343.7,1278.9 1346.1,1281.2 1348.5,1281.6 1350.9,1282.3 1353.3,1286.0 1355.7,1284.9 1358.1,1287.8 1360.5,1288.7 1362.9,1290.0 1365.3,1290.4 1367.7,1292.0 1370.1,1292.3 1372.5,1295.7 1374.9,1298.0 1377.3,1299.5 1379.7,1299.5 1382.1,1299.7 1384.5,1302.7 1386.9,1305.2 1389.3,1305.5 1391.7,1306.9 1394.1,1308.4 1396.5,1310.6 1398.9,1314.0 1401.3,1312.7 1403.7,1311.9 1406.1,1314.0 1408.5,1318.0 1411.0,1316.3 1413.4,1319.6 1415.8,1315.8 1418.2,1318.9 1420.6,1321.6 1423.0,1320.1 1425.4,1323.1 1427.8,1322.6 1430.2,1324.5 1432.6,1327.4 1435.0,1326.7 1437.4,1330.7 1439.8,1329.1 1442.2,1332.2 1444.6,1335.1 1447.0,1337.5 1449.4,1334.6 1451.8,1336.0 1454.2,1340.5 1456.6,1337.9 1459.0,1340.7 1461.4,1342.0 1463.8,1342.7 1466.2,1343.7 1468.6,1342.4 1471.0,1344.7 1473.4,1347.9 1475.8,1343.8 1478.2,1346.0 1480.6,1349.2 1483.0,1349.0 1485.4,1350.4 1487.8,1349.9 1490.2,1350.2 1492.6,1351.1 1495.1,1352.9 1497.5,1353.8 1499.9,1352.6 1502.3,1354.5 1504.7,1352.5 1507.1,1357.1 1509.5,1356.1 1511.9,1358.0 1514.3,1360.1 1516.7,1358.6 1519.1,1361.2 1521.5,1363.6 1523.9,1363.9 1526.3,1363.2 1528.7,1366.9 1531.1,1364.3 1533.5,1365.7 1535.9,1367.2 1538.3,1365.4 1540.7,1364.9 1543.1,1366.2 1545.5,1366.5 1547.9,1364.2 1550.3,1364.4 1552.7,1367.3 1555.1,1366.6 1557.5,1366.9 1559.9,1367.8 1562.3,1369.9 1564.7,1368.1 1567.1,1370.3 1569.5,1371.7 1571.9,1371.6 1574.3,1375.5 1576.7,1376.2 1579.2,1377.1 1581.6,1379.1 1584.0,1379.7 1586.4,1379.5 1588.8,1381.2 1591.2,1380.2 1593.6,1383.4 1596.0,1382.7 1598.4,1385.2 1600.8,1384.0 1603.2,1385.2 1605.6,1383.1 1608.0,1384.3 1610.4,1385.0 1612.8,1383.8 1615.2,1384.7 1617.6,1386.1 1620.0,1388.3 1622.4,1389.6 1624.8,1388.3 1627.2,1389.2 1629.6,1390.0 1632.0,1390.1 1634.4,1392.3 1636.8,1388.9 1639.2,1392.8 1641.6,1392.9 1644.0,1392.1 1646.4,1395.7 1648.8,1393.5 1651.2,1394.5 1653.6,1397.1 1656.0,1399.1 1658.4,1399.5 1660.8,1402.3 1663.3,1399.2 1665.7,1401.7 1668.1,1403.4 1670.5,1404.2 1672.9,1402.7 1675.3,1401.8 1677.7,1405.3 1680.1,1404.4 1682.5,1405.7 1684.9,1402.5 1687.3,1402.9 1689.7,1400.0 1692.1,1402.7 1694.5,1402.8 1696.9,1403.0 1699.3,1401.0 1701.7,1404.1 1704.1,1401.2 1706.5,1402.1 1708.9,1403.4 1711.3,1404.4 1713.7,1402.4 1716.1,1401.8 1718.5,1404.3 1720.9,1401.0 1723.3,1394.9 1725.7,1392.2 1728.1,1388.7 1730.5,1392.5 1732.9,1398.0 1735.3,1405.0 1737.7,1410.1 1740.1,1413.1 1742.5,1415.6 1744.9,1416.4 1747.4,1417.0 1749.8,1416.0 1752.2,1418.4 1754.6,1419.7 1757.0,1418.7 1759.4,1419.7 1761.8,1422.2 1764.2,1422.8 1766.6,1421.9 1769.0,1422.9 1771.4,1425.0 1773.8,1424.2 1776.2,1425.0 1778.6,1423.9 1781.0,1426.8 1783.4,1424.9 1785.8,1425.7 1788.2,1427.7 1790.6,1425.3 1793.0,1425.6 1795.4,1428.6 1797.8,1424.7 1800.2,1428.8 1802.6,1428.8 1805.0,1428.4 1807.4,1427.4 1809.8,1428.0 1812.2,1429.3 1814.6,1427.9 1817.0,1429.5 1819.4,1428.7 1821.8,1427.3 1824.2,1431.0 1826.6,1434.9 1829.0,1432.6 1831.5,1433.8 1833.9,1432.8 1836.3,1433.2 1838.7,1435.4 1841.1,1435.9 1843.5,1435.4 1845.9,1435.9 1848.3,1439.7 1850.7,1435.8 1853.1,1437.8 1855.5,1438.5 1857.9,1438.8 1860.3,1441.0 1862.7,1440.3 1865.1,1439.2 1867.5,1439.4 1869.9,1440.2 1872.3,1440.9 1874.7,1441.3 1877.1,1438.2 1879.5,1438.7 1881.9,1439.4 1884.3,1441.3 1886.7,1439.3 1889.1,1440.5 1891.5,1436.4 1893.9,1437.7 1896.3,1439.0 1898.7,1438.4Z" fill="url(#g4)" stroke="#625f9c" stroke-width="7.4" stroke-linejoin="round" stroke-dasharray="0 1441.71 100000"/>
<path d="M1865.6,1528.2L398.4,1528.2L398.4,1496.1 400.9,1497.7 403.3,1500.7 405.8,1498.7 408.2,1499.5 410.7,1499.3 413.1,1495.9 415.6,1491.8 418.0,1491.6 420.4,1492.1 422.9,1491.0 425.3,1488.3 427.8,1485.2 430.2,1486.2 432.7,1484.2 435.1,1476.5 437.6,1475.6 440.0,1470.7 442.5,1469.0 444.9,1463.6 447.3,1462.4 449.8,1456.6 452.2,1450.7 454.7,1446.5 457.1,1443.2 459.6,1435.8 462.0,1431.9 464.5,1426.5 466.9,1417.2 469.4,1408.9 471.8,1402.0 474.2,1396.8 476.7,1385.6 479.1,1377.1 481.6,1369.4 484.0,1362.5 486.5,1347.8 488.9,1337.5 491.4,1327.0 493.8,1318.5 496.3,1306.2 498.7,1290.2 501.1,1277.0 503.6,1263.3 506.0,1249.3 508.5,1232.7 510.9,1217.3 513.4,1199.6 515.8,1182.2 518.3,1161.9 520.7,1143.6 523.2,1122.1 525.6,1102.7 528.0,1085.0 530.5,1061.9 532.9,1046.8 535.4,1026.1 537.8,1007.4 540.3,990.2 542.7,978.9 545.2,959.7 547.6,945.7 550.0,932.9 552.5,926.5 554.9,914.4 557.4,904.7 559.8,897.5 562.3,888.4 564.7,885.4 567.2,878.1 569.6,875.0 572.1,874.6 574.5,871.6 576.9,869.3 579.4,867.6 581.8,866.1 584.3,868.0 586.7,867.4 589.2,872.1 591.6,875.9 594.1,874.4 596.5,875.9 599.0,879.8 601.4,883.9 603.8,885.5 606.3,887.2 608.7,893.8 611.2,898.7 613.6,903.1 616.1,903.6 618.5,910.8 621.0,914.4 623.4,918.2 625.9,923.1 628.3,930.5 630.7,932.8 633.2,937.7 635.6,942.9 638.1,946.8 640.5,953.4 643.0,956.9 645.4,961.6 647.9,963.7 650.3,969.2 652.8,971.2 655.2,976.5 657.6,978.3 660.1,981.5 662.5,983.9 665.0,985.9 667.4,988.3 669.9,990.0 672.3,993.6 674.8,990.1 677.2,992.7 679.7,992.1 682.1,992.4 684.5,989.1 687.0,990.4 689.4,987.0 691.9,984.2 694.3,981.4 696.8,979.5 699.2,977.6 701.7,977.0 704.1,970.4 706.6,966.9 709.0,963.6 711.4,959.5 713.9,956.0 716.3,952.0 718.8,944.7 721.2,939.1 723.7,936.6 726.1,928.3 728.6,923.4 731.0,916.9 733.4,912.1 735.9,905.7 738.3,900.7 740.8,896.2 743.2,894.8 745.7,887.9 748.1,885.3 750.6,883.5 753.0,878.0 755.5,878.0 757.9,872.5 760.3,869.3 762.8,870.3 765.2,866.7 767.7,865.9 770.1,864.5 772.6,866.3 775.0,863.1 777.5,863.5 779.9,862.7 782.4,864.1 784.8,863.3 787.2,865.4 789.7,866.2 792.1,867.0 794.6,870.6 797.0,872.0 799.5,876.0 801.9,879.0 804.4,884.3 806.8,886.7 809.3,890.6 811.7,896.9 814.1,900.2 816.6,905.2 819.0,911.6 821.5,913.9 823.9,917.0 826.4,923.8 828.8,930.1 831.3,932.3 833.7,938.5 836.2,940.5 838.6,948.6 841.0,954.2 843.5,960.8 845.9,965.4 848.4,972.1 850.8,978.1 853.3,982.3 855.7,988.5 858.2,990.7 860.6,998.7 863.1,1001.8 865.5,1006.9 867.9,1012.0 870.4,1012.0 872.8,1020.9 875.3,1020.1 877.7,1027.7 880.2,1029.7 882.6,1030.7 885.1,1040.5 887.5,1043.5 890.0,1044.1 892.4,1049.7 894.8,1054.6 897.3,1057.8 899.7,1062.6 902.2,1064.4 904.6,1065.4 907.1,1070.4 909.5,1071.9 912.0,1072.5 914.4,1073.3 916.8,1078.4 919.3,1079.0 921.7,1081.9 924.2,1083.8 926.6,1085.3 929.1,1087.4 931.5,1090.6 934.0,1092.5 936.4,1092.3 938.9,1092.4 941.3,1092.2 943.7,1095.4 946.2,1095.8 948.6,1095.6 951.1,1096.2 953.5,1098.0 956.0,1098.6 958.4,1096.7 960.9,1100.3 963.3,1101.2 965.8,1103.5 968.2,1101.5 970.6,1103.3 973.1,1101.2 975.5,1105.0 978.0,1104.4 980.4,1105.1 982.9,1104.9 985.3,1109.6 987.8,1106.4 990.2,1109.0 992.7,1109.6 995.1,1110.2 997.5,1110.5 1000.0,1110.6 1002.4,1113.4 1004.9,1109.7 1007.3,1110.4 1009.8,1111.8 1012.2,1110.8 1014.7,1108.0 1017.1,1110.9 1019.6,1112.6 1022.0,1110.8 1024.4,1115.3 1026.9,1115.9 1029.3,1118.2 1031.8,1119.6 1034.2,1120.4 1036.7,1122.6 1039.1,1126.4 1041.6,1127.6 1044.0,1129.3 1046.5,1131.8 1048.9,1133.1 1051.3,1135.7 1053.8,1137.4 1056.2,1138.1 1058.7,1141.2 1061.1,1141.0 1063.6,1143.6 1066.0,1146.3 1068.5,1147.7 1070.9,1149.4 1073.4,1151.0 1075.8,1152.6 1078.2,1155.1 1080.7,1158.1 1083.1,1157.3 1085.6,1160.1 1088.0,1163.4 1090.5,1164.5 1092.9,1167.6 1095.4,1170.6 1097.8,1172.3 1100.3,1171.1 1102.7,1175.4 1105.1,1177.4 1107.6,1181.3 1110.0,1182.0 1112.5,1181.9 1114.9,1186.3 1117.4,1187.6 1119.8,1189.6 1122.3,1192.7 1124.7,1193.8 1127.1,1198.1 1129.6,1200.3 1132.0,1204.5 1134.5,1203.1 1136.9,1209.2 1139.4,1212.6 1141.8,1214.2 1144.3,1219.9 1146.7,1222.7 1149.2,1227.1 1151.6,1229.4 1154.0,1233.3 1156.5,1235.4 1158.9,1239.5 1161.4,1243.2 1163.8,1245.7 1166.3,1248.2 1168.7,1251.2 1171.2,1251.6 1173.6,1254.1 1176.1,1256.7 1178.5,1260.3 1180.9,1260.0 1183.4,1264.2 1185.8,1264.1 1188.3,1266.2 1190.7,1269.0 1193.2,1271.3 1195.6,1273.1 1198.1,1271.5 1200.5,1276.5 1203.0,1278.4 1205.4,1278.8 1207.8,1281.4 1210.3,1282.4 1212.7,1287.2 1215.2,1288.9 1217.6,1284.9 1220.1,1291.1 1222.5,1293.2 1225.0,1294.3 1227.4,1295.0 1229.9,1299.5 1232.3,1299.3 1234.7,1301.3 1237.2,1301.8 1239.6,1303.8 1242.1,1305.9 1244.5,1307.2 1247.0,1310.0 1249.4,1306.2 1251.9,1310.0 1254.3,1309.3 1256.8,1307.5 1259.2,1311.3 1261.6,1311.4 1264.1,1314.2 1266.5,1315.1 1269.0,1318.3 1271.4,1321.4 1273.9,1321.6 1276.3,1326.2 1278.8,1329.9 1281.2,1330.8 1283.7,1331.7 1286.1,1335.5 1288.5,1334.6 1291.0,1335.9 1293.4,1335.3 1295.9,1339.9 1298.3,1339.2 1300.8,1343.1 1303.2,1342.4 1305.7,1342.7 1308.1,1343.3 1310.5,1345.0 1313.0,1346.2 1315.4,1348.1 1317.9,1349.2 1320.3,1349.6 1322.8,1350.7 1325.2,1352.1 1327.7,1353.1 1330.1,1354.3 1332.6,1359.7 1335.0,1359.6 1337.4,1360.8 1339.9,1363.1 1342.3,1362.8 1344.8,1365.2 1347.2,1368.5 1349.7,1370.4 1352.1,1371.2 1354.6,1375.4 1357.0,1377.5 1359.5,1377.9 1361.9,1380.4 1364.3,1381.0 1366.8,1384.0 1369.2,1385.3 1371.7,1388.6 1374.1,1390.7 1376.6,1390.8 1379.0,1395.3 1381.5,1392.1 1383.9,1391.8 1386.4,1393.1 1388.8,1393.6 1391.2,1392.1 1393.7,1393.8 1396.1,1392.9 1398.6,1392.1 1401.0,1394.9 1403.5,1395.8 1405.9,1397.6 1408.4,1399.4 1410.8,1400.9 1413.3,1402.7 1415.7,1402.9 1418.1,1407.9 1420.6,1407.5 1423.0,1407.5 1425.5,1410.4 1427.9,1410.2 1430.4,1411.4 1432.8,1410.1 1435.3,1409.6 1437.7,1408.8 1440.2,1409.9 1442.6,1411.4 1445.0,1410.2 1447.5,1410.0 1449.9,1409.4 1452.4,1414.7 1454.8,1412.5 1457.3,1416.7 1459.7,1415.1 1462.2,1417.4 1464.6,1419.6 1467.1,1421.6 1469.5,1424.9 1471.9,1428.9 1474.4,1430.4 1476.8,1431.9 1479.3,1436.0 1481.7,1437.8 1484.2,1441.0 1486.6,1439.1 1489.1,1441.8 1491.5,1442.3 1493.9,1441.8 1496.4,1441.9 1498.8,1440.5 1501.3,1437.9 1503.7,1437.9 1506.2,1436.5 1508.6,1436.0 1511.1,1438.6 1513.5,1436.6 1516.0,1435.1 1518.4,1434.1 1520.8,1439.0 1523.3,1439.4 1525.7,1437.6 1528.2,1439.4 1530.6,1441.3 1533.1,1440.7 1535.5,1443.5 1538.0,1446.8 1540.4,1445.4 1542.9,1446.7 1545.3,1447.5 1547.7,1448.6 1550.2,1451.0 1552.6,1452.9 1555.1,1454.7 1557.5,1457.1 1560.0,1456.5 1562.4,1455.4 1564.9,1456.4 1567.3,1454.9 1569.8,1457.9 1572.2,1459.9 1574.6,1456.5 1577.1,1456.2 1579.5,1459.1 1582.0,1460.1 1584.4,1458.5 1586.9,1458.8 1589.3,1462.4 1591.8,1462.9 1594.2,1465.0 1596.7,1467.0 1599.1,1468.5 1601.5,1467.8 1604.0,1469.4 1606.4,1470.6 1608.9,1473.7 1611.3,1468.7 1613.8,1472.6 1616.2,1472.1 1618.7,1473.8 1621.1,1472.3 1623.6,1475.1 1626.0,1473.5 1628.4,1474.3 1630.9,1473.3 1633.3,1476.3 1635.8,1476.2 1638.2,1476.2 1640.7,1473.7 1643.1,1478.7 1645.6,1476.9 1648.0,1478.6 1650.5,1477.9 1652.9,1478.0 1655.3,1479.2 1657.8,1479.6 1660.2,1480.1 1662.7,1481.7 1665.1,1481.8 1667.6,1484.2 1670.0,1483.0 1672.5,1484.0 1674.9,1483.8 1677.3,1483.0 1679.8,1483.6 1682.2,1482.8 1684.7,1479.2 1687.1,1477.9 1689.6,1467.2 1692.0,1463.9 1694.5,1466.8 1696.9,1476.2 1699.4,1481.9 1701.8,1486.5 1704.2,1489.5 1706.7,1492.4 1709.1,1492.5 1711.6,1493.1 1714.0,1492.8 1716.5,1494.4 1718.9,1496.6 1721.4,1497.4 1723.8,1498.1 1726.3,1498.7 1728.7,1500.4 1731.1,1499.5 1733.6,1502.2 1736.0,1503.1 1738.5,1502.4 1740.9,1504.4 1743.4,1504.6 1745.8,1507.5 1748.3,1504.3 1750.7,1505.7 1753.2,1506.2 1755.6,1505.7 1758.0,1506.3 1760.5,1507.8 1762.9,1504.6 1765.4,1508.0 1767.8,1506.6 1770.3,1505.9 1772.7,1509.5 1775.2,1509.0 1777.6,1510.6 1780.1,1508.7 1782.5,1511.0 1784.9,1512.4 1787.4,1509.7 1789.8,1510.6 1792.3,1513.3 1794.7,1510.9 1797.2,1512.6 1799.6,1509.7 1802.1,1511.4 1804.5,1514.8 1807.0,1515.0 1809.4,1516.4 1811.8,1515.8 1814.3,1516.7 1816.7,1516.6 1819.2,1518.3 1821.6,1521.1 1824.1,1521.1 1826.5,1519.0 1829.0,1520.0 1831.4,1522.3 1833.9,1522.6 1836.3,1522.7 1838.7,1522.2 1841.2,1523.8 1843.6,1519.7 1846.1,1520.7 1848.5,1518.7 1851.0,1521.4 1853.4,1517.5 1855.9,1516.0 1858.3,1520.8 1860.7,1516.4 1863.2,1518.2 1865.6,1520.0Z" fill="url(#g3)" stroke="#4cbf75" stroke-width="7.4" stroke-linejoin="round" stroke-dasharray="0 1467.20 100000"/>
<path d="M1831.4,1612.2L337.7,1612.2L337.7,1585.7 340.2,1582.0 342.7,1582.8 345.2,1581.9 347.7,1582.4 350.2,1582.2 352.7,1579.1 355.2,1580.3 357.7,1576.6 360.1,1578.5 362.6,1575.9 365.1,1574.8 367.6,1569.1 370.1,1570.9 372.6,1567.6 375.1,1562.6 377.6,1560.2 380.1,1554.5 382.6,1551.6 385.0,1549.6 387.5,1545.6 390.0,1544.7 392.5,1539.0 395.0,1533.5 397.5,1528.1 400.0,1524.2 402.5,1517.7 405.0,1511.3 407.4,1502.0 409.9,1495.7 412.4,1489.1 414.9,1481.0 417.4,1471.7 419.9,1464.1 422.4,1454.3 424.9,1446.5 427.4,1433.4 429.9,1422.6 432.3,1412.5 434.8,1401.1 437.3,1389.4 439.8,1374.8 442.3,1364.0 444.8,1352.0 447.3,1336.8 449.8,1318.5 452.3,1301.2 454.7,1283.6 457.2,1264.6 459.7,1245.8 462.2,1227.6 464.7,1205.8 467.2,1186.3 469.7,1163.5 472.2,1144.1 474.7,1122.0 477.1,1102.9 479.6,1086.6 482.1,1065.4 484.6,1048.8 487.1,1036.2 489.6,1019.9 492.1,1006.1 494.6,995.5 497.1,983.4 499.6,974.8 502.0,965.4 504.5,959.4 507.0,953.9 509.5,948.0 512.0,943.6 514.5,941.1 517.0,939.6 519.5,938.4 522.0,936.9 524.4,936.8 526.9,935.9 529.4,936.6 531.9,938.0 534.4,939.3 536.9,940.9 539.4,941.2 541.9,944.1 544.4,949.3 546.9,951.3 549.3,956.0 551.8,959.8 554.3,964.6 556.8,970.0 559.3,976.1 561.8,982.9 564.3,984.7 566.8,988.8 569.3,996.8 571.7,1000.1 574.2,1006.3 576.7,1010.4 579.2,1016.6 581.7,1020.7 584.2,1025.2 586.7,1032.8 589.2,1033.8 591.7,1038.6 594.1,1045.9 596.6,1045.9 599.1,1050.6 601.6,1053.9 604.1,1057.0 606.6,1061.0 609.1,1064.4 611.6,1065.7 614.1,1067.3 616.6,1064.9 619.0,1066.1 621.5,1069.4 624.0,1069.2 626.5,1067.7 629.0,1066.5 631.5,1066.9 634.0,1065.7 636.5,1060.0 639.0,1058.9 641.4,1060.0 643.9,1057.5 646.4,1053.3 648.9,1048.8 651.4,1044.9 653.9,1042.5 656.4,1040.2 658.9,1033.5 661.4,1028.3 663.9,1024.0 666.3,1019.1 668.8,1011.6 671.3,1006.2 673.8,1001.2 676.3,993.2 678.8,989.0 681.3,980.4 683.8,975.8 686.3,973.1 688.7,967.3 691.2,962.1 693.7,963.2 696.2,957.4 698.7,952.2 701.2,953.9 703.7,949.7 706.2,949.3 708.7,945.6 711.1,947.0 713.6,944.5 716.1,941.9 718.6,940.2 721.1,939.3 723.6,939.1 726.1,938.3 728.6,939.4 731.1,940.3 733.6,943.9 736.0,944.3 738.5,941.7 741.0,945.0 743.5,949.1 746.0,951.6 748.5,953.8 751.0,958.3 753.5,957.8 756.0,963.9 758.4,966.6 760.9,967.1 763.4,976.7 765.9,977.8 768.4,985.4 770.9,989.0 773.4,993.6 775.9,999.5 778.4,1004.4 780.9,1011.2 783.3,1015.9 785.8,1023.0 788.3,1027.5 790.8,1034.5 793.3,1037.4 795.8,1045.7 798.3,1048.6 800.8,1055.6 803.3,1060.8 805.7,1064.0 808.2,1070.6 810.7,1078.4 813.2,1080.4 815.7,1090.3 818.2,1091.5 820.7,1098.1 823.2,1105.1 825.7,1108.6 828.1,1114.4 830.6,1116.1 833.1,1123.7 835.6,1124.3 838.1,1128.4 840.6,1134.1 843.1,1137.3 845.6,1137.1 848.1,1141.9 850.6,1144.3 853.0,1147.7 855.5,1152.0 858.0,1153.8 860.5,1157.6 863.0,1161.5 865.5,1162.9 868.0,1163.0 870.5,1166.2 873.0,1171.2 875.4,1173.5 877.9,1175.4 880.4,1176.4 882.9,1179.8 885.4,1182.7 887.9,1184.2 890.4,1183.6 892.9,1183.0 895.4,1188.6 897.9,1191.8 900.3,1189.0 902.8,1191.3 905.3,1192.0 907.8,1191.5 910.3,1194.1 912.8,1197.0 915.3,1198.8 917.8,1197.1 920.3,1199.6 922.7,1198.6 925.2,1201.6 927.7,1201.3 930.2,1203.7 932.7,1203.2 935.2,1204.2 937.7,1203.7 940.2,1203.7 942.7,1206.7 945.1,1208.6 947.6,1205.7 950.1,1208.9 952.6,1209.6 955.1,1210.6 957.6,1210.6 960.1,1212.3 962.6,1213.9 965.1,1215.0 967.6,1218.5 970.0,1219.4 972.5,1220.1 975.0,1221.3 977.5,1222.9 980.0,1224.2 982.5,1226.2 985.0,1228.7 987.5,1232.3 990.0,1231.1 992.4,1233.7 994.9,1238.2 997.4,1239.0 999.9,1241.7 1002.4,1244.8 1004.9,1249.8 1007.4,1251.2 1009.9,1252.3 1012.4,1250.9 1014.8,1255.7 1017.3,1256.3 1019.8,1258.5 1022.3,1258.8 1024.8,1258.8 1027.3,1263.4 1029.8,1265.7 1032.3,1262.4 1034.8,1264.9 1037.3,1267.5 1039.7,1267.4 1042.2,1269.6 1044.7,1276.4 1047.2,1276.7 1049.7,1278.2 1052.2,1284.1 1054.7,1287.3 1057.2,1289.2 1059.7,1294.2 1062.1,1298.6 1064.6,1300.6 1067.1,1303.8 1069.6,1303.4 1072.1,1308.7 1074.6,1307.3 1077.1,1313.4 1079.6,1313.9 1082.1,1318.9 1084.6,1320.4 1087.0,1321.7 1089.5,1324.6 1092.0,1327.4 1094.5,1332.2 1097.0,1334.7 1099.5,1337.3 1102.0,1339.6 1104.5,1343.7 1107.0,1344.3 1109.4,1348.1 1111.9,1349.7 1114.4,1353.3 1116.9,1355.8 1119.4,1360.5 1121.9,1362.8 1124.4,1366.7 1126.9,1367.9 1129.4,1370.2 1131.8,1371.1 1134.3,1376.1 1136.8,1372.0 1139.3,1378.5 1141.8,1378.3 1144.3,1380.2 1146.8,1386.6 1149.3,1385.0 1151.8,1384.0 1154.3,1390.6 1156.7,1387.6 1159.2,1391.2 1161.7,1391.8 1164.2,1392.2 1166.7,1396.4 1169.2,1394.9 1171.7,1397.5 1174.2,1399.2 1176.7,1398.9 1179.1,1396.8 1181.6,1402.9 1184.1,1404.5 1186.6,1407.3 1189.1,1410.0 1191.6,1410.4 1194.1,1410.2 1196.6,1413.4 1199.1,1413.5 1201.6,1416.0 1204.0,1413.2 1206.5,1419.8 1209.0,1417.8 1211.5,1419.1 1214.0,1421.1 1216.5,1424.9 1219.0,1427.2 1221.5,1428.4 1224.0,1430.5 1226.4,1434.7 1228.9,1436.7 1231.4,1436.4 1233.9,1437.3 1236.4,1440.9 1238.9,1442.2 1241.4,1443.2 1243.9,1439.8 1246.4,1443.4 1248.8,1445.1 1251.3,1444.7 1253.8,1444.0 1256.3,1446.8 1258.8,1451.5 1261.3,1451.0 1263.8,1452.8 1266.3,1454.1 1268.8,1456.7 1271.3,1457.1 1273.7,1459.5 1276.2,1459.1 1278.7,1461.0 1281.2,1464.5 1283.7,1466.4 1286.2,1466.2 1288.7,1466.1 1291.2,1467.7 1293.7,1469.8 1296.1,1475.5 1298.6,1472.9 1301.1,1474.3 1303.6,1474.8 1306.1,1477.1 1308.6,1477.0 1311.1,1478.3 1313.6,1474.6 1316.1,1478.4 1318.6,1480.6 1321.0,1481.5 1323.5,1482.7 1326.0,1483.5 1328.5,1485.7 1331.0,1486.6 1333.5,1486.8 1336.0,1488.7 1338.5,1491.1 1341.0,1491.4 1343.4,1494.6 1345.9,1497.8 1348.4,1500.4 1350.9,1500.4 1353.4,1500.8 1355.9,1501.2 1358.4,1501.2 1360.9,1504.1 1363.4,1505.0 1365.8,1503.3 1368.3,1503.3 1370.8,1506.0 1373.3,1505.5 1375.8,1504.7 1378.3,1506.9 1380.8,1508.1 1383.3,1511.7 1385.8,1507.7 1388.3,1509.4 1390.7,1511.0 1393.2,1512.7 1395.7,1514.8 1398.2,1514.5 1400.7,1516.0 1403.2,1515.9 1405.7,1520.8 1408.2,1518.9 1410.7,1522.5 1413.1,1522.5 1415.6,1526.9 1418.1,1526.3 1420.6,1526.2 1423.1,1528.7 1425.6,1531.6 1428.1,1530.7 1430.6,1530.0 1433.1,1533.1 1435.6,1533.5 1438.0,1531.5 1440.5,1533.5 1443.0,1531.8 1445.5,1534.8 1448.0,1536.4 1450.5,1535.8 1453.0,1533.6 1455.5,1537.7 1458.0,1537.3 1460.4,1537.5 1462.9,1539.4 1465.4,1536.6 1467.9,1537.7 1470.4,1537.1 1472.9,1539.8 1475.4,1539.9 1477.9,1541.5 1480.4,1538.5 1482.8,1539.3 1485.3,1539.0 1487.8,1539.1 1490.3,1542.7 1492.8,1543.8 1495.3,1543.9 1497.8,1543.4 1500.3,1547.5 1502.8,1546.3 1505.3,1548.3 1507.7,1549.1 1510.2,1548.1 1512.7,1550.9 1515.2,1551.9 1517.7,1550.1 1520.2,1551.6 1522.7,1552.4 1525.2,1552.7 1527.7,1552.4 1530.1,1554.0 1532.6,1553.0 1535.1,1553.9 1537.6,1553.0 1540.1,1553.8 1542.6,1555.0 1545.1,1557.1 1547.6,1557.5 1550.1,1559.4 1552.6,1555.7 1555.0,1561.1 1557.5,1561.2 1560.0,1561.4 1562.5,1566.2 1565.0,1566.5 1567.5,1566.6 1570.0,1567.9 1572.5,1568.5 1575.0,1567.6 1577.4,1565.1 1579.9,1565.8 1582.4,1566.9 1584.9,1567.2 1587.4,1570.0 1589.9,1567.4 1592.4,1568.4 1594.9,1571.1 1597.4,1570.0 1599.8,1571.0 1602.3,1571.8 1604.8,1572.8 1607.3,1572.6 1609.8,1573.2 1612.3,1571.6 1614.8,1572.0 1617.3,1572.5 1619.8,1573.6 1622.3,1574.3 1624.7,1571.4 1627.2,1577.2 1629.7,1573.3 1632.2,1574.7 1634.7,1575.3 1637.2,1576.3 1639.7,1575.9 1642.2,1577.0 1644.7,1575.9 1647.1,1570.1 1649.6,1564.2 1652.1,1551.1 1654.6,1545.2 1657.1,1554.6 1659.6,1561.9 1662.1,1569.5 1664.6,1576.2 1667.1,1579.6 1669.6,1580.7 1672.0,1581.2 1674.5,1581.9 1677.0,1581.4 1679.5,1584.5 1682.0,1584.1 1684.5,1588.1 1687.0,1586.7 1689.5,1588.7 1692.0,1585.6 1694.4,1584.8 1696.9,1587.6 1699.4,1590.5 1701.9,1589.3 1704.4,1589.6 1706.9,1589.8 1709.4,1589.2 1711.9,1589.9 1714.4,1595.4 1716.8,1590.5 1719.3,1593.5 1721.8,1594.1 1724.3,1591.8 1726.8,1594.6 1729.3,1596.5 1731.8,1596.9 1734.3,1595.5 1736.8,1594.8 1739.3,1594.4 1741.7,1597.1 1744.2,1597.9 1746.7,1595.2 1749.2,1598.2 1751.7,1595.7 1754.2,1597.4 1756.7,1597.4 1759.2,1597.9 1761.7,1597.0 1764.1,1597.8 1766.6,1597.7 1769.1,1596.5 1771.6,1596.7 1774.1,1595.0 1776.6,1595.1 1779.1,1595.6 1781.6,1595.9 1784.1,1596.7 1786.6,1595.0 1789.0,1598.7 1791.5,1600.9 1794.0,1601.9 1796.5,1601.9 1799.0,1604.2 1801.5,1605.1 1804.0,1605.9 1806.5,1606.0 1809.0,1606.1 1811.4,1606.4 1813.9,1609.5 1816.4,1608.9 1818.9,1611.1 1821.4,1606.5 1823.9,1606.1 1826.4,1605.9 1828.9,1607.5 1831.4,1606.1Z" fill="url(#g2)" stroke="#f4b93a" stroke-width="7.4" stroke-linejoin="round" stroke-dasharray="0 1493.61 100000"/>
<path d="M1795.8,1699.2L274.8,1699.2L274.8,1671.1 277.4,1671.0 279.9,1672.6 282.4,1671.0 285.0,1670.1 287.5,1667.1 290.0,1665.1 292.6,1667.0 295.1,1664.5 297.6,1663.2 300.2,1663.1 302.7,1662.6 305.2,1659.3 307.8,1658.0 310.3,1654.1 312.9,1651.2 315.4,1648.3 317.9,1645.2 320.5,1641.0 323.0,1639.3 325.5,1633.0 328.1,1632.4 330.6,1625.6 333.1,1620.5 335.7,1617.0 338.2,1612.7 340.7,1603.8 343.3,1599.3 345.8,1590.6 348.3,1583.4 350.9,1576.8 353.4,1568.6 355.9,1558.5 358.5,1550.2 361.0,1542.5 363.6,1531.1 366.1,1520.3 368.6,1510.3 371.2,1499.6 373.7,1489.0 376.2,1477.5 378.8,1466.6 381.3,1454.6 383.8,1437.5 386.4,1425.3 388.9,1408.2 391.4,1393.5 394.0,1372.7 396.5,1354.2 399.0,1328.1 401.6,1311.8 404.1,1289.3 406.6,1264.0 409.2,1241.2 411.7,1223.6 414.3,1199.0 416.8,1177.6 419.3,1161.1 421.9,1140.2 424.4,1124.8 426.9,1109.6 429.5,1094.1 432.0,1080.9 434.5,1070.1 437.1,1054.3 439.6,1048.6 442.1,1040.7 444.7,1031.5 447.2,1026.9 449.7,1020.2 452.3,1018.6 454.8,1014.9 457.3,1013.2 459.9,1011.9 462.4,1011.8 465.0,1011.8 467.5,1010.0 470.0,1014.4 472.6,1015.9 475.1,1017.7 477.6,1019.0 480.2,1022.2 482.7,1024.9 485.2,1031.8 487.8,1033.7 490.3,1038.8 492.8,1043.6 495.4,1047.8 497.9,1055.9 500.4,1058.1 503.0,1063.8 505.5,1071.5 508.0,1075.2 510.6,1078.4 513.1,1086.2 515.7,1089.8 518.2,1095.5 520.7,1100.6 523.3,1104.9 525.8,1108.2 528.3,1109.8 530.9,1114.4 533.4,1120.4 535.9,1122.0 538.5,1127.3 541.0,1131.7 543.5,1133.6 546.1,1138.5 548.6,1142.2 551.1,1140.5 553.7,1146.6 556.2,1144.5 558.7,1148.1 561.3,1146.3 563.8,1146.3 566.3,1146.0 568.9,1147.3 571.4,1143.1 574.0,1141.3 576.5,1140.5 579.0,1137.0 581.6,1132.9 584.1,1132.4 586.6,1127.9 589.2,1126.5 591.7,1120.7 594.2,1116.5 596.8,1109.9 599.3,1107.7 601.8,1103.9 604.4,1098.0 606.9,1096.6 609.4,1089.0 612.0,1086.5 614.5,1081.9 617.0,1075.1 619.6,1071.9 622.1,1066.2 624.7,1065.9 627.2,1059.6 629.7,1056.8 632.3,1052.7 634.8,1051.2 637.3,1043.8 639.9,1041.4 642.4,1040.0 644.9,1037.8 647.5,1034.9 650.0,1029.8 652.5,1030.3 655.1,1029.3 657.6,1027.3 660.1,1027.3 662.7,1026.7 665.2,1025.9 667.7,1026.7 670.3,1026.5 672.8,1030.0 675.4,1029.3 677.9,1031.1 680.4,1032.0 683.0,1034.0 685.5,1036.8 688.0,1038.7 690.6,1039.6 693.1,1044.5 695.6,1048.6 698.2,1049.4 700.7,1052.5 703.2,1058.0 705.8,1061.4 708.3,1066.8 710.8,1070.3 713.4,1072.9 715.9,1078.0 718.4,1083.7 721.0,1089.3 723.5,1096.5 726.1,1099.3 728.6,1104.9 731.1,1109.9 733.7,1114.7 736.2,1123.0 738.7,1128.4 741.3,1137.4 743.8,1140.4 746.3,1146.9 748.9,1152.1 751.4,1158.7 753.9,1164.5 756.5,1168.2 759.0,1175.9 761.5,1178.7 764.1,1182.5 766.6,1189.2 769.1,1193.8 771.7,1195.7 774.2,1200.1 776.8,1203.5 779.3,1207.5 781.8,1213.4 784.4,1216.0 786.9,1219.0 789.4,1225.2 792.0,1229.3 794.5,1234.8 797.0,1236.5 799.6,1239.5 802.1,1248.6 804.6,1250.4 807.2,1254.8 809.7,1261.3 812.2,1265.2 814.8,1270.0 817.3,1273.0 819.8,1274.7 822.4,1276.6 824.9,1279.6 827.5,1280.5 830.0,1283.0 832.5,1286.4 835.1,1284.2 837.6,1285.9 840.1,1289.7 842.7,1287.6 845.2,1290.6 847.7,1292.3 850.3,1291.1 852.8,1298.4 855.3,1298.4 857.9,1296.5 860.4,1298.9 862.9,1300.8 865.5,1298.4 868.0,1300.6 870.5,1303.8 873.1,1303.7 875.6,1302.5 878.2,1302.2 880.7,1308.3 883.2,1306.4 885.8,1308.5 888.3,1311.6 890.8,1310.8 893.4,1314.0 895.9,1313.8 898.4,1311.9 901.0,1314.4 903.5,1314.8 906.0,1315.6 908.6,1316.5 911.1,1316.0 913.6,1319.3 916.2,1318.6 918.7,1317.5 921.2,1320.2 923.8,1320.7 926.3,1319.6 928.9,1320.6 931.4,1325.4 933.9,1327.9 936.5,1328.6 939.0,1331.8 941.5,1336.1 944.1,1337.4 946.6,1340.4 949.1,1343.8 951.7,1342.6 954.2,1347.2 956.7,1350.2 959.3,1352.0 961.8,1351.4 964.3,1355.9 966.9,1360.4 969.4,1360.9 971.9,1363.3 974.5,1366.3 977.0,1367.5 979.6,1369.9 982.1,1373.0 984.6,1376.5 987.2,1377.8 989.7,1384.3 992.2,1384.3 994.8,1388.7 997.3,1391.6 999.8,1398.3 1002.4,1395.6 1004.9,1402.7 1007.4,1403.8 1010.0,1403.6 1012.5,1406.9 1015.0,1408.0 1017.6,1411.8 1020.1,1410.6 1022.6,1410.9 1025.2,1411.6 1027.7,1414.4 1030.3,1415.5 1032.8,1417.1 1035.3,1420.9 1037.9,1423.6 1040.4,1422.6 1042.9,1429.4 1045.5,1429.6 1048.0,1434.2 1050.5,1435.4 1053.1,1441.4 1055.6,1443.0 1058.1,1446.5 1060.7,1450.6 1063.2,1453.3 1065.7,1458.2 1068.3,1460.8 1070.8,1464.5 1073.3,1466.1 1075.9,1470.1 1078.4,1474.3 1081.0,1475.1 1083.5,1476.6 1086.0,1479.3 1088.6,1477.8 1091.1,1480.6 1093.6,1481.5 1096.2,1485.2 1098.7,1486.4 1101.2,1486.2 1103.8,1491.4 1106.3,1490.9 1108.8,1493.3 1111.4,1496.1 1113.9,1497.3 1116.4,1501.0 1119.0,1501.3 1121.5,1505.4 1124.0,1507.6 1126.6,1506.0 1129.1,1510.9 1131.7,1514.7 1134.2,1512.3 1136.7,1516.3 1139.3,1521.5 1141.8,1518.0 1144.3,1517.7 1146.9,1519.3 1149.4,1518.1 1151.9,1521.2 1154.5,1520.7 1157.0,1523.4 1159.5,1522.4 1162.1,1521.2 1164.6,1523.5 1167.1,1525.1 1169.7,1529.4 1172.2,1528.8 1174.7,1531.8 1177.3,1530.9 1179.8,1535.0 1182.4,1535.5 1184.9,1539.3 1187.4,1537.3 1190.0,1543.4 1192.5,1543.5 1195.0,1541.8 1197.6,1546.9 1200.1,1550.1 1202.6,1549.7 1205.2,1550.8 1207.7,1552.4 1210.2,1557.7 1212.8,1556.0 1215.3,1560.5 1217.8,1556.2 1220.4,1559.9 1222.9,1562.0 1225.4,1562.0 1228.0,1564.0 1230.5,1568.1 1233.1,1566.2 1235.6,1570.6 1238.1,1574.4 1240.7,1571.4 1243.2,1572.3 1245.7,1573.6 1248.3,1575.5 1250.8,1578.5 1253.3,1577.3 1255.9,1577.6 1258.4,1580.8 1260.9,1581.6 1263.5,1586.8 1266.0,1586.0 1268.5,1587.7 1271.1,1592.5 1273.6,1593.9 1276.1,1593.8 1278.7,1593.7 1281.2,1594.2 1283.8,1596.1 1286.3,1596.8 1288.8,1597.9 1291.4,1598.7 1293.9,1599.1 1296.4,1600.5 1299.0,1602.6 1301.5,1603.6 1304.0,1606.1 1306.6,1605.9 1309.1,1609.1 1311.6,1607.4 1314.2,1610.8 1316.7,1611.2 1319.2,1613.3 1321.8,1613.2 1324.3,1612.8 1326.8,1613.2 1329.4,1614.2 1331.9,1615.0 1334.5,1613.4 1337.0,1613.3 1339.5,1612.8 1342.1,1612.1 1344.6,1614.5 1347.1,1617.3 1349.7,1615.3 1352.2,1618.4 1354.7,1618.6 1357.3,1616.4 1359.8,1618.2 1362.3,1621.1 1364.9,1622.4 1367.4,1623.0 1369.9,1626.7 1372.5,1625.0 1375.0,1627.5 1377.5,1625.9 1380.1,1631.3 1382.6,1629.8 1385.2,1633.3 1387.7,1632.1 1390.2,1635.9 1392.8,1634.4 1395.3,1636.8 1397.8,1637.9 1400.4,1637.4 1402.9,1636.9 1405.4,1637.4 1408.0,1636.0 1410.5,1637.2 1413.0,1642.2 1415.6,1639.3 1418.1,1641.8 1420.6,1639.8 1423.2,1638.7 1425.7,1641.7 1428.2,1642.0 1430.8,1640.7 1433.3,1642.1 1435.9,1640.3 1438.4,1643.1 1440.9,1643.9 1443.5,1643.4 1446.0,1647.6 1448.5,1648.0 1451.1,1650.3 1453.6,1649.5 1456.1,1649.1 1458.7,1649.3 1461.2,1651.9 1463.7,1653.5 1466.3,1654.2 1468.8,1655.7 1471.3,1654.1 1473.9,1652.8 1476.4,1658.3 1478.9,1658.2 1481.5,1653.2 1484.0,1657.2 1486.6,1654.1 1489.1,1655.9 1491.6,1652.6 1494.2,1652.2 1496.7,1652.9 1499.2,1652.0 1501.8,1653.4 1504.3,1653.3 1506.8,1652.3 1509.4,1654.2 1511.9,1657.7 1514.4,1658.9 1517.0,1659.2 1519.5,1660.2 1522.0,1660.7 1524.6,1662.5 1527.1,1661.5 1529.6,1663.1 1532.2,1663.3 1534.7,1664.3 1537.3,1663.9 1539.8,1666.7 1542.3,1663.1 1544.9,1664.9 1547.4,1664.6 1549.9,1664.1 1552.5,1663.1 1555.0,1663.2 1557.5,1663.4 1560.1,1663.7 1562.6,1665.6 1565.1,1663.1 1567.7,1664.2 1570.2,1664.9 1572.7,1662.0 1575.3,1669.0 1577.8,1667.4 1580.3,1666.6 1582.9,1667.7 1585.4,1667.7 1588.0,1671.4 1590.5,1671.0 1593.0,1668.7 1595.6,1669.8 1598.1,1666.8 1600.6,1668.6 1603.2,1668.2 1605.7,1666.2 1608.2,1662.8 1610.8,1653.9 1613.3,1644.9 1615.8,1638.1 1618.4,1641.7 1620.9,1650.3 1623.4,1662.7 1626.0,1669.2 1628.5,1669.6 1631.0,1671.5 1633.6,1674.4 1636.1,1674.7 1638.7,1677.4 1641.2,1674.8 1643.7,1681.6 1646.3,1678.8 1648.8,1684.0 1651.3,1683.7 1653.9,1685.9 1656.4,1686.9 1658.9,1685.6 1661.5,1686.0 1664.0,1687.6 1666.5,1688.4 1669.1,1684.1 1671.6,1684.8 1674.1,1686.4 1676.7,1686.9 1679.2,1686.1 1681.7,1686.5 1684.3,1685.2 1686.8,1688.5 1689.4,1687.5 1691.9,1689.0 1694.4,1686.5 1697.0,1686.2 1699.5,1689.2 1702.0,1688.7 1704.6,1687.7 1707.1,1690.3 1709.6,1691.4 1712.2,1688.8 1714.7,1689.6 1717.2,1690.6 1719.8,1688.1 1722.3,1689.7 1724.8,1692.2 1727.4,1689.0 1729.9,1689.2 1732.4,1686.2 1735.0,1688.6 1737.5,1688.8 1740.1,1688.0 1742.6,1688.7 1745.1,1691.6 1747.7,1690.3 1750.2,1691.9 1752.7,1690.4 1755.3,1689.9 1757.8,1695.4 1760.3,1695.5 1762.9,1695.5 1765.4,1695.2 1767.9,1695.1 1770.5,1693.9 1773.0,1692.4 1775.5,1695.6 1778.1,1695.9 1780.6,1696.5 1783.1,1692.6 1785.7,1692.6 1788.2,1696.9 1790.7,1697.4 1793.3,1695.2 1795.8,1694.0Z" fill="url(#g1)" stroke="#3b6698" stroke-width="7.4" stroke-linejoin="round" stroke-dasharray="0 1520.99 100000"/>
<path d="M1759.0,1789.6L209.6,1789.6L209.6,1760.2 212.1,1761.1 214.7,1760.0 217.3,1759.8 219.9,1760.2 222.5,1755.8 225.1,1757.5 227.6,1757.9 230.2,1755.9 232.8,1756.1 235.4,1752.5 238.0,1749.4 240.5,1751.0 243.1,1745.7 245.7,1742.1 248.3,1742.0 250.9,1741.5 253.5,1738.2 256.0,1734.3 258.6,1732.3 261.2,1728.7 263.8,1723.5 266.4,1719.3 269.0,1713.8 271.5,1711.6 274.1,1702.1 276.7,1697.7 279.3,1691.9 281.9,1687.7 284.4,1677.3 287.0,1672.8 289.6,1661.6 292.2,1653.9 294.8,1647.3 297.4,1636.8 299.9,1623.3 302.5,1614.1 305.1,1605.2 307.7,1594.1 310.3,1583.5 312.9,1574.1 315.4,1562.2 318.0,1551.2 320.6,1538.5 323.2,1523.6 325.8,1510.6 328.3,1491.4 330.9,1473.6 333.5,1451.9 336.1,1429.3 338.7,1404.9 341.3,1381.1 343.8,1356.1 346.4,1332.9 349.0,1308.3 351.6,1287.9 354.2,1265.9 356.7,1244.8 359.3,1227.5 361.9,1209.7 364.5,1196.0 367.1,1177.9 369.7,1167.1 372.2,1153.4 374.8,1142.9 377.4,1131.5 380.0,1124.6 382.6,1117.9 385.2,1112.6 387.7,1104.7 390.3,1101.3 392.9,1095.0 395.5,1090.7 398.1,1093.6 400.6,1090.8 403.2,1087.9 405.8,1086.5 408.4,1088.5 411.0,1089.7 413.6,1091.3 416.1,1093.5 418.7,1094.9 421.3,1099.9 423.9,1106.6 426.5,1110.2 429.1,1114.4 431.6,1121.5 434.2,1126.8 436.8,1133.4 439.4,1140.1 442.0,1144.6 444.5,1152.5 447.1,1159.8 449.7,1165.4 452.3,1170.2 454.9,1172.9 457.5,1181.0 460.0,1184.3 462.6,1190.6 465.2,1198.9 467.8,1199.6 470.4,1205.5 473.0,1210.1 475.5,1213.4 478.1,1212.9 480.7,1221.2 483.3,1223.0 485.9,1223.5 488.4,1226.8 491.0,1232.3 493.6,1231.7 496.2,1233.4 498.8,1233.6 501.4,1232.5 503.9,1234.2 506.5,1233.3 509.1,1229.9 511.7,1233.4 514.3,1229.8 516.9,1226.8 519.4,1227.2 522.0,1224.0 524.6,1222.4 527.2,1217.4 529.8,1215.4 532.3,1210.1 534.9,1206.1 537.5,1203.7 540.1,1200.2 542.7,1194.9 545.3,1190.5 547.8,1187.5 550.4,1179.1 553.0,1175.0 555.6,1168.9 558.2,1166.6 560.8,1158.3 563.3,1151.6 565.9,1149.0 568.5,1147.6 571.1,1141.4 573.7,1137.8 576.2,1133.9 578.8,1131.2 581.4,1127.0 584.0,1125.4 586.6,1121.6 589.2,1120.3 591.7,1116.7 594.3,1113.1 596.9,1113.2 599.5,1109.8 602.1,1110.6 604.7,1108.8 607.2,1107.9 609.8,1105.6 612.4,1108.9 615.0,1106.9 617.6,1112.0 620.1,1111.8 622.7,1112.4 625.3,1115.2 627.9,1120.4 630.5,1123.8 633.1,1124.3 635.6,1131.2 638.2,1132.9 640.8,1139.2 643.4,1143.6 646.0,1145.7 648.6,1152.6 651.1,1159.7 653.7,1169.0 656.3,1172.7 658.9,1179.2 661.5,1185.5 664.0,1189.3 666.6,1199.5 669.2,1202.3 671.8,1208.2 674.4,1215.0 677.0,1217.1 679.5,1227.1 682.1,1231.0 684.7,1236.9 687.3,1246.3 689.9,1251.5 692.5,1257.2 695.0,1261.0 697.6,1267.0 700.2,1273.5 702.8,1279.6 705.4,1288.4 707.9,1289.7 710.5,1295.2 713.1,1296.9 715.7,1300.4 718.3,1302.8 720.9,1308.6 723.4,1312.0 726.0,1318.3 728.6,1320.5 731.2,1326.3 733.8,1327.2 736.4,1334.2 738.9,1336.7 741.5,1341.5 744.1,1344.6 746.7,1346.8 749.3,1351.4 751.8,1353.1 754.4,1357.5 757.0,1356.4 759.6,1361.4 762.2,1360.9 764.8,1361.0 767.3,1369.2 769.9,1368.7 772.5,1369.0 775.1,1368.5 777.7,1372.2 780.3,1372.4 782.8,1375.3 785.4,1374.8 788.0,1378.7 790.6,1377.0 793.2,1383.8 795.7,1383.5 798.3,1379.4 800.9,1383.0 803.5,1385.9 806.1,1382.7 808.7,1385.8 811.2,1387.1 813.8,1390.8 816.4,1390.8 819.0,1392.6 821.6,1397.3 824.2,1395.8 826.7,1398.6 829.3,1398.1 831.9,1399.7 834.5,1404.1 837.1,1405.5 839.6,1405.8 842.2,1406.4 844.8,1409.1 847.4,1409.7 850.0,1409.6 852.6,1410.7 855.1,1410.4 857.7,1412.6 860.3,1415.0 862.9,1417.3 865.5,1414.8 868.1,1417.8 870.6,1419.5 873.2,1421.3 875.8,1425.3 878.4,1426.0 881.0,1431.8 883.5,1431.3 886.1,1434.9 888.7,1433.8 891.3,1438.7 893.9,1442.5 896.5,1444.7 899.0,1446.4 901.6,1451.0 904.2,1452.5 906.8,1454.8 909.4,1452.6 912.0,1458.0 914.5,1462.8 917.1,1460.5 919.7,1459.6 922.3,1466.5 924.9,1461.8 927.4,1468.9 930.0,1469.5 932.6,1474.3 935.2,1476.6 937.8,1480.9 940.4,1483.8 942.9,1488.5 945.5,1486.7 948.1,1492.9 950.7,1493.3 953.3,1495.6 955.9,1499.1 958.4,1499.8 961.0,1501.7 963.6,1503.9 966.2,1504.6 968.8,1506.1 971.3,1509.2 973.9,1511.3 976.5,1512.4 979.1,1513.0 981.7,1513.3 984.3,1515.6 986.8,1519.8 989.4,1521.6 992.0,1525.6 994.6,1527.0 997.2,1531.1 999.7,1533.4 1002.3,1536.9 1004.9,1538.8 1007.5,1538.4 1010.1,1545.2 1012.7,1545.9 1015.2,1549.2 1017.8,1549.6 1020.4,1551.1 1023.0,1557.1 1025.6,1563.7 1028.2,1561.7 1030.7,1564.7 1033.3,1571.0 1035.9,1571.7 1038.5,1574.1 1041.1,1579.9 1043.6,1577.8 1046.2,1580.1 1048.8,1582.2 1051.4,1585.7 1054.0,1586.6 1056.6,1587.8 1059.1,1587.4 1061.7,1590.7 1064.3,1588.4 1066.9,1591.3 1069.5,1596.4 1072.1,1592.2 1074.6,1596.1 1077.2,1598.8 1079.8,1599.7 1082.4,1604.5 1085.0,1603.5 1087.5,1609.3 1090.1,1608.9 1092.7,1606.9 1095.3,1608.3 1097.9,1611.4 1100.5,1612.8 1103.0,1610.3 1105.6,1611.7 1108.2,1611.3 1110.8,1610.8 1113.4,1613.6 1116.0,1611.6 1118.5,1617.0 1121.1,1613.3 1123.7,1619.9 1126.3,1621.2 1128.9,1624.3 1131.4,1625.6 1134.0,1629.1 1136.6,1633.0 1139.2,1635.8 1141.8,1638.5 1144.4,1641.3 1146.9,1645.5 1149.5,1647.2 1152.1,1648.0 1154.7,1645.2 1157.3,1646.0 1159.9,1646.3 1162.4,1646.3 1165.0,1647.7 1167.6,1649.6 1170.2,1651.2 1172.8,1652.8 1175.3,1649.3 1177.9,1651.0 1180.5,1655.6 1183.1,1655.4 1185.7,1655.8 1188.3,1655.5 1190.8,1660.3 1193.4,1660.6 1196.0,1660.7 1198.6,1666.5 1201.2,1666.5 1203.8,1667.0 1206.3,1669.7 1208.9,1667.2 1211.5,1670.8 1214.1,1673.6 1216.7,1677.2 1219.2,1676.4 1221.8,1678.7 1224.4,1682.3 1227.0,1684.0 1229.6,1687.3 1232.2,1686.8 1234.7,1686.9 1237.3,1688.1 1239.9,1690.0 1242.5,1690.9 1245.1,1694.1 1247.7,1694.9 1250.2,1693.4 1252.8,1695.5 1255.4,1698.1 1258.0,1697.0 1260.6,1697.2 1263.1,1698.0 1265.7,1699.4 1268.3,1700.9 1270.9,1700.0 1273.5,1698.5 1276.1,1701.2 1278.6,1702.7 1281.2,1701.6 1283.8,1704.3 1286.4,1702.5 1289.0,1703.7 1291.6,1702.2 1294.1,1703.9 1296.7,1702.9 1299.3,1701.6 1301.9,1705.8 1304.5,1707.2 1307.0,1705.8 1309.6,1707.2 1312.2,1707.5 1314.8,1709.3 1317.4,1708.2 1320.0,1709.7 1322.5,1713.9 1325.1,1712.0 1327.7,1712.2 1330.3,1712.1 1332.9,1716.0 1335.5,1717.7 1338.0,1716.2 1340.6,1720.1 1343.2,1720.3 1345.8,1720.9 1348.4,1721.5 1350.9,1723.5 1353.5,1726.0 1356.1,1723.5 1358.7,1726.3 1361.3,1727.0 1363.9,1723.7 1366.4,1725.9 1369.0,1729.2 1371.6,1728.7 1374.2,1728.7 1376.8,1729.8 1379.4,1731.8 1381.9,1728.1 1384.5,1728.4 1387.1,1729.5 1389.7,1730.7 1392.3,1730.2 1394.8,1729.9 1397.4,1732.8 1400.0,1732.4 1402.6,1733.4 1405.2,1732.3 1407.8,1733.7 1410.3,1736.9 1412.9,1736.8 1415.5,1734.2 1418.1,1739.0 1420.7,1738.2 1423.3,1740.0 1425.8,1738.0 1428.4,1740.5 1431.0,1741.7 1433.6,1743.4 1436.2,1742.6 1438.7,1741.6 1441.3,1742.4 1443.9,1746.0 1446.5,1742.5 1449.1,1745.9 1451.7,1748.0 1454.2,1747.3 1456.8,1749.4 1459.4,1750.4 1462.0,1751.6 1464.6,1751.8 1467.2,1753.4 1469.7,1755.9 1472.3,1753.3 1474.9,1755.2 1477.5,1752.9 1480.1,1753.8 1482.6,1753.6 1485.2,1754.0 1487.8,1752.0 1490.4,1754.1 1493.0,1754.7 1495.6,1752.5 1498.1,1756.8 1500.7,1753.2 1503.3,1752.4 1505.9,1753.5 1508.5,1751.4 1511.1,1752.7 1513.6,1754.2 1516.2,1755.7 1518.8,1754.4 1521.4,1757.9 1524.0,1758.4 1526.5,1757.7 1529.1,1758.8 1531.7,1757.5 1534.3,1761.4 1536.9,1764.2 1539.5,1760.7 1542.0,1759.8 1544.6,1761.7 1547.2,1758.9 1549.8,1758.2 1552.4,1761.5 1555.0,1760.9 1557.5,1761.8 1560.1,1759.0 1562.7,1758.4 1565.3,1757.4 1567.9,1756.7 1570.4,1749.6 1573.0,1742.8 1575.6,1738.6 1578.2,1740.7 1580.8,1748.9 1583.4,1754.9 1585.9,1759.2 1588.5,1761.3 1591.1,1763.3 1593.7,1764.8 1596.3,1764.3 1598.8,1763.9 1601.4,1765.7 1604.0,1765.6 1606.6,1766.7 1609.2,1767.5 1611.8,1767.2 1614.3,1769.5 1616.9,1767.0 1619.5,1771.4 1622.1,1769.2 1624.7,1772.6 1627.3,1769.2 1629.8,1770.9 1632.4,1774.1 1635.0,1774.4 1637.6,1776.1 1640.2,1775.2 1642.7,1775.1 1645.3,1772.5 1647.9,1778.7 1650.5,1775.3 1653.1,1778.3 1655.7,1777.4 1658.2,1776.8 1660.8,1777.5 1663.4,1777.8 1666.0,1778.9 1668.6,1778.7 1671.2,1778.5 1673.7,1777.1 1676.3,1781.0 1678.9,1779.5 1681.5,1780.5 1684.1,1780.0 1686.6,1779.5 1689.2,1776.3 1691.8,1774.1 1694.4,1774.5 1697.0,1777.2 1699.6,1774.5 1702.1,1775.5 1704.7,1772.8 1707.3,1771.7 1709.9,1773.2 1712.5,1773.8 1715.1,1776.5 1717.6,1780.5 1720.2,1781.8 1722.8,1780.1 1725.4,1779.8 1728.0,1779.2 1730.5,1781.5 1733.1,1780.6 1735.7,1779.8 1738.3,1778.0 1740.9,1779.2 1743.5,1780.4 1746.0,1777.3 1748.6,1778.6 1751.2,1779.1 1753.8,1782.1 1756.4,1780.8 1759.0,1783.6Z" fill="url(#g0)" stroke="#e2001a" stroke-width="7.4" stroke-linejoin="round" stroke-dasharray="0 1549.40 100000"/>
<path d="M176.00,1836.00 L176.00,1049.00 L1048.20,33.01 L2232.65,33.01 L2232.65,629.02 L1740.00,1836.00 L176.00,1836.00Z" fill="none" stroke="#000" stroke-width="6.5" stroke-linejoin="miter"/>
<line x1="176.00" y1="1836.00" x2="176.00" y2="1870.00" stroke="#000" stroke-width="6"/>
<line x1="306.33" y1="1836.00" x2="306.33" y2="1854.00" stroke="#000" stroke-width="6"/>
<line x1="436.67" y1="1836.00" x2="436.67" y2="1870.00" stroke="#000" stroke-width="6"/>
<line x1="567.00" y1="1836.00" x2="567.00" y2="1854.00" stroke="#000" stroke-width="6"/>
<line x1="697.33" y1="1836.00" x2="697.33" y2="1870.00" stroke="#000" stroke-width="6"/>
<line x1="827.67" y1="1836.00" x2="827.67" y2="1854.00" stroke="#000" stroke-width="6"/>
<line x1="958.00" y1="1836.00" x2="958.00" y2="1870.00" stroke="#000" stroke-width="6"/>
<line x1="1088.33" y1="1836.00" x2="1088.33" y2="1854.00" stroke="#000" stroke-width="6"/>
<line x1="1218.67" y1="1836.00" x2="1218.67" y2="1870.00" stroke="#000" stroke-width="6"/>
<line x1="1349.00" y1="1836.00" x2="1349.00" y2="1854.00" stroke="#000" stroke-width="6"/>
<line x1="1479.33" y1="1836.00" x2="1479.33" y2="1870.00" stroke="#000" stroke-width="6"/>
<line x1="1609.67" y1="1836.00" x2="1609.67" y2="1854.00" stroke="#000" stroke-width="6"/>
<line x1="1740.00" y1="1836.00" x2="1740.00" y2="1870.00" stroke="#000" stroke-width="6"/>
<line x1="1740.00" y1="1836.00" x2="1758.00" y2="1836.00" stroke="#000" stroke-width="5.5"/>
<line x1="1758.95" y1="1789.56" x2="1794.62" y2="1789.56" stroke="#000" stroke-width="5.5"/>
<line x1="1777.56" y1="1743.98" x2="1795.22" y2="1743.98" stroke="#000" stroke-width="5.5"/>
<line x1="1795.82" y1="1699.24" x2="1830.83" y2="1699.24" stroke="#000" stroke-width="5.5"/>
<line x1="1813.75" y1="1655.31" x2="1831.10" y2="1655.31" stroke="#000" stroke-width="5.5"/>
<line x1="1831.36" y1="1612.17" x2="1865.74" y2="1612.17" stroke="#000" stroke-width="5.5"/>
<line x1="1848.65" y1="1569.80" x2="1865.69" y2="1569.80" stroke="#000" stroke-width="5.5"/>
<line x1="1865.64" y1="1528.18" x2="1899.41" y2="1528.18" stroke="#000" stroke-width="5.5"/>
<line x1="1882.33" y1="1487.29" x2="1899.07" y2="1487.29" stroke="#000" stroke-width="5.5"/>
<line x1="1898.73" y1="1447.11" x2="1931.92" y2="1447.11" stroke="#000" stroke-width="5.5"/>
<line x1="1914.85" y1="1407.62" x2="1931.30" y2="1407.62" stroke="#000" stroke-width="5.5"/>
<line x1="1930.69" y1="1368.81" x2="1963.31" y2="1368.81" stroke="#000" stroke-width="5.5"/>
<line x1="1946.26" y1="1330.65" x2="1962.44" y2="1330.65" stroke="#000" stroke-width="5.5"/>
<line x1="1961.58" y1="1293.14" x2="1993.65" y2="1293.14" stroke="#000" stroke-width="5.5"/>
<line x1="1976.63" y1="1256.25" x2="1992.54" y2="1256.25" stroke="#000" stroke-width="5.5"/>
<line x1="1991.44" y1="1219.96" x2="2022.98" y2="1219.96" stroke="#000" stroke-width="5.5"/>
<line x1="2006.01" y1="1184.28" x2="2021.65" y2="1184.28" stroke="#000" stroke-width="5.5"/>
<line x1="2020.34" y1="1149.17" x2="2051.37" y2="1149.17" stroke="#000" stroke-width="5.5"/>
<line x1="2034.44" y1="1114.63" x2="2049.83" y2="1114.63" stroke="#000" stroke-width="5.5"/>
<line x1="2048.31" y1="1080.64" x2="2078.84" y2="1080.64" stroke="#000" stroke-width="5.5"/>
<line x1="2061.96" y1="1047.19" x2="2077.11" y2="1047.19" stroke="#000" stroke-width="5.5"/>
<line x1="2075.40" y1="1014.26" x2="2105.46" y2="1014.26" stroke="#000" stroke-width="5.5"/>
<line x1="2088.63" y1="981.85" x2="2103.54" y2="981.85" stroke="#000" stroke-width="5.5"/>
<line x1="2101.66" y1="949.94" x2="2131.24" y2="949.94" stroke="#000" stroke-width="5.5"/>
<line x1="2114.48" y1="918.53" x2="2129.16" y2="918.53" stroke="#000" stroke-width="5.5"/>
<line x1="2127.11" y1="887.59" x2="2156.24" y2="887.59" stroke="#000" stroke-width="5.5"/>
<line x1="2139.54" y1="857.12" x2="2154.00" y2="857.12" stroke="#000" stroke-width="5.5"/>
<line x1="2151.79" y1="827.11" x2="2180.49" y2="827.11" stroke="#000" stroke-width="5.5"/>
<line x1="2163.86" y1="797.54" x2="2178.10" y2="797.54" stroke="#000" stroke-width="5.5"/>
<line x1="2175.75" y1="768.42" x2="2204.02" y2="768.42" stroke="#000" stroke-width="5.5"/>
<line x1="2187.46" y1="739.72" x2="2201.49" y2="739.72" stroke="#000" stroke-width="5.5"/>
<line x1="2199.01" y1="711.44" x2="2226.87" y2="711.44" stroke="#000" stroke-width="5.5"/>
<line x1="2210.38" y1="683.57" x2="2224.21" y2="683.57" stroke="#000" stroke-width="5.5"/>
<line x1="2221.59" y1="656.10" x2="2249.05" y2="656.10" stroke="#000" stroke-width="5.5"/>
<line x1="2232.65" y1="629.02" x2="2246.28" y2="629.02" stroke="#000" stroke-width="5.5"/>
<text x="176.0" y="1958" font-family="'Liberation Sans', Arial, sans-serif" font-size="73.5" text-anchor="middle">500</text>
<text x="436.7" y="1958" font-family="'Liberation Sans', Arial, sans-serif" font-size="73.5" text-anchor="middle">550</text>
<text x="697.3" y="1958" font-family="'Liberation Sans', Arial, sans-serif" font-size="73.5" text-anchor="middle">600</text>
<text x="958.0" y="1958" font-family="'Liberation Sans', Arial, sans-serif" font-size="73.5" text-anchor="middle">650</text>
<text x="1218.7" y="1958" font-family="'Liberation Sans', Arial, sans-serif" font-size="73.5" text-anchor="middle">700</text>
<text x="1479.3" y="1958" font-family="'Liberation Sans', Arial, sans-serif" font-size="73.5" text-anchor="middle">750</text>
<text x="1740.0" y="1958" font-family="'Liberation Sans', Arial, sans-serif" font-size="73.5" text-anchor="middle">800</text>
<text x="956.8" y="2102.7" font-family="'Liberation Sans', Arial, sans-serif" font-size="81.5" font-weight="bold" text-anchor="middle">Wavelength (nm)</text>
<text transform="translate(105.9,1442.3) rotate(-90)" font-family="'Liberation Sans', Arial, sans-serif" font-size="82" font-weight="bold" text-anchor="middle">Normalized Intensity</text>
<text transform="translate(1811.4,1815.0) scale(0.935,1)" font-family="'Liberation Sans', Arial, sans-serif" font-size="75.3" font-weight="bold">0%</text>
<text transform="translate(1847.3,1724.2) scale(0.935,1)" font-family="'Liberation Sans', Arial, sans-serif" font-size="73.9" font-weight="bold">10%</text>
<text transform="translate(1881.8,1636.7) scale(0.935,1)" font-family="'Liberation Sans', Arial, sans-serif" font-size="72.6" font-weight="bold">20%</text>
<text transform="translate(1915.2,1552.2) scale(0.935,1)" font-family="'Liberation Sans', Arial, sans-serif" font-size="71.3" font-weight="bold">30%</text>
<text transform="translate(1947.4,1470.7) scale(0.935,1)" font-family="'Liberation Sans', Arial, sans-serif" font-size="70.1" font-weight="bold">40%</text>
<text transform="translate(1978.4,1392.0) scale(0.935,1)" font-family="'Liberation Sans', Arial, sans-serif" font-size="68.9" font-weight="bold">50%</text>
<text transform="translate(2008.5,1315.9) scale(0.935,1)" font-family="'Liberation Sans', Arial, sans-serif" font-size="67.7" font-weight="bold">60%</text>
<text transform="translate(2037.5,1242.3) scale(0.935,1)" font-family="'Liberation Sans', Arial, sans-serif" font-size="66.6" font-weight="bold">70%</text>
<text transform="translate(2065.6,1171.1) scale(0.935,1)" font-family="'Liberation Sans', Arial, sans-serif" font-size="65.5" font-weight="bold">80%</text>
<text transform="translate(2092.8,1102.2) scale(0.935,1)" font-family="'Liberation Sans', Arial, sans-serif" font-size="64.5" font-weight="bold">90%</text>
<text transform="translate(2119.2,1035.5) scale(0.935,1)" font-family="'Liberation Sans', Arial, sans-serif" font-size="63.4" font-weight="bold">92%</text>
<text transform="translate(2144.7,970.8) scale(0.935,1)" font-family="'Liberation Sans', Arial, sans-serif" font-size="62.5" font-weight="bold">94%</text>
<text transform="translate(2169.4,908.1) scale(0.935,1)" font-family="'Liberation Sans', Arial, sans-serif" font-size="61.5" font-weight="bold">96%</text>
<text transform="translate(2193.4,847.3) scale(0.935,1)" font-family="'Liberation Sans', Arial, sans-serif" font-size="60.6" font-weight="bold">98%</text>
<text transform="translate(2216.7,788.3) scale(0.935,1)" font-family="'Liberation Sans', Arial, sans-serif" font-size="59.7" font-weight="bold">98.5%</text>
<text transform="translate(2239.3,731.0) scale(0.935,1)" font-family="'Liberation Sans', Arial, sans-serif" font-size="58.8" font-weight="bold">99%</text>
<text transform="translate(2261.3,675.3) scale(0.935,1)" font-family="'Liberation Sans', Arial, sans-serif" font-size="58.0" font-weight="bold">100%</text>
</svg>
</body></html>
